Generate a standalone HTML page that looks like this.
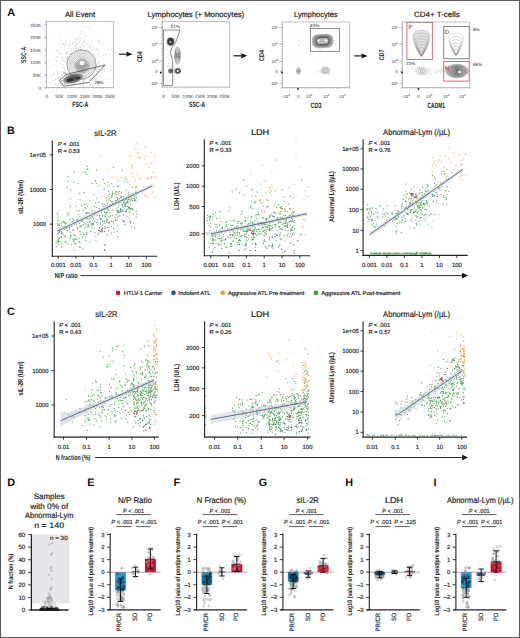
<!DOCTYPE html><html><head><meta charset="utf-8"><style>html,body{margin:0;padding:0;background:#fff;overflow:hidden}svg{display:block}text{font-family:"Liberation Sans", sans-serif;text-rendering:geometricPrecision}</style></head><body>
<svg width="520" height="638" viewBox="0 0 520 638">
<rect x="0" y="0" width="520" height="638" fill="#fff"/>
<text x="7.20" y="15.60" font-size="10.8" text-anchor="start" fill="#111" font-weight="bold">A</text>
<text x="80.00" y="16.50" font-size="7.7" text-anchor="middle" fill="#1a1a1a" textLength="30" lengthAdjust="spacingAndGlyphs" stroke="#1a1a1a" stroke-width="0.18">All Event</text>
<text x="195.80" y="16.50" font-size="7.7" text-anchor="middle" fill="#1a1a1a" textLength="96.7" lengthAdjust="spacingAndGlyphs" stroke="#1a1a1a" stroke-width="0.18">Lymphocytes (+ Monocytes)</text>
<text x="315.80" y="16.50" font-size="7.7" text-anchor="middle" fill="#1a1a1a" textLength="43.5" lengthAdjust="spacingAndGlyphs" stroke="#1a1a1a" stroke-width="0.18">Lymphocytes</text>
<text x="436.90" y="16.50" font-size="7.7" text-anchor="middle" fill="#1a1a1a" textLength="45.7" lengthAdjust="spacingAndGlyphs" stroke="#1a1a1a" stroke-width="0.18">CD4+ T-cells</text>
<path d="M81.0 64.0h0M84.6 41.9h0M77.7 57.4h0M70.3 73.8h0M75.5 47.0h0M69.1 74.9h0M81.7 66.0h0M97.1 49.5h0M75.1 56.0h0M73.6 56.5h0M86.9 61.4h0M85.3 55.6h0M82.3 52.1h0M69.8 58.3h0M80.6 49.7h0M89.3 46.5h0M64.9 61.4h0M75.5 72.6h0M58.2 43.6h0M65.5 62.0h0M58.9 54.2h0M78.2 50.3h0M65.8 72.2h0M84.3 55.8h0M82.9 80.0h0M78.8 52.6h0M50.8 66.6h0M74.5 59.3h0M80.4 53.0h0M82.4 69.1h0M62.6 60.1h0M75.3 69.2h0M69.3 61.4h0M71.3 49.0h0M93.7 60.8h0M71.3 62.6h0M80.6 73.5h0M91.6 51.1h0M74.0 61.5h0M79.7 41.3h0M82.3 69.8h0M81.8 49.0h0M66.3 40.3h0M81.9 61.3h0M97.3 75.3h0M62.4 43.7h0M91.3 48.9h0M82.4 53.1h0M73.3 48.4h0M105.0 66.6h0M90.1 52.3h0M66.6 53.3h0M81.9 69.0h0M87.9 52.9h0M78.7 67.2h0M89.2 50.3h0M80.2 47.5h0M89.0 40.0h0M98.3 84.3h0M72.9 58.2h0M83.4 64.9h0M75.4 61.6h0M82.5 63.9h0M66.8 62.6h0M74.0 84.9h0M78.6 49.5h0M91.8 43.3h0M94.7 49.9h0M65.1 46.0h0M71.5 71.0h0M88.8 71.8h0M57.1 50.5h0M75.4 45.3h0M79.8 57.7h0M96.1 78.7h0M89.3 28.2h0M77.1 68.3h0M76.6 49.1h0M78.0 74.5h0M99.3 49.1h0M75.9 58.6h0M77.4 43.9h0M85.2 50.3h0M79.6 78.6h0M78.6 71.8h0M67.6 57.2h0M80.9 51.6h0M75.7 39.3h0M95.0 57.3h0M88.8 61.6h0M80.7 61.0h0M89.0 60.9h0M76.9 48.5h0M93.6 61.2h0M80.9 61.5h0M88.0 77.5h0M65.5 84.4h0M85.2 60.4h0M60.7 52.8h0M56.6 61.2h0M77.3 54.7h0M70.2 53.1h0M83.0 61.3h0M107.9 49.5h0M71.0 69.3h0M73.5 60.8h0M83.5 65.0h0M86.9 59.8h0M78.9 53.3h0M78.5 50.6h0M89.4 59.2h0M87.2 55.4h0M68.6 64.8h0M80.0 61.9h0M81.4 45.7h0M68.3 62.8h0M84.1 45.9h0M70.7 54.6h0M92.7 58.5h0M83.3 37.1h0M82.1 63.1h0M73.9 63.8h0M79.6 60.1h0M57.0 56.9h0M67.4 57.5h0M85.4 50.3h0M55.5 58.8h0M91.2 55.4h0M60.0 63.1h0M90.1 47.6h0M70.9 64.8h0M90.3 63.7h0M82.6 60.3h0M62.6 56.7h0M96.0 68.6h0M98.3 42.0h0M80.2 67.5h0M77.7 64.9h0M79.1 65.4h0M69.3 66.6h0M94.2 54.2h0M74.5 58.9h0M80.4 69.6h0M71.5 67.2h0M73.5 64.5h0M65.7 43.8h0M96.1 68.5h0M79.2 76.0h0M92.6 74.1h0M81.2 64.8h0M72.7 43.3h0M77.1 73.3h0M74.3 60.2h0M81.1 31.6h0M76.5 66.5h0M77.4 44.1h0M64.5 46.4h0M71.3 54.4h0M100.8 77.3h0M72.9 57.5h0M68.4 65.3h0M85.0 83.0h0M97.9 81.1h0M63.6 60.8h0M78.5 59.1h0M73.4 46.9h0M59.9 53.7h0M89.8 67.1h0M80.7 66.7h0M81.9 63.3h0M72.0 73.9h0M86.5 52.7h0M74.5 61.3h0M79.3 70.8h0M67.7 69.0h0M66.4 74.9h0M97.0 66.8h0M74.9 58.3h0M84.5 66.3h0M80.6 50.0h0M75.7 42.3h0M74.9 69.0h0M88.6 61.3h0M77.4 65.7h0M79.2 41.6h0M81.3 57.6h0M95.1 54.8h0M89.2 51.6h0M85.6 34.9h0M74.2 58.0h0M64.4 72.8h0M92.4 66.6h0M92.6 54.8h0M79.3 61.8h0M87.5 71.1h0M90.4 28.9h0M91.0 60.5h0M92.1 68.5h0M75.5 70.2h0M99.2 82.4h0M66.0 75.6h0M91.3 65.8h0M86.9 65.6h0M91.5 71.4h0M103.5 55.5h0M98.8 61.5h0M67.3 72.9h0M60.7 85.5h0M90.8 60.1h0M68.8 61.4h0M80.9 64.4h0M91.1 78.1h0M61.3 61.6h0M55.7 79.6h0M84.1 50.4h0M81.5 59.8h0M78.1 59.6h0M81.5 71.4h0M70.7 74.5h0M62.8 43.9h0M79.0 51.0h0M69.3 66.0h0M61.3 54.1h0M87.1 43.7h0M80.3 74.5h0M85.9 67.9h0M69.1 67.9h0M73.1 56.3h0M69.0 74.3h0M70.4 59.1h0M83.3 75.2h0M71.6 51.1h0M85.3 51.8h0M85.1 64.5h0M105.3 53.6h0M64.3 70.1h0M91.7 65.1h0M79.9 50.9h0M80.8 62.9h0M63.6 57.8h0M75.5 73.0h0M89.9 54.4h0M80.0 56.7h0M82.0 76.5h0M94.9 86.0h0M80.7 62.8h0M54.6 64.6h0M72.7 80.4h0M57.4 60.5h0M74.6 63.4h0M97.0 67.4h0M81.6 52.1h0M66.9 42.2h0M69.7 44.8h0M94.6 70.0h0M82.9 52.9h0M81.6 60.3h0M80.4 64.6h0M81.5 69.4h0M90.7 58.0h0M87.6 68.0h0M83.6 51.3h0M68.5 57.7h0M87.1 49.7h0M72.8 75.6h0M94.1 61.7h0M65.7 53.1h0M79.3 57.8h0M80.9 59.3h0M65.1 70.4h0M101.7 42.9h0M98.5 49.6h0M75.4 57.5h0M85.5 73.5h0M49.6 60.7h0M84.0 70.5h0M82.0 59.2h0M68.1 57.6h0M77.8 76.5h0M78.9 67.9h0M95.3 70.1h0M85.0 55.9h0M80.9 85.1h0M99.3 82.5h0M74.3 68.8h0M76.3 70.2h0M59.2 37.7h0M99.8 69.7h0M92.6 59.7h0M92.0 67.2h0M89.0 70.2h0M82.3 57.9h0M83.6 41.7h0M78.0 66.4h0M78.6 53.1h0M81.7 58.0h0M99.1 54.7h0M87.7 57.9h0M80.3 34.3h0M74.0 76.6h0M73.4 65.0h0M100.2 75.3h0M87.1 85.8h0M81.8 62.3h0M76.8 40.4h0M67.7 51.3h0M80.2 47.5h0M91.5 56.0h0M76.3 63.0h0M78.3 38.0h0M78.3 66.1h0M82.3 43.9h0M61.9 65.6h0M78.2 60.7h0M70.7 58.2h0M91.6 61.1h0M71.8 55.5h0M87.9 54.7h0M99.3 41.8h0M77.2 61.6h0M73.8 84.1h0M83.3 85.8h0M81.0 77.9h0M69.1 70.5h0M86.5 53.9h0M105.2 79.3h0M77.9 61.3h0M78.6 61.2h0M68.5 58.5h0M84.8 63.1h0M66.0 56.8h0M67.7 61.0h0M96.4 49.0h0M70.1 57.5h0M99.3 61.2h0M84.1 59.1h0M87.6 68.4h0M104.4 70.5h0M78.6 48.6h0M73.9 59.5h0M64.8 73.0h0M81.5 65.2h0M98.7 63.5h0M92.5 80.6h0M69.7 53.9h0M70.7 63.0h0M74.9 55.8h0M84.5 79.9h0M78.5 38.6h0M83.6 54.0h0M84.6 55.7h0M77.4 70.0h0M80.5 69.3h0M83.5 78.7h0M80.0 43.1h0M87.0 71.0h0M103.5 58.5h0M88.1 54.0h0M81.7 68.5h0M60.8 51.0h0M85.7 37.1h0M57.6 57.6h0M64.1 44.0h0M91.3 54.2h0M89.5 66.5h0M79.2 65.7h0M60.5 81.0h0M76.5 59.6h0M72.9 43.6h0M88.6 52.9h0M108.1 51.0h0M83.6 47.4h0M71.6 67.2h0M67.0 54.3h0M80.3 38.3h0M78.9 70.4h0M67.2 60.7h0M82.4 66.3h0M67.2 63.3h0M94.3 69.6h0M93.8 62.5h0M94.0 76.8h0M75.3 67.1h0M87.2 66.7h0M79.4 66.9h0M76.3 44.5h0M76.9 60.0h0M65.4 58.9h0M63.7 64.5h0M90.5 45.7h0M78.7 81.6h0M83.6 63.3h0M93.0 47.5h0M60.2 41.5h0M71.6 58.6h0M83.1 60.9h0M85.7 53.4h0M76.5 63.1h0M93.4 54.3h0M83.5 68.6h0M66.4 53.3h0M69.8 61.5h0M90.7 73.7h0M58.2 49.9h0M97.2 56.4h0M88.2 51.9h0M97.1 71.4h0M76.4 48.2h0M77.5 56.2h0M67.5 61.6h0M111.4 50.3h0M78.9 50.5h0M100.1 56.3h0M73.2 36.8h0" stroke="#8a8a8a" stroke-width="0.6" stroke-linecap="round" stroke-opacity="0.75"/>
<path d="M51.1 65.3h0M71.7 70.9h0M83.0 46.4h0M76.3 64.4h0M70.7 48.4h0M96.0 49.1h0M91.1 59.2h0M78.4 58.5h0M62.3 47.8h0M92.6 50.3h0M68.4 78.0h0M56.6 61.8h0M64.0 73.9h0M109.0 79.6h0M84.4 68.6h0M70.4 43.1h0M98.8 72.6h0M68.0 52.3h0M95.3 22.8h0M70.0 40.6h0M78.3 70.0h0M86.5 72.2h0M104.2 71.3h0M70.2 56.7h0M74.4 69.8h0M80.3 56.6h0M82.2 76.5h0M86.3 69.4h0M96.3 39.4h0M58.0 75.3h0M97.4 53.9h0M95.5 64.7h0M85.1 41.6h0M83.1 41.6h0M61.5 57.5h0M77.8 66.9h0M89.2 76.4h0M94.9 55.4h0M71.3 76.9h0M86.1 58.3h0M74.4 56.3h0M82.4 68.3h0M77.4 77.1h0M57.2 51.9h0M79.6 53.6h0M97.5 55.1h0M60.7 59.5h0M75.2 41.8h0M93.3 76.5h0M58.6 50.8h0M83.7 66.3h0M58.8 43.1h0M102.7 64.5h0M94.8 64.7h0M82.0 75.3h0M111.0 46.1h0M53.6 51.1h0M101.1 65.8h0M79.0 59.1h0M108.2 58.9h0M83.7 52.8h0M66.5 25.4h0M85.5 53.9h0M80.7 64.7h0M89.8 44.9h0M69.6 45.1h0M98.0 62.9h0M94.0 32.2h0M83.0 26.5h0M81.4 38.8h0M70.9 40.6h0M76.2 39.0h0M103.8 69.7h0M52.3 33.3h0M103.8 63.4h0M67.2 52.2h0M58.0 56.9h0M105.2 68.2h0M54.0 61.5h0M72.8 60.2h0M98.6 40.5h0M103.8 68.5h0M71.5 53.6h0" stroke="#aaa" stroke-width="0.6" stroke-linecap="round" stroke-opacity="0.7"/>
<path d="M80.3 72.5h0M71.6 78.8h0M89.4 75.9h0M52.2 76.5h0M69.0 71.0h0M80.8 74.4h0M68.5 77.9h0M64.1 81.6h0M69.3 82.0h0M58.2 77.7h0M73.2 77.2h0M96.4 74.7h0M83.5 79.6h0M60.9 77.0h0M63.3 80.4h0M68.0 85.0h0M82.0 77.9h0M63.8 72.0h0M65.1 74.6h0M80.8 72.2h0M80.6 73.2h0M68.3 83.2h0M60.8 78.9h0M56.5 71.9h0M65.0 80.6h0M49.7 83.0h0M79.5 76.6h0M65.7 75.3h0M76.8 76.7h0M90.7 79.1h0M83.7 80.6h0M60.5 82.7h0M80.7 82.8h0M83.6 82.7h0M64.5 83.4h0M62.5 80.6h0M70.9 71.9h0M56.0 77.5h0M86.7 79.3h0M47.9 76.5h0M60.9 81.6h0M69.3 76.6h0M69.7 74.3h0M73.7 83.8h0M74.7 80.7h0M69.9 78.9h0M83.4 81.7h0M50.6 82.3h0M72.0 79.4h0M64.9 68.2h0M73.3 75.3h0M74.2 76.2h0M62.9 74.1h0M65.6 78.8h0M79.9 82.8h0M75.5 76.1h0M65.2 73.5h0M92.4 86.1h0M95.1 76.2h0M57.4 73.1h0M75.0 79.0h0M97.1 79.7h0M79.8 75.2h0M74.2 81.2h0M69.9 76.1h0M66.6 74.3h0M69.9 78.7h0M66.5 81.1h0M79.4 75.5h0M68.0 79.3h0M67.6 77.6h0M71.5 75.2h0M63.1 83.5h0M70.2 77.8h0M82.4 77.5h0M75.7 80.9h0M77.0 81.6h0M75.6 83.1h0M72.6 79.3h0M70.7 75.6h0M68.9 75.8h0M79.6 80.0h0M61.2 80.3h0M85.4 83.6h0M72.3 79.7h0M64.5 82.2h0M67.1 84.1h0M65.2 78.7h0M73.6 72.1h0M64.8 73.3h0M83.4 72.2h0M64.2 84.4h0M49.3 74.6h0M64.7 82.9h0M51.9 80.3h0M71.6 84.9h0M82.6 82.0h0M78.5 77.6h0M58.6 77.2h0M64.4 78.3h0M89.8 78.7h0M75.2 75.9h0M72.0 77.9h0M82.6 84.4h0M96.5 71.2h0M85.0 79.0h0M73.4 74.4h0M75.5 78.7h0M78.2 81.4h0M65.9 77.8h0M61.4 81.1h0M72.5 71.6h0M62.5 82.4h0M71.4 75.6h0M73.0 80.5h0M95.4 78.7h0M63.5 67.7h0M70.8 75.0h0M70.4 78.9h0M76.4 84.2h0M82.5 79.1h0M67.1 79.0h0M63.8 72.3h0M55.6 83.7h0M62.7 85.2h0M77.4 78.1h0M72.5 77.1h0M61.8 71.5h0M68.3 81.5h0M77.0 80.9h0M66.1 83.1h0M69.5 80.2h0M53.8 74.1h0M60.5 83.3h0M88.2 73.1h0M50.1 77.2h0M68.6 79.1h0M74.2 81.5h0M68.3 79.7h0M63.9 79.5h0M71.4 75.0h0M72.0 72.8h0M71.2 78.2h0M53.2 75.2h0M70.5 72.8h0M63.4 72.9h0M66.5 76.0h0M74.3 70.6h0M78.4 72.6h0M81.0 71.5h0M67.0 78.7h0M81.2 79.6h0M83.7 86.0h0M83.4 72.0h0M85.9 75.3h0M70.5 81.7h0M70.3 77.1h0M80.3 76.7h0" stroke="#777" stroke-width="0.6" stroke-linecap="round" stroke-opacity="0.7"/>
<circle cx="81.5" cy="64.5" r="14.6" fill="#fafafa" stroke="#555" stroke-width="0.5"/>
<ellipse cx="81.5" cy="64.5" rx="14.20" ry="14.20" fill="none" stroke="#9e9e9e" stroke-width="0.4"/>
<ellipse cx="81.5" cy="64.5" rx="12.78" ry="12.78" fill="none" stroke="#989898" stroke-width="0.4"/>
<ellipse cx="81.5" cy="64.5" rx="11.36" ry="11.36" fill="none" stroke="#929292" stroke-width="0.4"/>
<ellipse cx="81.5" cy="64.5" rx="9.94" ry="9.94" fill="none" stroke="#8d8d8d" stroke-width="0.4"/>
<ellipse cx="81.5" cy="64.5" rx="8.52" ry="8.52" fill="none" stroke="#878787" stroke-width="0.4"/>
<ellipse cx="81.5" cy="64.5" rx="7.10" ry="7.10" fill="none" stroke="#818181" stroke-width="0.4"/>
<ellipse cx="81.5" cy="64.5" rx="5.68" ry="5.68" fill="none" stroke="#7c7c7c" stroke-width="0.4"/>
<ellipse cx="81.5" cy="64.5" rx="4.26" ry="4.26" fill="none" stroke="#767676" stroke-width="0.4"/>
<ellipse cx="81.5" cy="64.5" rx="2.84" ry="2.84" fill="none" stroke="#707070" stroke-width="0.4"/>
<ellipse cx="81.5" cy="64.5" rx="1.42" ry="1.42" fill="none" stroke="#6b6b6b" stroke-width="0.4"/>
<ellipse cx="82.0" cy="66.0" rx="7.00" ry="7.00" fill="none" stroke="#7f7f7f" stroke-width="0.5"/>
<ellipse cx="82.0" cy="66.0" rx="5.83" ry="5.83" fill="none" stroke="#727272" stroke-width="0.5"/>
<ellipse cx="82.0" cy="66.0" rx="4.67" ry="4.67" fill="none" stroke="#666666" stroke-width="0.5"/>
<ellipse cx="82.0" cy="66.0" rx="3.50" ry="3.50" fill="none" stroke="#595959" stroke-width="0.5"/>
<ellipse cx="82.0" cy="66.0" rx="2.33" ry="2.33" fill="none" stroke="#4c4c4c" stroke-width="0.5"/>
<ellipse cx="82.0" cy="66.0" rx="1.17" ry="1.17" fill="none" stroke="#3f3f3f" stroke-width="0.5"/>
<ellipse cx="82" cy="63" rx="2.4" ry="2.2" fill="#fff"/>
<ellipse cx="73" cy="78.5" rx="9.5" ry="3.8" fill="#999" transform="rotate(-14 73 78.5)"/>
<ellipse cx="73.0" cy="78.5" rx="10.00" ry="4.20" fill="none" stroke="#727272" stroke-width="0.55" transform="rotate(-14 73 78.5)"/>
<ellipse cx="73.0" cy="78.5" rx="8.57" ry="3.60" fill="none" stroke="#666666" stroke-width="0.55" transform="rotate(-14 73 78.5)"/>
<ellipse cx="73.0" cy="78.5" rx="7.14" ry="3.00" fill="none" stroke="#595959" stroke-width="0.55" transform="rotate(-14 73 78.5)"/>
<ellipse cx="73.0" cy="78.5" rx="5.71" ry="2.40" fill="none" stroke="#4c4c4c" stroke-width="0.55" transform="rotate(-14 73 78.5)"/>
<ellipse cx="73.0" cy="78.5" rx="4.29" ry="1.80" fill="none" stroke="#3f3f3f" stroke-width="0.55" transform="rotate(-14 73 78.5)"/>
<ellipse cx="73.0" cy="78.5" rx="2.86" ry="1.20" fill="none" stroke="#323232" stroke-width="0.55" transform="rotate(-14 73 78.5)"/>
<ellipse cx="73.0" cy="78.5" rx="1.43" ry="0.60" fill="none" stroke="#262626" stroke-width="0.55" transform="rotate(-14 73 78.5)"/>
<ellipse cx="70" cy="80" rx="3.6" ry="1.6" fill="#2a2a2a" transform="rotate(-10 70 80)"/>
<ellipse cx="77.5" cy="78" rx="3" ry="1.4" fill="#3a3a3a" transform="rotate(-10 77.5 78)"/>
<path d="M59.5,80.5 L66.2,74.5 L105,65 L88.7,82.5 L63.7,86.2 Z" fill="none" stroke="#222" stroke-width="0.6"/>
<text x="94.50" y="83.60" font-size="4.6" text-anchor="start" fill="#333">28%</text>
<rect x="46.5" y="21.5" width="67.0" height="66.0" fill="none" stroke="#9a9a9a" stroke-width="0.6"/>
<line x1="45.30" y1="87.50" x2="46.50" y2="87.50" stroke="#777" stroke-width="0.4"/>
<line x1="45.30" y1="85.06" x2="46.50" y2="85.06" stroke="#777" stroke-width="0.4"/>
<line x1="45.30" y1="82.61" x2="46.50" y2="82.61" stroke="#777" stroke-width="0.4"/>
<line x1="45.30" y1="80.17" x2="46.50" y2="80.17" stroke="#777" stroke-width="0.4"/>
<line x1="45.30" y1="77.72" x2="46.50" y2="77.72" stroke="#777" stroke-width="0.4"/>
<line x1="45.30" y1="75.28" x2="46.50" y2="75.28" stroke="#777" stroke-width="0.4"/>
<line x1="45.30" y1="72.83" x2="46.50" y2="72.83" stroke="#777" stroke-width="0.4"/>
<line x1="45.30" y1="70.39" x2="46.50" y2="70.39" stroke="#777" stroke-width="0.4"/>
<line x1="45.30" y1="67.94" x2="46.50" y2="67.94" stroke="#777" stroke-width="0.4"/>
<line x1="45.30" y1="65.50" x2="46.50" y2="65.50" stroke="#777" stroke-width="0.4"/>
<line x1="45.30" y1="63.06" x2="46.50" y2="63.06" stroke="#777" stroke-width="0.4"/>
<line x1="45.30" y1="60.61" x2="46.50" y2="60.61" stroke="#777" stroke-width="0.4"/>
<line x1="45.30" y1="58.17" x2="46.50" y2="58.17" stroke="#777" stroke-width="0.4"/>
<line x1="45.30" y1="55.72" x2="46.50" y2="55.72" stroke="#777" stroke-width="0.4"/>
<line x1="45.30" y1="53.28" x2="46.50" y2="53.28" stroke="#777" stroke-width="0.4"/>
<line x1="45.30" y1="50.83" x2="46.50" y2="50.83" stroke="#777" stroke-width="0.4"/>
<line x1="45.30" y1="48.39" x2="46.50" y2="48.39" stroke="#777" stroke-width="0.4"/>
<line x1="45.30" y1="45.94" x2="46.50" y2="45.94" stroke="#777" stroke-width="0.4"/>
<line x1="45.30" y1="43.50" x2="46.50" y2="43.50" stroke="#777" stroke-width="0.4"/>
<line x1="45.30" y1="41.06" x2="46.50" y2="41.06" stroke="#777" stroke-width="0.4"/>
<line x1="45.30" y1="38.61" x2="46.50" y2="38.61" stroke="#777" stroke-width="0.4"/>
<line x1="45.30" y1="36.17" x2="46.50" y2="36.17" stroke="#777" stroke-width="0.4"/>
<line x1="45.30" y1="33.72" x2="46.50" y2="33.72" stroke="#777" stroke-width="0.4"/>
<line x1="45.30" y1="31.28" x2="46.50" y2="31.28" stroke="#777" stroke-width="0.4"/>
<line x1="45.30" y1="28.83" x2="46.50" y2="28.83" stroke="#777" stroke-width="0.4"/>
<line x1="45.30" y1="26.39" x2="46.50" y2="26.39" stroke="#777" stroke-width="0.4"/>
<line x1="45.30" y1="23.94" x2="46.50" y2="23.94" stroke="#777" stroke-width="0.4"/>
<line x1="45.30" y1="21.50" x2="46.50" y2="21.50" stroke="#777" stroke-width="0.4"/>
<line x1="46.50" y1="87.50" x2="46.50" y2="88.70" stroke="#777" stroke-width="0.4"/>
<line x1="48.98" y1="87.50" x2="48.98" y2="88.70" stroke="#777" stroke-width="0.4"/>
<line x1="51.46" y1="87.50" x2="51.46" y2="88.70" stroke="#777" stroke-width="0.4"/>
<line x1="53.94" y1="87.50" x2="53.94" y2="88.70" stroke="#777" stroke-width="0.4"/>
<line x1="56.43" y1="87.50" x2="56.43" y2="88.70" stroke="#777" stroke-width="0.4"/>
<line x1="58.91" y1="87.50" x2="58.91" y2="88.70" stroke="#777" stroke-width="0.4"/>
<line x1="61.39" y1="87.50" x2="61.39" y2="88.70" stroke="#777" stroke-width="0.4"/>
<line x1="63.87" y1="87.50" x2="63.87" y2="88.70" stroke="#777" stroke-width="0.4"/>
<line x1="66.35" y1="87.50" x2="66.35" y2="88.70" stroke="#777" stroke-width="0.4"/>
<line x1="68.83" y1="87.50" x2="68.83" y2="88.70" stroke="#777" stroke-width="0.4"/>
<line x1="71.31" y1="87.50" x2="71.31" y2="88.70" stroke="#777" stroke-width="0.4"/>
<line x1="73.80" y1="87.50" x2="73.80" y2="88.70" stroke="#777" stroke-width="0.4"/>
<line x1="76.28" y1="87.50" x2="76.28" y2="88.70" stroke="#777" stroke-width="0.4"/>
<line x1="78.76" y1="87.50" x2="78.76" y2="88.70" stroke="#777" stroke-width="0.4"/>
<line x1="81.24" y1="87.50" x2="81.24" y2="88.70" stroke="#777" stroke-width="0.4"/>
<line x1="83.72" y1="87.50" x2="83.72" y2="88.70" stroke="#777" stroke-width="0.4"/>
<line x1="86.20" y1="87.50" x2="86.20" y2="88.70" stroke="#777" stroke-width="0.4"/>
<line x1="88.69" y1="87.50" x2="88.69" y2="88.70" stroke="#777" stroke-width="0.4"/>
<line x1="91.17" y1="87.50" x2="91.17" y2="88.70" stroke="#777" stroke-width="0.4"/>
<line x1="93.65" y1="87.50" x2="93.65" y2="88.70" stroke="#777" stroke-width="0.4"/>
<line x1="96.13" y1="87.50" x2="96.13" y2="88.70" stroke="#777" stroke-width="0.4"/>
<line x1="98.61" y1="87.50" x2="98.61" y2="88.70" stroke="#777" stroke-width="0.4"/>
<line x1="101.09" y1="87.50" x2="101.09" y2="88.70" stroke="#777" stroke-width="0.4"/>
<line x1="103.57" y1="87.50" x2="103.57" y2="88.70" stroke="#777" stroke-width="0.4"/>
<line x1="106.06" y1="87.50" x2="106.06" y2="88.70" stroke="#777" stroke-width="0.4"/>
<line x1="108.54" y1="87.50" x2="108.54" y2="88.70" stroke="#777" stroke-width="0.4"/>
<line x1="111.02" y1="87.50" x2="111.02" y2="88.70" stroke="#777" stroke-width="0.4"/>
<line x1="113.50" y1="87.50" x2="113.50" y2="88.70" stroke="#777" stroke-width="0.4"/>
<text x="41.00" y="89.60" font-size="4.6" text-anchor="end" fill="#444">0</text>
<line x1="44.30" y1="88.00" x2="46.50" y2="88.00" stroke="#777" stroke-width="0.5"/>
<text x="41.00" y="76.98" font-size="4.6" text-anchor="end" fill="#444">50K</text>
<line x1="44.30" y1="75.38" x2="46.50" y2="75.38" stroke="#777" stroke-width="0.5"/>
<text x="41.00" y="64.36" font-size="4.6" text-anchor="end" fill="#444">100K</text>
<line x1="44.30" y1="62.76" x2="46.50" y2="62.76" stroke="#777" stroke-width="0.5"/>
<text x="41.00" y="51.74" font-size="4.6" text-anchor="end" fill="#444">150K</text>
<line x1="44.30" y1="50.14" x2="46.50" y2="50.14" stroke="#777" stroke-width="0.5"/>
<text x="41.00" y="39.12" font-size="4.6" text-anchor="end" fill="#444">200K</text>
<line x1="44.30" y1="37.52" x2="46.50" y2="37.52" stroke="#777" stroke-width="0.5"/>
<text x="41.00" y="26.50" font-size="4.6" text-anchor="end" fill="#444">250K</text>
<line x1="44.30" y1="24.90" x2="46.50" y2="24.90" stroke="#777" stroke-width="0.5"/>
<text x="46.90" y="97.70" font-size="4.6" text-anchor="middle" fill="#444">0</text>
<text x="59.40" y="97.70" font-size="4.6" text-anchor="middle" fill="#444">50K</text>
<text x="72.30" y="97.70" font-size="4.6" text-anchor="middle" fill="#444">100K</text>
<text x="85.00" y="97.70" font-size="4.6" text-anchor="middle" fill="#444">150K</text>
<text x="97.50" y="97.70" font-size="4.6" text-anchor="middle" fill="#444">200K</text>
<text x="110.00" y="97.70" font-size="4.6" text-anchor="middle" fill="#444">250K</text>
<text x="80.30" y="107.20" font-size="7.6" text-anchor="middle" fill="#1a1a1a" font-weight="bold" textLength="16" lengthAdjust="spacingAndGlyphs">FSC-A</text>
<text x="23.10" y="54.90" font-size="7" font-weight="bold" fill="#1a1a1a" text-anchor="middle" textLength="16" lengthAdjust="spacingAndGlyphs" transform="rotate(-90 23.10 54.90) translate(0 2.52)">SSC-A</text>
<line x1="118.90" y1="54.20" x2="127.22" y2="54.20" stroke="#111" stroke-width="1.1"/>
<path d="M132.50,54.20 L125.90,51.60 L127.22,54.20 L125.90,56.80 Z" fill="#111"/>
<path d="M178.8 54.0h0M170.6 42.6h0M167.4 57.4h0M166.7 62.3h0M173.3 36.1h0M173.2 44.6h0M166.5 42.8h0M168.1 66.5h0M174.1 79.9h0M174.3 67.9h0M169.4 51.1h0M174.5 76.5h0M174.3 34.8h0M164.9 77.0h0M170.8 46.8h0M163.4 78.1h0M170.9 41.6h0M175.0 58.4h0M178.3 53.0h0M182.5 35.2h0M167.5 46.5h0M175.8 62.6h0M176.9 59.1h0M175.9 72.8h0M172.6 57.1h0M174.5 46.0h0M169.1 59.6h0M183.3 38.5h0M174.8 74.6h0M179.3 42.8h0M168.4 63.4h0M177.9 55.1h0M178.4 41.4h0M178.2 51.1h0M171.9 48.8h0M167.2 49.2h0M171.3 66.6h0M165.2 47.9h0M172.4 43.3h0M168.0 60.0h0M171.3 54.6h0M171.6 70.4h0M177.2 67.8h0M171.8 55.5h0M176.8 53.6h0M168.9 44.0h0M170.7 43.3h0M175.6 42.0h0M167.0 50.5h0M170.9 50.0h0M166.7 66.4h0M172.5 50.4h0M178.5 53.2h0M169.0 38.9h0M172.9 79.0h0M168.4 63.1h0M167.4 81.0h0M167.1 67.2h0M177.8 76.9h0M181.4 52.5h0M173.9 66.0h0M174.8 38.9h0M170.7 72.5h0M175.2 79.8h0M173.2 61.9h0M173.1 66.7h0M174.4 73.9h0M169.7 46.6h0M170.4 61.8h0M165.1 43.6h0M170.2 46.3h0M166.3 47.2h0" stroke="#999" stroke-width="0.6" stroke-linecap="round" stroke-opacity="0.7"/>
<ellipse cx="170.6" cy="41.6" rx="3.4" ry="3.8" fill="#444"/>
<ellipse cx="170.6" cy="41.6" rx="3.60" ry="4.00" fill="none" stroke="#4c4c4c" stroke-width="0.6"/>
<ellipse cx="170.6" cy="41.6" rx="2.70" ry="3.00" fill="none" stroke="#373737" stroke-width="0.6"/>
<ellipse cx="170.6" cy="41.6" rx="1.80" ry="2.00" fill="none" stroke="#222222" stroke-width="0.6"/>
<ellipse cx="170.6" cy="41.6" rx="0.90" ry="1.00" fill="none" stroke="#0c0c0c" stroke-width="0.6"/>
<ellipse cx="170.4" cy="42" rx="1.2" ry="1.3" fill="#aaa"/>
<ellipse cx="177.5" cy="55.5" rx="2.6" ry="8.5" fill="#e8e8e8"/>
<ellipse cx="177.5" cy="55.5" rx="2.90" ry="8.80" fill="none" stroke="#7f7f7f" stroke-width="0.55"/>
<ellipse cx="177.5" cy="55.5" rx="2.32" ry="7.04" fill="none" stroke="#727272" stroke-width="0.55"/>
<ellipse cx="177.5" cy="55.5" rx="1.74" ry="5.28" fill="none" stroke="#666666" stroke-width="0.55"/>
<ellipse cx="177.5" cy="55.5" rx="1.16" ry="3.52" fill="none" stroke="#595959" stroke-width="0.55"/>
<ellipse cx="177.5" cy="55.5" rx="0.58" ry="1.76" fill="none" stroke="#4c4c4c" stroke-width="0.55"/>
<ellipse cx="170.6" cy="71" rx="2.2" ry="2.2" fill="#888"/>
<ellipse cx="170.6" cy="71.0" rx="2.40" ry="2.40" fill="none" stroke="#727272" stroke-width="0.5"/>
<ellipse cx="170.6" cy="71.0" rx="1.60" ry="1.60" fill="none" stroke="#525252" stroke-width="0.5"/>
<ellipse cx="170.6" cy="71.0" rx="0.80" ry="0.80" fill="none" stroke="#333333" stroke-width="0.5"/>
<ellipse cx="177.7" cy="71.0" rx="3.00" ry="2.60" fill="none" stroke="#4c4c4c" stroke-width="0.8"/>
<ellipse cx="177.7" cy="71.0" rx="2.25" ry="1.95" fill="none" stroke="#373737" stroke-width="0.8"/>
<ellipse cx="177.7" cy="71.0" rx="1.50" ry="1.30" fill="none" stroke="#222222" stroke-width="0.8"/>
<ellipse cx="177.7" cy="71.0" rx="0.75" ry="0.65" fill="none" stroke="#0c0c0c" stroke-width="0.8"/>
<ellipse cx="177.7" cy="71" rx="1" ry="0.9" fill="#fff"/>
<path d="M163.5,30 L180,30 L175.5,43 Q169.5,49 170.8,55 Q173,60 172.7,66 L172.7,85.4 L163.5,85.4 Z" fill="none" stroke="#333" stroke-width="0.55"/>
<text x="175.20" y="27.80" font-size="4.6" text-anchor="middle" fill="#333">51%</text>
<rect x="162.3" y="21.5" width="67.5" height="65.5" fill="none" stroke="#9a9a9a" stroke-width="0.6"/>
<line x1="161.10" y1="87.00" x2="162.30" y2="87.00" stroke="#777" stroke-width="0.4"/>
<line x1="161.10" y1="84.57" x2="162.30" y2="84.57" stroke="#777" stroke-width="0.4"/>
<line x1="161.10" y1="82.15" x2="162.30" y2="82.15" stroke="#777" stroke-width="0.4"/>
<line x1="161.10" y1="79.72" x2="162.30" y2="79.72" stroke="#777" stroke-width="0.4"/>
<line x1="161.10" y1="77.30" x2="162.30" y2="77.30" stroke="#777" stroke-width="0.4"/>
<line x1="161.10" y1="74.87" x2="162.30" y2="74.87" stroke="#777" stroke-width="0.4"/>
<line x1="161.10" y1="72.44" x2="162.30" y2="72.44" stroke="#777" stroke-width="0.4"/>
<line x1="161.10" y1="70.02" x2="162.30" y2="70.02" stroke="#777" stroke-width="0.4"/>
<line x1="161.10" y1="67.59" x2="162.30" y2="67.59" stroke="#777" stroke-width="0.4"/>
<line x1="161.10" y1="65.17" x2="162.30" y2="65.17" stroke="#777" stroke-width="0.4"/>
<line x1="161.10" y1="62.74" x2="162.30" y2="62.74" stroke="#777" stroke-width="0.4"/>
<line x1="161.10" y1="60.31" x2="162.30" y2="60.31" stroke="#777" stroke-width="0.4"/>
<line x1="161.10" y1="57.89" x2="162.30" y2="57.89" stroke="#777" stroke-width="0.4"/>
<line x1="161.10" y1="55.46" x2="162.30" y2="55.46" stroke="#777" stroke-width="0.4"/>
<line x1="161.10" y1="53.04" x2="162.30" y2="53.04" stroke="#777" stroke-width="0.4"/>
<line x1="161.10" y1="50.61" x2="162.30" y2="50.61" stroke="#777" stroke-width="0.4"/>
<line x1="161.10" y1="48.19" x2="162.30" y2="48.19" stroke="#777" stroke-width="0.4"/>
<line x1="161.10" y1="45.76" x2="162.30" y2="45.76" stroke="#777" stroke-width="0.4"/>
<line x1="161.10" y1="43.33" x2="162.30" y2="43.33" stroke="#777" stroke-width="0.4"/>
<line x1="161.10" y1="40.91" x2="162.30" y2="40.91" stroke="#777" stroke-width="0.4"/>
<line x1="161.10" y1="38.48" x2="162.30" y2="38.48" stroke="#777" stroke-width="0.4"/>
<line x1="161.10" y1="36.06" x2="162.30" y2="36.06" stroke="#777" stroke-width="0.4"/>
<line x1="161.10" y1="33.63" x2="162.30" y2="33.63" stroke="#777" stroke-width="0.4"/>
<line x1="161.10" y1="31.20" x2="162.30" y2="31.20" stroke="#777" stroke-width="0.4"/>
<line x1="161.10" y1="28.78" x2="162.30" y2="28.78" stroke="#777" stroke-width="0.4"/>
<line x1="161.10" y1="26.35" x2="162.30" y2="26.35" stroke="#777" stroke-width="0.4"/>
<line x1="161.10" y1="23.93" x2="162.30" y2="23.93" stroke="#777" stroke-width="0.4"/>
<line x1="161.10" y1="21.50" x2="162.30" y2="21.50" stroke="#777" stroke-width="0.4"/>
<line x1="162.30" y1="87.00" x2="162.30" y2="88.20" stroke="#777" stroke-width="0.4"/>
<line x1="164.80" y1="87.00" x2="164.80" y2="88.20" stroke="#777" stroke-width="0.4"/>
<line x1="167.30" y1="87.00" x2="167.30" y2="88.20" stroke="#777" stroke-width="0.4"/>
<line x1="169.80" y1="87.00" x2="169.80" y2="88.20" stroke="#777" stroke-width="0.4"/>
<line x1="172.30" y1="87.00" x2="172.30" y2="88.20" stroke="#777" stroke-width="0.4"/>
<line x1="174.80" y1="87.00" x2="174.80" y2="88.20" stroke="#777" stroke-width="0.4"/>
<line x1="177.30" y1="87.00" x2="177.30" y2="88.20" stroke="#777" stroke-width="0.4"/>
<line x1="179.80" y1="87.00" x2="179.80" y2="88.20" stroke="#777" stroke-width="0.4"/>
<line x1="182.30" y1="87.00" x2="182.30" y2="88.20" stroke="#777" stroke-width="0.4"/>
<line x1="184.80" y1="87.00" x2="184.80" y2="88.20" stroke="#777" stroke-width="0.4"/>
<line x1="187.30" y1="87.00" x2="187.30" y2="88.20" stroke="#777" stroke-width="0.4"/>
<line x1="189.80" y1="87.00" x2="189.80" y2="88.20" stroke="#777" stroke-width="0.4"/>
<line x1="192.30" y1="87.00" x2="192.30" y2="88.20" stroke="#777" stroke-width="0.4"/>
<line x1="194.80" y1="87.00" x2="194.80" y2="88.20" stroke="#777" stroke-width="0.4"/>
<line x1="197.30" y1="87.00" x2="197.30" y2="88.20" stroke="#777" stroke-width="0.4"/>
<line x1="199.80" y1="87.00" x2="199.80" y2="88.20" stroke="#777" stroke-width="0.4"/>
<line x1="202.30" y1="87.00" x2="202.30" y2="88.20" stroke="#777" stroke-width="0.4"/>
<line x1="204.80" y1="87.00" x2="204.80" y2="88.20" stroke="#777" stroke-width="0.4"/>
<line x1="207.30" y1="87.00" x2="207.30" y2="88.20" stroke="#777" stroke-width="0.4"/>
<line x1="209.80" y1="87.00" x2="209.80" y2="88.20" stroke="#777" stroke-width="0.4"/>
<line x1="212.30" y1="87.00" x2="212.30" y2="88.20" stroke="#777" stroke-width="0.4"/>
<line x1="214.80" y1="87.00" x2="214.80" y2="88.20" stroke="#777" stroke-width="0.4"/>
<line x1="217.30" y1="87.00" x2="217.30" y2="88.20" stroke="#777" stroke-width="0.4"/>
<line x1="219.80" y1="87.00" x2="219.80" y2="88.20" stroke="#777" stroke-width="0.4"/>
<line x1="222.30" y1="87.00" x2="222.30" y2="88.20" stroke="#777" stroke-width="0.4"/>
<line x1="224.80" y1="87.00" x2="224.80" y2="88.20" stroke="#777" stroke-width="0.4"/>
<line x1="227.30" y1="87.00" x2="227.30" y2="88.20" stroke="#777" stroke-width="0.4"/>
<line x1="229.80" y1="87.00" x2="229.80" y2="88.20" stroke="#777" stroke-width="0.4"/>
<text x="157.80" y="29.30" font-size="4.4" text-anchor="end" fill="#444">10<tspan font-size="3.08" dy="-1.54">5</tspan></text>
<line x1="159.80" y1="27.70" x2="162.30" y2="27.70" stroke="#777" stroke-width="0.5"/>
<text x="157.80" y="45.50" font-size="4.4" text-anchor="end" fill="#444">10<tspan font-size="3.08" dy="-1.54">4</tspan></text>
<line x1="159.80" y1="43.90" x2="162.30" y2="43.90" stroke="#777" stroke-width="0.5"/>
<text x="157.80" y="62.80" font-size="4.4" text-anchor="end" fill="#444">10<tspan font-size="3.08" dy="-1.54">3</tspan></text>
<line x1="159.80" y1="61.20" x2="162.30" y2="61.20" stroke="#777" stroke-width="0.5"/>
<text x="157.80" y="72.70" font-size="4.4" text-anchor="end" fill="#444">0</text>
<line x1="159.80" y1="71.10" x2="162.30" y2="71.10" stroke="#777" stroke-width="0.5"/>
<text x="157.80" y="85.20" font-size="4.4" text-anchor="end" fill="#444">-10<tspan font-size="3.08" dy="-1.54">3</tspan></text>
<line x1="159.80" y1="83.60" x2="162.30" y2="83.60" stroke="#777" stroke-width="0.5"/>
<path d="M160.7 72.7h0" stroke="#111" stroke-width="1.8" stroke-linecap="round"/>
<text x="163.50" y="97.70" font-size="4.6" text-anchor="middle" fill="#444">0</text>
<text x="175.74" y="97.70" font-size="4.6" text-anchor="middle" fill="#444">50K</text>
<text x="187.98" y="97.70" font-size="4.6" text-anchor="middle" fill="#444">100K</text>
<text x="200.22" y="97.70" font-size="4.6" text-anchor="middle" fill="#444">150K</text>
<text x="212.46" y="97.70" font-size="4.6" text-anchor="middle" fill="#444">200K</text>
<text x="224.70" y="97.70" font-size="4.6" text-anchor="middle" fill="#444">250K</text>
<text x="197.00" y="107.20" font-size="7.6" text-anchor="middle" fill="#1a1a1a" font-weight="bold" textLength="16" lengthAdjust="spacingAndGlyphs">SSC-A</text>
<text x="139.20" y="56.60" font-size="7" font-weight="bold" fill="#1a1a1a" text-anchor="middle" textLength="11" lengthAdjust="spacingAndGlyphs" transform="rotate(-90 139.20 56.60) translate(0 2.52)">CD4</text>
<line x1="233.50" y1="55.80" x2="241.86" y2="55.80" stroke="#111" stroke-width="1.2"/>
<path d="M247.30,55.80 L240.50,53.10 L241.86,55.80 L240.50,58.50 Z" fill="#111"/>
<path d="M297.8 55.3h0M298.2 34.3h0M298.7 45.3h0M295.8 56.0h0M301.0 42.4h0M299.8 40.6h0M299.1 44.9h0M297.5 40.3h0M297.9 56.7h0M298.8 36.5h0M298.6 51.2h0M295.4 33.7h0M299.1 49.5h0M302.5 43.1h0M295.2 22.8h0M299.5 44.0h0M298.6 35.2h0M297.8 40.3h0" stroke="#aaa" stroke-width="0.6" stroke-linecap="round" stroke-opacity="0.7"/>
<path d="M332.0 31.9h0M315.6 37.6h0M316.0 36.9h0M331.4 36.5h0M323.2 37.5h0M332.0 37.6h0M324.5 42.2h0M317.1 37.4h0M322.1 41.5h0M330.1 42.6h0M328.3 38.0h0M322.5 41.5h0M322.8 47.7h0M321.8 42.3h0M318.9 38.4h0M334.4 40.7h0M322.5 37.2h0M315.5 42.1h0M319.6 44.5h0M327.0 37.6h0M326.5 40.1h0M321.7 45.5h0M318.4 39.0h0M322.6 41.8h0M312.2 36.8h0M314.5 37.7h0M327.4 38.9h0M319.5 49.7h0M324.8 39.4h0M330.0 38.9h0M326.5 38.7h0M322.6 40.3h0M335.6 43.6h0M326.6 41.8h0M320.3 49.2h0M327.0 41.9h0M325.0 46.8h0M317.2 42.1h0M323.0 43.4h0M321.5 35.2h0M310.4 40.5h0M321.4 40.7h0M320.8 40.0h0M319.8 32.4h0M312.4 44.5h0M320.3 39.5h0M322.3 39.2h0M323.1 40.0h0M315.5 40.1h0M326.4 42.6h0M315.0 35.9h0M321.1 37.3h0M330.5 42.2h0M318.2 41.6h0M319.3 39.5h0M329.1 38.7h0M320.1 37.7h0M320.7 40.8h0M323.9 45.7h0M329.0 36.8h0" stroke="#888" stroke-width="0.6" stroke-linecap="round" stroke-opacity="0.7"/>
<rect x="312.5" y="34.5" width="20.5" height="13" rx="5" fill="#bdbdbd"/>
<rect x="312.5" y="34.5" width="20.5" height="13.0" rx="5.0" fill="none" stroke="#999" stroke-width="0.55" transform="rotate(-4 322.7 41)"/>
<rect x="313.7" y="35.4" width="18.1" height="11.2" rx="4.28" fill="none" stroke="#777" stroke-width="0.55" transform="rotate(-4 322.7 41)"/>
<rect x="314.9" y="36.3" width="15.7" height="9.4" rx="3.56" fill="none" stroke="#555" stroke-width="0.55" transform="rotate(-4 322.7 41)"/>
<rect x="315.9" y="37.05" width="13.7" height="7.9" rx="2.96" fill="none" stroke="#333" stroke-width="0.55" transform="rotate(-4 322.7 41)"/>
<rect x="316.8" y="37.725" width="11.9" height="6.550000000000001" rx="2.4200000000000004" fill="none" stroke="#222" stroke-width="0.55" transform="rotate(-4 322.7 41)"/>
<ellipse cx="318.5" cy="40.5" rx="1.3" ry="1.1" fill="#fff"/>
<ellipse cx="326" cy="40.5" rx="1.3" ry="1.1" fill="#fff"/>
<ellipse cx="298.5" cy="71.0" rx="2.00" ry="3.50" fill="none" stroke="#999999" stroke-width="0.5"/>
<ellipse cx="298.5" cy="71.0" rx="1.50" ry="2.62" fill="none" stroke="#838383" stroke-width="0.5"/>
<ellipse cx="298.5" cy="71.0" rx="1.00" ry="1.75" fill="none" stroke="#6e6e6e" stroke-width="0.5"/>
<ellipse cx="298.5" cy="71.0" rx="0.50" ry="0.88" fill="none" stroke="#595959" stroke-width="0.5"/>
<ellipse cx="325.5" cy="70.5" rx="4.50" ry="3.60" fill="none" stroke="#b7b7b7" stroke-width="0.55"/>
<ellipse cx="325.5" cy="70.5" rx="3.60" ry="2.88" fill="none" stroke="#a6a6a6" stroke-width="0.55"/>
<ellipse cx="325.5" cy="70.5" rx="2.70" ry="2.16" fill="none" stroke="#959595" stroke-width="0.55"/>
<ellipse cx="325.5" cy="70.5" rx="1.80" ry="1.44" fill="none" stroke="#838383" stroke-width="0.55"/>
<ellipse cx="325.5" cy="70.5" rx="0.90" ry="0.72" fill="none" stroke="#727272" stroke-width="0.55"/>
<ellipse cx="325.5" cy="70.5" rx="1.2" ry="1" fill="#fff"/>
<path d="M332.6 71.5h0M329.2 73.6h0M322.7 71.5h0M328.9 73.7h0M317.7 70.9h0M316.3 74.2h0M318.6 74.2h0M323.0 70.2h0M323.4 74.8h0M322.4 71.0h0M325.5 70.8h0M314.3 67.7h0M327.5 69.6h0M317.9 72.8h0M321.7 66.6h0M322.9 72.4h0M319.2 71.5h0M318.1 71.3h0M320.0 63.9h0M324.9 70.2h0M327.9 72.4h0M327.8 68.2h0M320.0 70.8h0M321.0 63.4h0M320.4 72.5h0M327.2 68.5h0M314.8 73.1h0M331.2 65.0h0M322.6 72.6h0M321.1 69.8h0" stroke="#aaa" stroke-width="0.6" stroke-linecap="round" stroke-opacity="0.6"/>
<rect x="310.5" y="28.4" width="29.1" height="23.1" fill="none" stroke="#333" stroke-width="0.55"/>
<text x="314.70" y="26.90" font-size="4.6" text-anchor="middle" fill="#333">83%</text>
<rect x="282.3" y="22" width="67.0" height="65.7" fill="none" stroke="#9a9a9a" stroke-width="0.6"/>
<line x1="281.10" y1="87.70" x2="282.30" y2="87.70" stroke="#777" stroke-width="0.4"/>
<line x1="281.10" y1="85.27" x2="282.30" y2="85.27" stroke="#777" stroke-width="0.4"/>
<line x1="281.10" y1="82.83" x2="282.30" y2="82.83" stroke="#777" stroke-width="0.4"/>
<line x1="281.10" y1="80.40" x2="282.30" y2="80.40" stroke="#777" stroke-width="0.4"/>
<line x1="281.10" y1="77.97" x2="282.30" y2="77.97" stroke="#777" stroke-width="0.4"/>
<line x1="281.10" y1="75.53" x2="282.30" y2="75.53" stroke="#777" stroke-width="0.4"/>
<line x1="281.10" y1="73.10" x2="282.30" y2="73.10" stroke="#777" stroke-width="0.4"/>
<line x1="281.10" y1="70.67" x2="282.30" y2="70.67" stroke="#777" stroke-width="0.4"/>
<line x1="281.10" y1="68.23" x2="282.30" y2="68.23" stroke="#777" stroke-width="0.4"/>
<line x1="281.10" y1="65.80" x2="282.30" y2="65.80" stroke="#777" stroke-width="0.4"/>
<line x1="281.10" y1="63.37" x2="282.30" y2="63.37" stroke="#777" stroke-width="0.4"/>
<line x1="281.10" y1="60.93" x2="282.30" y2="60.93" stroke="#777" stroke-width="0.4"/>
<line x1="281.10" y1="58.50" x2="282.30" y2="58.50" stroke="#777" stroke-width="0.4"/>
<line x1="281.10" y1="56.07" x2="282.30" y2="56.07" stroke="#777" stroke-width="0.4"/>
<line x1="281.10" y1="53.63" x2="282.30" y2="53.63" stroke="#777" stroke-width="0.4"/>
<line x1="281.10" y1="51.20" x2="282.30" y2="51.20" stroke="#777" stroke-width="0.4"/>
<line x1="281.10" y1="48.77" x2="282.30" y2="48.77" stroke="#777" stroke-width="0.4"/>
<line x1="281.10" y1="46.33" x2="282.30" y2="46.33" stroke="#777" stroke-width="0.4"/>
<line x1="281.10" y1="43.90" x2="282.30" y2="43.90" stroke="#777" stroke-width="0.4"/>
<line x1="281.10" y1="41.47" x2="282.30" y2="41.47" stroke="#777" stroke-width="0.4"/>
<line x1="281.10" y1="39.03" x2="282.30" y2="39.03" stroke="#777" stroke-width="0.4"/>
<line x1="281.10" y1="36.60" x2="282.30" y2="36.60" stroke="#777" stroke-width="0.4"/>
<line x1="281.10" y1="34.17" x2="282.30" y2="34.17" stroke="#777" stroke-width="0.4"/>
<line x1="281.10" y1="31.73" x2="282.30" y2="31.73" stroke="#777" stroke-width="0.4"/>
<line x1="281.10" y1="29.30" x2="282.30" y2="29.30" stroke="#777" stroke-width="0.4"/>
<line x1="281.10" y1="26.87" x2="282.30" y2="26.87" stroke="#777" stroke-width="0.4"/>
<line x1="281.10" y1="24.43" x2="282.30" y2="24.43" stroke="#777" stroke-width="0.4"/>
<line x1="281.10" y1="22.00" x2="282.30" y2="22.00" stroke="#777" stroke-width="0.4"/>
<line x1="282.30" y1="87.70" x2="282.30" y2="88.90" stroke="#777" stroke-width="0.4"/>
<line x1="284.78" y1="87.70" x2="284.78" y2="88.90" stroke="#777" stroke-width="0.4"/>
<line x1="287.26" y1="87.70" x2="287.26" y2="88.90" stroke="#777" stroke-width="0.4"/>
<line x1="289.74" y1="87.70" x2="289.74" y2="88.90" stroke="#777" stroke-width="0.4"/>
<line x1="292.23" y1="87.70" x2="292.23" y2="88.90" stroke="#777" stroke-width="0.4"/>
<line x1="294.71" y1="87.70" x2="294.71" y2="88.90" stroke="#777" stroke-width="0.4"/>
<line x1="297.19" y1="87.70" x2="297.19" y2="88.90" stroke="#777" stroke-width="0.4"/>
<line x1="299.67" y1="87.70" x2="299.67" y2="88.90" stroke="#777" stroke-width="0.4"/>
<line x1="302.15" y1="87.70" x2="302.15" y2="88.90" stroke="#777" stroke-width="0.4"/>
<line x1="304.63" y1="87.70" x2="304.63" y2="88.90" stroke="#777" stroke-width="0.4"/>
<line x1="307.11" y1="87.70" x2="307.11" y2="88.90" stroke="#777" stroke-width="0.4"/>
<line x1="309.60" y1="87.70" x2="309.60" y2="88.90" stroke="#777" stroke-width="0.4"/>
<line x1="312.08" y1="87.70" x2="312.08" y2="88.90" stroke="#777" stroke-width="0.4"/>
<line x1="314.56" y1="87.70" x2="314.56" y2="88.90" stroke="#777" stroke-width="0.4"/>
<line x1="317.04" y1="87.70" x2="317.04" y2="88.90" stroke="#777" stroke-width="0.4"/>
<line x1="319.52" y1="87.70" x2="319.52" y2="88.90" stroke="#777" stroke-width="0.4"/>
<line x1="322.00" y1="87.70" x2="322.00" y2="88.90" stroke="#777" stroke-width="0.4"/>
<line x1="324.49" y1="87.70" x2="324.49" y2="88.90" stroke="#777" stroke-width="0.4"/>
<line x1="326.97" y1="87.70" x2="326.97" y2="88.90" stroke="#777" stroke-width="0.4"/>
<line x1="329.45" y1="87.70" x2="329.45" y2="88.90" stroke="#777" stroke-width="0.4"/>
<line x1="331.93" y1="87.70" x2="331.93" y2="88.90" stroke="#777" stroke-width="0.4"/>
<line x1="334.41" y1="87.70" x2="334.41" y2="88.90" stroke="#777" stroke-width="0.4"/>
<line x1="336.89" y1="87.70" x2="336.89" y2="88.90" stroke="#777" stroke-width="0.4"/>
<line x1="339.37" y1="87.70" x2="339.37" y2="88.90" stroke="#777" stroke-width="0.4"/>
<line x1="341.86" y1="87.70" x2="341.86" y2="88.90" stroke="#777" stroke-width="0.4"/>
<line x1="344.34" y1="87.70" x2="344.34" y2="88.90" stroke="#777" stroke-width="0.4"/>
<line x1="346.82" y1="87.70" x2="346.82" y2="88.90" stroke="#777" stroke-width="0.4"/>
<line x1="349.30" y1="87.70" x2="349.30" y2="88.90" stroke="#777" stroke-width="0.4"/>
<text x="277.80" y="29.30" font-size="4.4" text-anchor="end" fill="#444">10<tspan font-size="3.08" dy="-1.54">5</tspan></text>
<line x1="279.80" y1="27.70" x2="282.30" y2="27.70" stroke="#777" stroke-width="0.5"/>
<text x="277.80" y="45.50" font-size="4.4" text-anchor="end" fill="#444">10<tspan font-size="3.08" dy="-1.54">4</tspan></text>
<line x1="279.80" y1="43.90" x2="282.30" y2="43.90" stroke="#777" stroke-width="0.5"/>
<text x="277.80" y="62.80" font-size="4.4" text-anchor="end" fill="#444">10<tspan font-size="3.08" dy="-1.54">3</tspan></text>
<line x1="279.80" y1="61.20" x2="282.30" y2="61.20" stroke="#777" stroke-width="0.5"/>
<text x="277.80" y="72.70" font-size="4.4" text-anchor="end" fill="#444">0</text>
<line x1="279.80" y1="71.10" x2="282.30" y2="71.10" stroke="#777" stroke-width="0.5"/>
<text x="277.80" y="85.20" font-size="4.4" text-anchor="end" fill="#444">-10<tspan font-size="3.08" dy="-1.54">3</tspan></text>
<line x1="279.80" y1="83.60" x2="282.30" y2="83.60" stroke="#777" stroke-width="0.5"/>
<path d="M281.9 72.3h0M298.0 88.9h0" stroke="#111" stroke-width="1.8" stroke-linecap="round"/>
<text x="286.00" y="97.70" font-size="4.4" text-anchor="middle" fill="#444">-10<tspan font-size="3.08" dy="-1.54">3</tspan></text>
<text x="298.50" y="97.70" font-size="4.4" text-anchor="middle" fill="#444">0</text>
<text x="309.00" y="97.70" font-size="4.4" text-anchor="middle" fill="#444">10<tspan font-size="3.08" dy="-1.54">3</tspan></text>
<text x="326.20" y="97.70" font-size="4.4" text-anchor="middle" fill="#444">10<tspan font-size="3.08" dy="-1.54">4</tspan></text>
<text x="342.40" y="97.70" font-size="4.4" text-anchor="middle" fill="#444">10<tspan font-size="3.08" dy="-1.54">5</tspan></text>
<text x="316.00" y="108.20" font-size="7.7" text-anchor="middle" fill="#1a1a1a" font-weight="bold" textLength="11" lengthAdjust="spacingAndGlyphs">CD3</text>
<text x="261.00" y="55.40" font-size="7" font-weight="bold" fill="#1a1a1a" text-anchor="middle" textLength="11" lengthAdjust="spacingAndGlyphs" transform="rotate(-90 261.00 55.40) translate(0 2.52)">CD4</text>
<line x1="354.30" y1="55.90" x2="362.32" y2="55.90" stroke="#111" stroke-width="1.2"/>
<path d="M367.60,55.90 L361.00,53.20 L362.32,55.90 L361.00,58.60 Z" fill="#111"/>
<path d="M421.5,57.0 C418.1,51.5 413.0,44.625 413.0,35.0 C413.0,28.675 430.0,28.675 430.0,35.0 C430.0,44.625 424.9,51.5 421.5,57.0 Z" fill="#e2e2e2"/>
<path d="M421.5,57.0 C418.1,51.5 413.0,44.625 413.0,35.0 C413.0,28.675 430.0,28.675 430.0,35.0 C430.0,44.625 424.9,51.5 421.5,57.0 Z" fill="none" stroke="#adadad" stroke-width="0.45" transform="translate(0.00 0.00) scale(1.000)"/>
<path d="M421.5,57.0 C418.1,51.5 413.0,44.625 413.0,35.0 C413.0,28.675 430.0,28.675 430.0,35.0 C430.0,44.625 424.9,51.5 421.5,57.0 Z" fill="none" stroke="#a6a6a6" stroke-width="0.51" transform="translate(49.59 6.45) scale(0.882)"/>
<path d="M421.5,57.0 C418.1,51.5 413.0,44.625 413.0,35.0 C413.0,28.675 430.0,28.675 430.0,35.0 C430.0,44.625 424.9,51.5 421.5,57.0 Z" fill="none" stroke="#a0a0a0" stroke-width="0.59" transform="translate(99.18 12.89) scale(0.765)"/>
<path d="M421.5,57.0 C418.1,51.5 413.0,44.625 413.0,35.0 C413.0,28.675 430.0,28.675 430.0,35.0 C430.0,44.625 424.9,51.5 421.5,57.0 Z" fill="none" stroke="#999999" stroke-width="0.70" transform="translate(148.76 19.34) scale(0.647)"/>
<path d="M421.5,57.0 C418.1,51.5 413.0,44.625 413.0,35.0 C413.0,28.675 430.0,28.675 430.0,35.0 C430.0,44.625 424.9,51.5 421.5,57.0 Z" fill="none" stroke="#939393" stroke-width="0.85" transform="translate(198.35 25.79) scale(0.529)"/>
<path d="M421.5,57.0 C418.1,51.5 413.0,44.625 413.0,35.0 C413.0,28.675 430.0,28.675 430.0,35.0 C430.0,44.625 424.9,51.5 421.5,57.0 Z" fill="none" stroke="#8c8c8c" stroke-width="1.09" transform="translate(247.94 32.24) scale(0.412)"/>
<path d="M421.5,57.0 C418.1,51.5 413.0,44.625 413.0,35.0 C413.0,28.675 430.0,28.675 430.0,35.0 C430.0,44.625 424.9,51.5 421.5,57.0 Z" fill="none" stroke="#868686" stroke-width="1.53" transform="translate(297.53 38.68) scale(0.294)"/>
<path d="M421.5,57.0 C418.1,51.5 413.0,44.625 413.0,35.0 C413.0,28.675 430.0,28.675 430.0,35.0 C430.0,44.625 424.9,51.5 421.5,57.0 Z" fill="none" stroke="#7f7f7f" stroke-width="2.55" transform="translate(347.12 45.13) scale(0.176)"/>
<path d="M456,56.1 C453.1,51.4 448.75,45.525000000000006 448.75,37.300000000000004 C448.75,31.895000000000003 463.25,31.895000000000003 463.25,37.300000000000004 C463.25,45.525000000000006 458.9,51.4 456,56.1 Z" fill="none" stroke="#b2b2b2" stroke-width="0.45" transform="translate(0.00 0.00) scale(1.000)"/>
<path d="M456,56.1 C453.1,51.4 448.75,45.525000000000006 448.75,37.300000000000004 C448.75,31.895000000000003 463.25,31.895000000000003 463.25,37.300000000000004 C463.25,45.525000000000006 458.9,51.4 456,56.1 Z" fill="none" stroke="#a8a8a8" stroke-width="0.53" transform="translate(70.15 8.34) scale(0.846)"/>
<path d="M456,56.1 C453.1,51.4 448.75,45.525000000000006 448.75,37.300000000000004 C448.75,31.895000000000003 463.25,31.895000000000003 463.25,37.300000000000004 C463.25,45.525000000000006 458.9,51.4 456,56.1 Z" fill="none" stroke="#9e9e9e" stroke-width="0.65" transform="translate(140.31 16.68) scale(0.692)"/>
<path d="M456,56.1 C453.1,51.4 448.75,45.525000000000006 448.75,37.300000000000004 C448.75,31.895000000000003 463.25,31.895000000000003 463.25,37.300000000000004 C463.25,45.525000000000006 458.9,51.4 456,56.1 Z" fill="none" stroke="#939393" stroke-width="0.84" transform="translate(210.46 25.02) scale(0.538)"/>
<path d="M456,56.1 C453.1,51.4 448.75,45.525000000000006 448.75,37.300000000000004 C448.75,31.895000000000003 463.25,31.895000000000003 463.25,37.300000000000004 C463.25,45.525000000000006 458.9,51.4 456,56.1 Z" fill="none" stroke="#898989" stroke-width="1.17" transform="translate(280.62 33.37) scale(0.385)"/>
<path d="M456,56.1 C453.1,51.4 448.75,45.525000000000006 448.75,37.300000000000004 C448.75,31.895000000000003 463.25,31.895000000000003 463.25,37.300000000000004 C463.25,45.525000000000006 458.9,51.4 456,56.1 Z" fill="none" stroke="#7f7f7f" stroke-width="1.95" transform="translate(350.77 41.71) scale(0.231)"/>
<ellipse cx="457" cy="71" rx="11" ry="6.5" fill="#c4c4c4"/>
<ellipse cx="457.0" cy="71.0" rx="11.20" ry="6.80" fill="none" stroke="#8c8c8c" stroke-width="0.55"/>
<ellipse cx="457.0" cy="71.0" rx="9.96" ry="6.04" fill="none" stroke="#818181" stroke-width="0.55"/>
<ellipse cx="457.0" cy="71.0" rx="8.71" ry="5.29" fill="none" stroke="#757575" stroke-width="0.55"/>
<ellipse cx="457.0" cy="71.0" rx="7.47" ry="4.53" fill="none" stroke="#6a6a6a" stroke-width="0.55"/>
<ellipse cx="457.0" cy="71.0" rx="6.22" ry="3.78" fill="none" stroke="#5f5f5f" stroke-width="0.55"/>
<ellipse cx="457.0" cy="71.0" rx="4.98" ry="3.02" fill="none" stroke="#545454" stroke-width="0.55"/>
<ellipse cx="457.0" cy="71.0" rx="3.73" ry="2.27" fill="none" stroke="#494949" stroke-width="0.55"/>
<ellipse cx="457.0" cy="71.0" rx="2.49" ry="1.51" fill="none" stroke="#3e3e3e" stroke-width="0.55"/>
<ellipse cx="457.0" cy="71.0" rx="1.24" ry="0.76" fill="none" stroke="#333333" stroke-width="0.55"/>
<ellipse cx="459.5" cy="72" rx="1.6" ry="1.1" fill="#fff"/>
<ellipse cx="421.5" cy="71.0" rx="6.50" ry="3.80" fill="none" stroke="#b2b2b2" stroke-width="0.45"/>
<ellipse cx="421.5" cy="71.0" rx="4.88" ry="2.85" fill="none" stroke="#9d9d9d" stroke-width="0.45"/>
<ellipse cx="421.5" cy="71.0" rx="3.25" ry="1.90" fill="none" stroke="#888888" stroke-width="0.45"/>
<ellipse cx="421.5" cy="71.0" rx="1.62" ry="0.95" fill="none" stroke="#727272" stroke-width="0.45"/>
<path d="M440.7 69.9h0M428.5 68.3h0M430.7 73.0h0M450.7 70.4h0M429.2 71.0h0M430.1 69.4h0M433.1 69.5h0M427.8 69.8h0M443.3 71.0h0M447.1 72.1h0M430.1 68.1h0M422.9 72.6h0M443.2 69.7h0M442.8 69.9h0M440.8 72.5h0M443.1 71.4h0M428.9 69.2h0M433.8 74.3h0M425.3 70.2h0M425.1 71.9h0M441.9 71.8h0M430.3 73.6h0M451.0 70.8h0M435.5 73.0h0M430.5 70.4h0M440.6 73.2h0M447.6 70.4h0M438.4 71.0h0M426.5 74.3h0M437.6 72.0h0M444.6 71.7h0M431.5 74.9h0M429.6 72.0h0M442.1 70.3h0M436.0 72.6h0M427.3 69.7h0M432.3 73.2h0M429.7 73.3h0M437.1 70.6h0M435.8 70.6h0M443.1 71.8h0M440.0 71.5h0M424.1 70.0h0M437.8 72.4h0M441.3 68.4h0M438.2 70.9h0M442.2 70.9h0M431.2 71.1h0M428.3 72.0h0M441.5 69.7h0" stroke="#999" stroke-width="0.6" stroke-linecap="round" stroke-opacity="0.6"/>
<rect x="406.9" y="22.3" width="25.4" height="37.2" fill="none" stroke="#c8475c" stroke-width="0.8"/>
<rect x="443.8" y="26.5" width="25.4" height="32.3" fill="none" stroke="#444" stroke-width="0.65"/>
<rect x="443.8" y="61.5" width="25.4" height="19.6" fill="none" stroke="#c8475c" stroke-width="0.8"/>
<text x="408.60" y="29.40" font-size="6" text-anchor="start" fill="#c8475c" stroke="#c8475c" stroke-width="0.18">P</text>
<text x="444.80" y="34.20" font-size="6" text-anchor="start" fill="#c8475c" stroke="#c8475c" stroke-width="0.18">D</text>
<text x="444.80" y="70.20" font-size="6" text-anchor="start" fill="#c8475c" stroke="#c8475c" stroke-width="0.18">N</text>
<text x="473.00" y="30.80" font-size="4.6" text-anchor="start" fill="#333">8%</text>
<text x="473.00" y="66.10" font-size="4.6" text-anchor="start" fill="#333">66%</text>
<text x="406.00" y="65.00" font-size="4.6" text-anchor="start" fill="#333">22%</text>
<rect x="402.3" y="22" width="67.5" height="65.7" fill="none" stroke="#9a9a9a" stroke-width="0.6"/>
<line x1="401.10" y1="87.70" x2="402.30" y2="87.70" stroke="#777" stroke-width="0.4"/>
<line x1="401.10" y1="85.27" x2="402.30" y2="85.27" stroke="#777" stroke-width="0.4"/>
<line x1="401.10" y1="82.83" x2="402.30" y2="82.83" stroke="#777" stroke-width="0.4"/>
<line x1="401.10" y1="80.40" x2="402.30" y2="80.40" stroke="#777" stroke-width="0.4"/>
<line x1="401.10" y1="77.97" x2="402.30" y2="77.97" stroke="#777" stroke-width="0.4"/>
<line x1="401.10" y1="75.53" x2="402.30" y2="75.53" stroke="#777" stroke-width="0.4"/>
<line x1="401.10" y1="73.10" x2="402.30" y2="73.10" stroke="#777" stroke-width="0.4"/>
<line x1="401.10" y1="70.67" x2="402.30" y2="70.67" stroke="#777" stroke-width="0.4"/>
<line x1="401.10" y1="68.23" x2="402.30" y2="68.23" stroke="#777" stroke-width="0.4"/>
<line x1="401.10" y1="65.80" x2="402.30" y2="65.80" stroke="#777" stroke-width="0.4"/>
<line x1="401.10" y1="63.37" x2="402.30" y2="63.37" stroke="#777" stroke-width="0.4"/>
<line x1="401.10" y1="60.93" x2="402.30" y2="60.93" stroke="#777" stroke-width="0.4"/>
<line x1="401.10" y1="58.50" x2="402.30" y2="58.50" stroke="#777" stroke-width="0.4"/>
<line x1="401.10" y1="56.07" x2="402.30" y2="56.07" stroke="#777" stroke-width="0.4"/>
<line x1="401.10" y1="53.63" x2="402.30" y2="53.63" stroke="#777" stroke-width="0.4"/>
<line x1="401.10" y1="51.20" x2="402.30" y2="51.20" stroke="#777" stroke-width="0.4"/>
<line x1="401.10" y1="48.77" x2="402.30" y2="48.77" stroke="#777" stroke-width="0.4"/>
<line x1="401.10" y1="46.33" x2="402.30" y2="46.33" stroke="#777" stroke-width="0.4"/>
<line x1="401.10" y1="43.90" x2="402.30" y2="43.90" stroke="#777" stroke-width="0.4"/>
<line x1="401.10" y1="41.47" x2="402.30" y2="41.47" stroke="#777" stroke-width="0.4"/>
<line x1="401.10" y1="39.03" x2="402.30" y2="39.03" stroke="#777" stroke-width="0.4"/>
<line x1="401.10" y1="36.60" x2="402.30" y2="36.60" stroke="#777" stroke-width="0.4"/>
<line x1="401.10" y1="34.17" x2="402.30" y2="34.17" stroke="#777" stroke-width="0.4"/>
<line x1="401.10" y1="31.73" x2="402.30" y2="31.73" stroke="#777" stroke-width="0.4"/>
<line x1="401.10" y1="29.30" x2="402.30" y2="29.30" stroke="#777" stroke-width="0.4"/>
<line x1="401.10" y1="26.87" x2="402.30" y2="26.87" stroke="#777" stroke-width="0.4"/>
<line x1="401.10" y1="24.43" x2="402.30" y2="24.43" stroke="#777" stroke-width="0.4"/>
<line x1="401.10" y1="22.00" x2="402.30" y2="22.00" stroke="#777" stroke-width="0.4"/>
<line x1="402.30" y1="87.70" x2="402.30" y2="88.90" stroke="#777" stroke-width="0.4"/>
<line x1="404.80" y1="87.70" x2="404.80" y2="88.90" stroke="#777" stroke-width="0.4"/>
<line x1="407.30" y1="87.70" x2="407.30" y2="88.90" stroke="#777" stroke-width="0.4"/>
<line x1="409.80" y1="87.70" x2="409.80" y2="88.90" stroke="#777" stroke-width="0.4"/>
<line x1="412.30" y1="87.70" x2="412.30" y2="88.90" stroke="#777" stroke-width="0.4"/>
<line x1="414.80" y1="87.70" x2="414.80" y2="88.90" stroke="#777" stroke-width="0.4"/>
<line x1="417.30" y1="87.70" x2="417.30" y2="88.90" stroke="#777" stroke-width="0.4"/>
<line x1="419.80" y1="87.70" x2="419.80" y2="88.90" stroke="#777" stroke-width="0.4"/>
<line x1="422.30" y1="87.70" x2="422.30" y2="88.90" stroke="#777" stroke-width="0.4"/>
<line x1="424.80" y1="87.70" x2="424.80" y2="88.90" stroke="#777" stroke-width="0.4"/>
<line x1="427.30" y1="87.70" x2="427.30" y2="88.90" stroke="#777" stroke-width="0.4"/>
<line x1="429.80" y1="87.70" x2="429.80" y2="88.90" stroke="#777" stroke-width="0.4"/>
<line x1="432.30" y1="87.70" x2="432.30" y2="88.90" stroke="#777" stroke-width="0.4"/>
<line x1="434.80" y1="87.70" x2="434.80" y2="88.90" stroke="#777" stroke-width="0.4"/>
<line x1="437.30" y1="87.70" x2="437.30" y2="88.90" stroke="#777" stroke-width="0.4"/>
<line x1="439.80" y1="87.70" x2="439.80" y2="88.90" stroke="#777" stroke-width="0.4"/>
<line x1="442.30" y1="87.70" x2="442.30" y2="88.90" stroke="#777" stroke-width="0.4"/>
<line x1="444.80" y1="87.70" x2="444.80" y2="88.90" stroke="#777" stroke-width="0.4"/>
<line x1="447.30" y1="87.70" x2="447.30" y2="88.90" stroke="#777" stroke-width="0.4"/>
<line x1="449.80" y1="87.70" x2="449.80" y2="88.90" stroke="#777" stroke-width="0.4"/>
<line x1="452.30" y1="87.70" x2="452.30" y2="88.90" stroke="#777" stroke-width="0.4"/>
<line x1="454.80" y1="87.70" x2="454.80" y2="88.90" stroke="#777" stroke-width="0.4"/>
<line x1="457.30" y1="87.70" x2="457.30" y2="88.90" stroke="#777" stroke-width="0.4"/>
<line x1="459.80" y1="87.70" x2="459.80" y2="88.90" stroke="#777" stroke-width="0.4"/>
<line x1="462.30" y1="87.70" x2="462.30" y2="88.90" stroke="#777" stroke-width="0.4"/>
<line x1="464.80" y1="87.70" x2="464.80" y2="88.90" stroke="#777" stroke-width="0.4"/>
<line x1="467.30" y1="87.70" x2="467.30" y2="88.90" stroke="#777" stroke-width="0.4"/>
<line x1="469.80" y1="87.70" x2="469.80" y2="88.90" stroke="#777" stroke-width="0.4"/>
<text x="397.80" y="29.30" font-size="4.4" text-anchor="end" fill="#444">10<tspan font-size="3.08" dy="-1.54">5</tspan></text>
<line x1="399.80" y1="27.70" x2="402.30" y2="27.70" stroke="#777" stroke-width="0.5"/>
<text x="397.80" y="45.50" font-size="4.4" text-anchor="end" fill="#444">10<tspan font-size="3.08" dy="-1.54">4</tspan></text>
<line x1="399.80" y1="43.90" x2="402.30" y2="43.90" stroke="#777" stroke-width="0.5"/>
<text x="397.80" y="62.80" font-size="4.4" text-anchor="end" fill="#444">10<tspan font-size="3.08" dy="-1.54">3</tspan></text>
<line x1="399.80" y1="61.20" x2="402.30" y2="61.20" stroke="#777" stroke-width="0.5"/>
<text x="397.80" y="72.70" font-size="4.4" text-anchor="end" fill="#444">0</text>
<line x1="399.80" y1="71.10" x2="402.30" y2="71.10" stroke="#777" stroke-width="0.5"/>
<text x="397.80" y="85.20" font-size="4.4" text-anchor="end" fill="#444">-10<tspan font-size="3.08" dy="-1.54">3</tspan></text>
<line x1="399.80" y1="83.60" x2="402.30" y2="83.60" stroke="#777" stroke-width="0.5"/>
<path d="M401.9 72.3h0M418.5 88.9h0" stroke="#111" stroke-width="1.8" stroke-linecap="round"/>
<text x="406.00" y="97.70" font-size="4.4" text-anchor="middle" fill="#444">-10<tspan font-size="3.08" dy="-1.54">3</tspan></text>
<text x="418.50" y="97.70" font-size="4.4" text-anchor="middle" fill="#444">0</text>
<text x="429.00" y="97.70" font-size="4.4" text-anchor="middle" fill="#444">10<tspan font-size="3.08" dy="-1.54">3</tspan></text>
<text x="446.20" y="97.70" font-size="4.4" text-anchor="middle" fill="#444">10<tspan font-size="3.08" dy="-1.54">4</tspan></text>
<text x="462.40" y="97.70" font-size="4.4" text-anchor="middle" fill="#444">10<tspan font-size="3.08" dy="-1.54">5</tspan></text>
<text x="436.30" y="108.20" font-size="7.7" text-anchor="middle" fill="#1a1a1a" font-weight="bold" textLength="17.5" lengthAdjust="spacingAndGlyphs">CADM1</text>
<text x="381.00" y="55.00" font-size="7" font-weight="bold" fill="#1a1a1a" text-anchor="middle" textLength="11" lengthAdjust="spacingAndGlyphs" transform="rotate(-90 381.00 55.00) translate(0 2.52)">CD7</text>
<text x="7.00" y="134.20" font-size="10.8" text-anchor="start" fill="#111" font-weight="bold">B</text>
<path d="M129.7 199.6h0M119.6 191.4h0M84.8 227.1h0M83.1 224.6h0M74.8 239.3h0M64.8 229.4h0M90.6 231.5h0M79.1 238.2h0M117.0 220.8h0M104.3 221.6h0M101.1 219.7h0M77.7 229.0h0M111.7 204.6h0M133.9 198.4h0M122.1 204.3h0M130.2 223.7h0M98.7 202.4h0M130.3 197.8h0M104.8 215.8h0M102.3 203.7h0M129.3 209.2h0M115.7 200.6h0M61.4 237.6h0M93.6 218.7h0M80.0 199.8h0M122.8 210.9h0M79.6 210.9h0M125.0 206.8h0M122.7 220.5h0M80.6 234.1h0M109.0 210.8h0M127.2 202.8h0M116.4 209.3h0M87.3 218.9h0M128.7 192.2h0M130.2 200.8h0M69.5 229.1h0M80.7 247.1h0M96.3 222.6h0M117.1 231.7h0M67.8 230.3h0M120.8 209.2h0M126.5 202.9h0M85.8 212.9h0M70.3 219.0h0M74.7 224.3h0M86.8 232.3h0M94.1 206.4h0M108.8 196.3h0M127.7 201.4h0M128.7 194.6h0M120.7 197.7h0M98.7 233.1h0M104.5 212.4h0M119.8 211.8h0M123.3 203.1h0M75.3 235.3h0M76.8 225.1h0M57.9 233.2h0M102.5 221.2h0M118.7 205.2h0M73.8 241.7h0M65.9 223.5h0M74.8 243.5h0M132.3 187.4h0M101.7 209.5h0M112.2 210.3h0M83.2 210.5h0M72.3 221.6h0M107.4 219.2h0M59.6 231.4h0M87.0 213.0h0M104.2 221.0h0M122.3 205.2h0M110.6 216.0h0M105.0 228.5h0M62.1 233.0h0M94.9 221.0h0M118.0 236.9h0M57.1 213.3h0M81.4 226.0h0M73.0 219.2h0M88.6 225.0h0M59.2 225.6h0M136.2 192.6h0M85.2 207.7h0M70.8 236.9h0M125.0 203.1h0M119.7 202.3h0M57.5 223.8h0M115.5 220.5h0M81.4 205.4h0M73.0 239.5h0M65.3 235.7h0M63.0 226.8h0M118.1 207.2h0M109.6 194.4h0M105.1 227.9h0M112.6 194.9h0M77.9 219.2h0M65.3 241.3h0M108.8 206.3h0M86.0 224.0h0M72.8 229.9h0M103.0 206.0h0M59.3 229.2h0M136.2 216.8h0M114.8 217.6h0M108.7 217.0h0M106.5 212.5h0M64.7 222.3h0M57.8 220.8h0M119.1 212.4h0M116.4 200.7h0M66.2 228.0h0M111.8 197.1h0M96.8 198.3h0M107.5 212.5h0M61.3 223.2h0M124.9 224.5h0M123.6 221.6h0M102.7 210.5h0M115.5 219.8h0M96.2 207.3h0M109.6 222.8h0M70.5 235.9h0M114.1 232.1h0M93.7 194.6h0M97.2 215.6h0M86.3 218.6h0M106.8 219.1h0M84.0 222.8h0M112.4 215.6h0M102.7 215.4h0M117.0 197.6h0M114.2 193.8h0M83.5 234.2h0M87.2 213.5h0M128.6 207.4h0M123.3 207.8h0M115.4 202.3h0M67.5 214.1h0M102.6 216.3h0M68.1 243.9h0M84.0 192.5h0M117.0 191.7h0M63.1 234.3h0M118.7 210.8h0M85.6 236.9h0M80.0 242.7h0M130.4 204.3h0M125.7 211.4h0M112.9 201.9h0M99.5 215.5h0M85.7 208.4h0M129.0 208.7h0M118.5 212.1h0M70.9 235.1h0M102.4 220.9h0M75.6 206.6h0M82.3 221.4h0M57.7 225.4h0M104.8 209.3h0M79.8 230.9h0M136.5 214.1h0M69.7 227.6h0M92.5 210.7h0M95.0 212.2h0M127.1 200.9h0M61.1 231.5h0M135.9 200.4h0M74.2 235.0h0M112.4 192.0h0M84.6 204.7h0M80.0 216.9h0M76.7 220.1h0M119.9 202.5h0M104.2 223.4h0M110.1 198.5h0M115.5 192.9h0M134.6 227.5h0M102.4 225.2h0M78.3 214.1h0M108.3 209.3h0M79.4 246.9h0M64.5 237.0h0M64.9 226.2h0M117.9 216.9h0M87.0 226.6h0M124.9 181.6h0M83.3 248.9h0M111.6 221.4h0M136.3 197.2h0M109.9 204.6h0M61.8 225.2h0M118.6 185.9h0M77.3 227.7h0M99.2 208.3h0M116.6 194.6h0M121.4 196.7h0M96.0 240.8h0M119.2 198.7h0M75.0 239.5h0M111.2 226.4h0M125.3 204.5h0M132.3 208.6h0M135.7 187.2h0M115.5 204.3h0M90.3 221.6h0M59.7 224.2h0M64.4 222.5h0M73.9 249.9h0M82.6 237.2h0M131.7 199.8h0M108.7 199.8h0M122.5 206.1h0M62.4 222.1h0M69.8 227.4h0M130.5 201.2h0M89.6 222.2h0M117.7 200.0h0M70.1 238.4h0M133.0 214.2h0M123.0 200.5h0M80.3 227.1h0M68.3 225.4h0M61.4 236.3h0M114.0 223.8h0M112.5 203.5h0M123.7 196.4h0M124.6 201.7h0M131.1 196.8h0M59.5 237.3h0M87.5 222.2h0M70.3 189.7h0M117.6 186.5h0M76.9 239.3h0M117.8 203.0h0M67.0 230.1h0M135.5 192.4h0M61.7 247.2h0M86.5 232.8h0M79.9 226.2h0M57.6 241.2h0M125.7 206.2h0M111.3 201.8h0M71.8 226.2h0M128.8 218.1h0M91.9 225.6h0M131.6 226.6h0M80.0 231.4h0M87.6 206.2h0M93.4 223.4h0M57.5 233.5h0M112.4 194.0h0M68.4 214.9h0M104.3 226.4h0M94.2 228.2h0M104.2 204.2h0M126.3 199.0h0M89.3 219.0h0M126.5 209.9h0M125.0 206.2h0M79.2 241.7h0M126.5 198.1h0M85.7 240.4h0M92.3 227.8h0M73.9 230.2h0M77.6 227.4h0M97.8 222.6h0M119.2 216.0h0M92.0 216.4h0M67.2 226.7h0M101.6 212.1h0M128.3 198.0h0M65.8 242.2h0M100.5 223.0h0M69.0 212.5h0M112.7 204.1h0M121.3 192.6h0M123.5 202.0h0M110.2 206.2h0M88.8 212.9h0M127.4 209.1h0M86.8 217.1h0M70.0 232.0h0M128.2 199.5h0M116.3 214.4h0M59.0 241.4h0M94.8 215.0h0M58.4 239.9h0M83.4 225.1h0M71.8 244.6h0M88.2 212.9h0M110.0 212.9h0M61.2 233.8h0M131.8 198.1h0M130.7 222.8h0M105.1 216.4h0M84.8 234.3h0M74.0 240.2h0M97.1 220.0h0M87.9 224.9h0M107.4 203.7h0M105.8 205.7h0M105.7 213.8h0M86.5 203.9h0M132.6 209.7h0M125.6 190.3h0M122.2 210.1h0M129.3 212.1h0M92.0 213.1h0M73.5 220.2h0M77.3 210.7h0M121.1 212.1h0M136.2 197.8h0M117.3 211.8h0M65.1 223.9h0M132.4 200.7h0M129.9 211.8h0M128.2 202.5h0M106.9 220.3h0M113.1 221.9h0M99.7 217.6h0M56.2 242.5h0M123.5 215.0h0M62.0 243.6h0M98.1 230.5h0M127.0 180.1h0M134.5 200.5h0M92.5 217.2h0M133.4 222.9h0M106.4 214.4h0M122.2 211.2h0M90.1 241.6h0M125.7 178.8h0M107.1 208.6h0M70.3 206.5h0M117.9 225.6h0M136.8 211.1h0M79.3 223.7h0M93.2 224.9h0M130.6 209.0h0M89.6 201.1h0M125.7 199.7h0M100.7 219.2h0M95.8 202.9h0M78.0 220.6h0M86.7 234.5h0M88.6 226.7h0M63.6 221.3h0M110.5 200.4h0M93.0 224.2h0M106.8 197.8h0M117.7 198.9h0M61.4 233.0h0M132.9 210.2h0M132.8 193.6h0M60.9 231.3h0M89.3 222.3h0M131.8 195.7h0M134.4 196.5h0M76.0 243.8h0M98.0 234.5h0M127.8 206.7h0M59.6 238.4h0M105.1 216.1h0M94.9 232.6h0M108.0 208.6h0M75.9 238.3h0M82.8 232.8h0M95.9 236.4h0M56.2 247.1h0M82.0 220.5h0M92.2 223.8h0M96.3 183.3h0M83.1 172.6h0M67.8 176.4h0M96.5 170.0h0M87.3 166.4h0M99.1 185.5h0M87.0 169.0h0M68.4 181.3h0M86.1 174.2h0M104.2 189.0h0M104.4 183.3h0M92.0 183.7h0M67.1 187.5h0M95.4 181.0h0M122.6 170.0h0M118.2 180.3h0M78.2 183.6h0M103.3 179.5h0M127.9 182.6h0M87.9 169.2h0M73.9 182.2h0M70.5 199.1h0M73.8 172.1h0M85.8 172.4h0M108.0 186.4h0M111.5 196.3h0M108.4 191.0h0M113.4 167.5h0M79.6 193.3h0" stroke="#389c40" stroke-width="1.3" stroke-linecap="round" stroke-opacity="0.85"/>
<path d="M58.7 227.6h0M58.4 224.0h0M59.4 232.4h0M58.7 218.1h0M59.0 232.3h0M58.8 240.2h0M58.7 244.3h0M57.9 241.3h0M58.9 234.3h0M58.7 211.3h0M58.7 230.4h0M57.7 237.2h0M58.1 242.6h0M60.5 241.7h0M58.8 238.9h0M57.8 220.5h0M57.9 215.9h0M57.8 214.0h0" stroke="#389c40" stroke-width="1.1" stroke-linecap="round" stroke-opacity="0.85"/>
<path d="M151.5 152.6h0M132.5 176.9h0M130.1 184.3h0M131.9 166.6h0M137.9 152.3h0M136.4 186.5h0M130.5 155.9h0M144.8 146.7h0M135.4 180.7h0M146.4 164.6h0M138.7 157.5h0M153.7 164.5h0M151.8 177.0h0M144.6 195.7h0M147.7 196.9h0M148.9 178.9h0M138.4 153.6h0M140.3 179.8h0M154.4 186.4h0M132.6 172.7h0M147.3 178.7h0M152.4 192.0h0M131.5 165.5h0M135.9 149.0h0M151.2 178.1h0M130.6 156.3h0M140.6 191.3h0M151.3 163.4h0M155.1 177.0h0M130.1 163.1h0M145.3 155.8h0M132.1 168.1h0M140.3 178.2h0M137.0 173.9h0M136.2 143.0h0M144.4 158.6h0M148.5 167.4h0M154.8 156.6h0M152.9 172.5h0M147.2 177.5h0M140.3 157.7h0M146.4 195.5h0M143.8 186.2h0M135.8 190.5h0M155.3 197.2h0M107.8 182.5h0M115.6 191.0h0M111.4 183.2h0M121.3 177.8h0M118.6 192.9h0M120.3 195.9h0M128.4 195.8h0M125.8 202.6h0M113.6 187.2h0M108.8 169.1h0M101.7 196.3h0M112.0 177.8h0M112.7 194.9h0M125.9 177.1h0M111.4 195.3h0M116.8 177.5h0M106.5 200.6h0" stroke="#e5a040" stroke-width="1.3" stroke-linecap="round" stroke-opacity="0.85"/>
<path d="M117.3 210.5h0M100.6 231.4h0M117.8 212.7h0M100.9 218.7h0M129.3 207.7h0M104.3 231.3h0M120.7 209.0h0M90.7 218.1h0M120.7 211.0h0M131.0 208.6h0M125.1 204.1h0M109.4 221.8h0M130.1 221.5h0M113.7 228.7h0M108.2 222.9h0M134.8 199.9h0M107.0 234.6h0M124.1 221.4h0M126.4 211.2h0M108.5 230.6h0M106.7 221.7h0M107.6 227.6h0M92.1 223.9h0M126.8 216.1h0M111.5 233.1h0" stroke="#2a4f88" stroke-width="1.3" stroke-linecap="round" stroke-opacity="0.85"/>
<path d="M102.2 230.9h0M101.5 229.4h0M99.7 227.6h0M102.5 228.2h0M101.7 229.8h0M99.2 230.7h0M101.1 231.9h0" stroke="#b92040" stroke-width="1.4" stroke-linecap="round" stroke-opacity="0.9"/>
<path d="M105.0 245.0h0M104.5 250.0h0" stroke="#b92040" stroke-width="1.4" stroke-linecap="round"/>
<path d="M138.0 144.0h0M101.0 156.0h0" stroke="#e5a040" stroke-width="1.2" stroke-linecap="round"/>
<path d="M57.4,229.0 L152.5,183.5 L152.5,187.9 L57.4,233.4 Z" fill="#c3c7d8" opacity="0.45"/>
<line x1="57.40" y1="231.20" x2="152.50" y2="185.70" stroke="#4d5b80" stroke-width="0.85"/>
<line x1="52.30" y1="140.40" x2="52.30" y2="256.75" stroke="#222" stroke-width="1.1"/>
<line x1="51.75" y1="256.20" x2="157.30" y2="256.20" stroke="#222" stroke-width="1.1"/>
<line x1="49.70" y1="154.80" x2="52.30" y2="154.80" stroke="#222" stroke-width="0.9"/>
<text x="46.00" y="156.90" font-size="5.9" text-anchor="end" fill="#2a2a2a" stroke="#2a2a2a" stroke-width="0.18">1e+05</text>
<line x1="49.70" y1="189.50" x2="52.30" y2="189.50" stroke="#222" stroke-width="0.9"/>
<text x="46.00" y="191.60" font-size="5.9" text-anchor="end" fill="#2a2a2a" stroke="#2a2a2a" stroke-width="0.18">10000</text>
<line x1="49.70" y1="224.20" x2="52.30" y2="224.20" stroke="#222" stroke-width="0.9"/>
<text x="46.00" y="226.30" font-size="5.9" text-anchor="end" fill="#2a2a2a" stroke="#2a2a2a" stroke-width="0.18">1000</text>
<line x1="58.30" y1="256.20" x2="58.30" y2="258.80" stroke="#222" stroke-width="0.9"/>
<text x="58.30" y="266.90" font-size="5.9" text-anchor="middle" fill="#2a2a2a" stroke="#2a2a2a" stroke-width="0.18">0.001</text>
<line x1="75.90" y1="256.20" x2="75.90" y2="258.80" stroke="#222" stroke-width="0.9"/>
<text x="75.90" y="266.90" font-size="5.9" text-anchor="middle" fill="#2a2a2a" stroke="#2a2a2a" stroke-width="0.18">0.01</text>
<line x1="93.50" y1="256.20" x2="93.50" y2="258.80" stroke="#222" stroke-width="0.9"/>
<text x="93.50" y="266.90" font-size="5.9" text-anchor="middle" fill="#2a2a2a" stroke="#2a2a2a" stroke-width="0.18">0.1</text>
<line x1="111.10" y1="256.20" x2="111.10" y2="258.80" stroke="#222" stroke-width="0.9"/>
<text x="111.10" y="266.90" font-size="5.9" text-anchor="middle" fill="#2a2a2a" stroke="#2a2a2a" stroke-width="0.18">1</text>
<line x1="128.70" y1="256.20" x2="128.70" y2="258.80" stroke="#222" stroke-width="0.9"/>
<text x="128.70" y="266.90" font-size="5.9" text-anchor="middle" fill="#2a2a2a" stroke="#2a2a2a" stroke-width="0.18">10</text>
<line x1="146.30" y1="256.20" x2="146.30" y2="258.80" stroke="#222" stroke-width="0.9"/>
<text x="146.30" y="266.90" font-size="5.9" text-anchor="middle" fill="#2a2a2a" stroke="#2a2a2a" stroke-width="0.18">100</text>
<text x="105.40" y="135.52" font-size="8.4" text-anchor="middle" fill="#1a1a1a" textLength="22.3" lengthAdjust="spacingAndGlyphs" stroke="#1a1a1a" stroke-width="0.18">sIL-2R</text>
<text x="57.70" y="146.00" font-size="5.8" fill="#222" stroke="#222" stroke-width="0.18"><tspan font-style="italic">P</tspan> &lt; .001</text>
<text x="57.70" y="153.00" font-size="5.8" text-anchor="start" fill="#222" stroke="#222" stroke-width="0.18">R = 0.53</text>
<text x="20.20" y="197.00" font-size="7.1" font-weight="bold" fill="#1a1a1a" text-anchor="middle" textLength="34" lengthAdjust="spacingAndGlyphs" transform="rotate(-90 20.20 197.00) translate(0 2.56)">sIL-2R (U/ml)</text>
<path d="M279.6 226.7h0M289.3 216.1h0M258.2 229.4h0M280.5 222.4h0M213.3 239.1h0M236.7 227.9h0M256.5 235.0h0M293.6 215.0h0M220.2 211.6h0M256.2 234.6h0M273.2 248.2h0M221.8 248.5h0M251.6 237.6h0M286.3 225.3h0M217.5 243.8h0M253.3 226.5h0M215.9 226.8h0M286.1 223.6h0M251.6 239.8h0M255.9 214.8h0M285.6 215.2h0M267.5 226.7h0M238.6 240.7h0M288.0 230.6h0M233.1 240.9h0M260.5 222.9h0M221.2 240.9h0M272.1 244.1h0M252.6 231.4h0M212.9 241.0h0M264.2 239.9h0M291.6 213.4h0M279.6 235.8h0M286.6 219.9h0M231.6 230.0h0M245.5 226.5h0M291.1 228.8h0M260.4 222.4h0M261.5 233.8h0M244.2 231.0h0M292.8 219.9h0M272.2 227.8h0M237.3 232.2h0M222.0 240.3h0M247.5 231.5h0M254.7 237.4h0M251.1 217.8h0M270.2 230.1h0M225.8 238.9h0M219.3 225.6h0M253.0 231.3h0M221.1 238.9h0M276.8 207.5h0M281.4 208.7h0M215.5 236.5h0M275.6 226.9h0M267.8 207.0h0M268.0 218.5h0M282.2 218.0h0M212.9 235.1h0M261.4 223.0h0M262.4 217.6h0M294.4 222.8h0M230.9 237.9h0M240.6 240.6h0M271.2 215.0h0M292.7 219.8h0M287.6 227.4h0M233.0 241.6h0M264.3 234.8h0M220.9 221.6h0M225.7 222.3h0M248.3 229.2h0M258.4 223.8h0M293.1 197.9h0M272.3 245.7h0M274.8 224.3h0M280.7 239.7h0M230.4 234.6h0M287.5 226.8h0M213.7 243.2h0M289.4 221.9h0M216.5 230.7h0M286.0 220.9h0M269.4 239.7h0M248.0 217.6h0M250.3 222.9h0M237.5 232.2h0M261.2 228.9h0M234.8 233.2h0M242.0 211.2h0M264.3 230.6h0M216.8 224.3h0M262.7 223.7h0M293.9 225.3h0M253.8 233.2h0M214.9 247.7h0M287.9 223.0h0M226.1 246.9h0M272.6 215.9h0M215.8 239.8h0M245.8 227.2h0M219.0 233.8h0M248.4 239.0h0M284.7 241.1h0M285.3 251.0h0M263.5 231.3h0M267.8 200.5h0M233.4 234.8h0M273.8 212.3h0M242.4 229.0h0M229.1 211.2h0M285.6 219.1h0M239.4 232.7h0M238.7 240.6h0M280.2 228.7h0M230.7 243.6h0M274.5 212.3h0M230.6 245.9h0M232.2 234.3h0M247.0 230.6h0M264.1 223.7h0M234.4 227.5h0M289.7 214.8h0M292.8 227.5h0M265.8 226.8h0M245.5 220.7h0M278.9 227.0h0M252.6 222.3h0M266.1 234.2h0M234.3 220.5h0M230.9 234.6h0M278.4 222.9h0M280.3 232.3h0M248.2 230.3h0M266.4 231.2h0M292.2 221.4h0M225.7 231.9h0M280.4 214.3h0M259.0 231.8h0M263.4 227.4h0M272.0 237.0h0M258.0 222.5h0M212.9 238.6h0M241.8 235.7h0M231.7 229.2h0M291.8 218.3h0M265.6 224.3h0M267.9 229.7h0M212.1 252.6h0M225.4 239.7h0M254.3 216.1h0M274.7 216.9h0M290.4 220.9h0M282.1 229.6h0M217.9 238.5h0M265.1 232.4h0M248.6 223.6h0M233.1 230.9h0M226.8 221.5h0M283.4 223.2h0M276.1 240.8h0M250.7 221.5h0M281.0 228.8h0M287.2 226.2h0M212.5 251.9h0M237.0 235.5h0M251.8 237.4h0M287.4 224.8h0M240.7 236.2h0M266.3 218.6h0M245.2 221.3h0M212.5 239.9h0M272.9 225.1h0M256.8 229.8h0M280.2 234.8h0M237.5 221.3h0M262.4 227.0h0M252.6 239.6h0M238.6 221.3h0M293.1 212.6h0M280.6 207.3h0M244.7 236.6h0M285.4 226.4h0M230.1 220.8h0M246.9 240.7h0M252.3 225.1h0M237.8 229.3h0M242.0 235.7h0M282.0 230.1h0M273.5 216.3h0M272.5 227.3h0M223.2 234.6h0M290.5 234.1h0M265.5 219.9h0M226.5 247.4h0M280.1 207.7h0M221.4 241.2h0M264.0 240.7h0M292.0 227.0h0M288.0 233.6h0M274.7 233.8h0M215.0 224.3h0M227.5 228.9h0M231.3 244.4h0M239.6 234.3h0M268.4 224.8h0M284.4 235.6h0M269.2 230.1h0M220.1 217.8h0M287.3 211.8h0M254.9 229.5h0M272.6 221.5h0M242.1 222.7h0M242.6 229.2h0M278.4 219.9h0M281.2 238.7h0M294.2 220.3h0M243.3 230.3h0M214.1 234.1h0M250.5 225.4h0M285.7 222.2h0M254.9 227.1h0M219.9 235.9h0M255.5 228.1h0M283.7 215.2h0M282.8 224.6h0M256.8 218.7h0M224.1 239.8h0M291.5 236.2h0M212.2 236.7h0M267.7 226.6h0M279.2 222.7h0M217.5 226.9h0M265.5 229.9h0M274.1 216.6h0M212.2 243.5h0M285.0 211.5h0M275.8 225.2h0M232.6 235.8h0M246.9 240.5h0M270.0 229.2h0M269.6 215.7h0M254.2 230.8h0M244.9 231.6h0M287.5 235.6h0M271.6 221.7h0M215.8 234.7h0M290.3 225.2h0M264.2 224.7h0M244.7 221.8h0M242.0 224.9h0M287.8 222.9h0M269.1 225.5h0M226.5 226.3h0M252.0 227.2h0M275.5 225.0h0M216.7 218.5h0M258.2 214.5h0M241.3 213.8h0M258.2 212.9h0M232.7 235.1h0M229.8 234.9h0M261.6 211.1h0M236.3 238.5h0M224.4 243.5h0M276.0 224.3h0M256.4 231.4h0M220.9 239.1h0M234.6 227.4h0M293.8 233.7h0M240.5 223.5h0M245.6 226.8h0M283.9 201.3h0M246.2 236.9h0M292.5 215.0h0M246.1 245.2h0M282.4 208.7h0M292.5 234.5h0M266.6 206.3h0M229.8 232.1h0M290.2 220.9h0M287.7 217.7h0M239.3 244.8h0M294.0 212.0h0M283.5 219.4h0M291.0 221.1h0M233.9 232.2h0M225.4 232.1h0M214.2 240.2h0M261.2 224.7h0M213.1 249.2h0M222.4 228.3h0M214.1 236.2h0M245.3 234.3h0M238.9 236.6h0M239.6 244.0h0M234.7 227.7h0M219.0 244.1h0M246.9 229.5h0M281.7 206.5h0M246.9 237.3h0M280.9 211.6h0M280.8 218.4h0M234.1 236.8h0M277.5 218.6h0M230.9 225.4h0M262.9 230.9h0M285.1 230.5h0M248.4 224.3h0M266.8 222.6h0M269.1 228.5h0M270.2 225.5h0M233.0 230.5h0M289.4 236.8h0M262.2 224.0h0M222.3 227.3h0M244.4 226.9h0M219.4 238.7h0M277.8 217.3h0M237.7 223.6h0M257.0 214.6h0M246.1 248.1h0M244.4 235.1h0M275.6 213.7h0M284.8 226.0h0M228.3 237.3h0M292.3 230.4h0M263.7 218.0h0M294.2 230.1h0M258.4 234.2h0M279.2 213.1h0M244.1 231.8h0M293.3 221.9h0M235.4 234.8h0M278.7 204.7h0M259.3 229.2h0M266.8 222.3h0M260.0 234.0h0M285.2 223.4h0M252.4 223.6h0M269.8 216.5h0M291.9 217.9h0M221.4 237.4h0M280.6 222.1h0M234.1 220.5h0M242.0 244.3h0M277.0 230.6h0M246.8 230.3h0M223.1 236.4h0M260.0 231.7h0M267.4 227.4h0M259.8 225.3h0M291.7 230.0h0M240.7 229.7h0M263.4 223.8h0M248.6 229.8h0M249.9 228.3h0M246.1 231.4h0M254.5 223.9h0M270.9 228.7h0M265.9 233.3h0M289.7 208.5h0M278.9 220.9h0M244.9 217.4h0M266.4 219.7h0M284.9 209.3h0M253.8 230.0h0M218.9 230.6h0M294.4 228.5h0M221.7 232.5h0M240.6 227.8h0M247.9 224.5h0M254.9 221.0h0M221.0 244.0h0M290.9 209.2h0M290.6 230.9h0M265.1 224.2h0M219.5 224.8h0M248.7 230.1h0M236.6 226.5h0M238.0 225.9h0M237.8 242.4h0M252.3 233.8h0M215.5 212.6h0M247.8 227.7h0M212.6 235.0h0M220.2 231.1h0M246.2 243.2h0M269.7 217.4h0M242.0 223.4h0M249.6 230.2h0M218.9 245.1h0M251.6 216.4h0M269.9 223.0h0M271.1 221.8h0M251.7 233.8h0M228.9 253.0h0M259.8 233.9h0M276.3 219.5h0M225.2 227.4h0M213.2 214.5h0M233.9 232.8h0M253.1 235.9h0M248.3 235.1h0M290.9 215.7h0M231.7 246.4h0M246.1 219.9h0M253.9 237.4h0M287.4 225.3h0M280.0 217.7h0M285.4 230.6h0M226.5 224.5h0M232.5 225.0h0M269.6 227.8h0M229.5 207.8h0M239.7 193.0h0M255.2 202.0h0M260.0 200.2h0M281.9 189.5h0M251.8 189.3h0M246.9 185.8h0M252.1 189.7h0M260.5 184.1h0M290.1 196.2h0M232.1 191.9h0M244.1 195.2h0M261.0 203.1h0M236.4 188.9h0M257.2 192.0h0M260.2 200.1h0M250.7 207.4h0M243.5 180.2h0M250.8 205.6h0M288.6 203.8h0M252.1 196.3h0M275.1 190.7h0M254.3 202.3h0M252.6 208.5h0" stroke="#389c40" stroke-width="1.3" stroke-linecap="round" stroke-opacity="0.85"/>
<path d="M212.7 219.8h0M206.1 232.8h0M212.6 216.5h0M210.3 215.9h0M209.6 218.9h0M210.4 226.9h0M210.4 223.5h0M206.1 221.0h0M207.6 220.4h0M207.0 233.0h0M208.8 242.2h0M209.2 232.8h0M210.8 243.2h0M209.9 216.2h0M208.9 216.1h0M210.0 217.1h0M209.5 219.9h0M211.9 218.1h0M210.4 238.2h0M207.6 234.6h0M208.0 223.5h0M207.4 215.5h0M210.5 217.4h0M207.0 217.9h0M211.5 232.5h0M209.0 234.2h0M211.6 235.6h0M209.3 225.3h0M209.4 247.6h0M209.8 230.7h0" stroke="#389c40" stroke-width="1.1" stroke-linecap="round" stroke-opacity="0.85"/>
<path d="M303.3 219.7h0M253.8 191.8h0M306.5 215.0h0M251.4 202.3h0M284.6 208.7h0M283.7 197.2h0M250.9 174.1h0M265.2 226.5h0M271.2 226.5h0M274.2 206.0h0M275.7 202.1h0M271.4 190.9h0M270.1 187.3h0M309.0 186.8h0M302.0 180.3h0M256.1 201.4h0M303.0 225.8h0M256.4 195.9h0M292.4 211.9h0M280.0 213.0h0M269.1 190.9h0M288.1 216.0h0M255.1 202.7h0M271.1 230.4h0M285.7 227.8h0M266.6 199.5h0M304.0 199.6h0M305.1 234.7h0M288.7 187.6h0M303.7 227.2h0M255.2 196.2h0M262.8 202.4h0M284.4 219.9h0M293.6 184.2h0M272.4 186.8h0M304.7 220.0h0M261.3 210.1h0M264.9 211.5h0M280.6 208.4h0M307.3 196.4h0M284.2 222.7h0M259.2 215.1h0M262.0 196.0h0M269.4 187.5h0M264.0 212.3h0M285.1 197.1h0M305.8 190.3h0M269.6 192.7h0M279.3 228.9h0M259.2 201.2h0M294.2 208.6h0M301.4 179.0h0M264.4 181.2h0M271.7 172.8h0M263.2 206.1h0M265.9 192.8h0M300.1 167.1h0" stroke="#e5a040" stroke-width="1.3" stroke-linecap="round" stroke-opacity="0.85"/>
<path d="M255.7 243.1h0M272.4 237.3h0M244.7 249.7h0M245.1 245.6h0M272.8 245.2h0M294.0 253.2h0M265.2 241.3h0M267.0 248.0h0M274.6 236.6h0M276.1 235.0h0M277.2 235.5h0M245.8 244.5h0M290.9 242.9h0M252.9 239.2h0M269.0 245.5h0M250.1 250.5h0M246.6 233.2h0M255.2 247.1h0M281.4 249.2h0M279.9 245.0h0M272.0 246.5h0M297.7 240.7h0M300.9 234.5h0M255.6 250.5h0M269.6 237.3h0M265.5 246.8h0M282.2 252.8h0M294.2 250.3h0M255.5 244.2h0M256.0 244.2h0M239.2 250.5h0M284.5 251.9h0M264.0 235.8h0M237.1 232.8h0M293.8 245.0h0M278.7 246.8h0M263.5 243.0h0M252.3 243.3h0M239.5 239.9h0M237.9 244.3h0" stroke="#2a4f88" stroke-width="1.3" stroke-linecap="round" stroke-opacity="0.85"/>
<path d="M250.4 230.3h0M252.5 233.6h0M253.6 234.2h0M255.1 233.6h0M253.0 231.1h0M251.5 232.1h0M253.4 233.2h0" stroke="#b92040" stroke-width="1.4" stroke-linecap="round" stroke-opacity="0.9"/>
<path d="M296.0 142.0h0M296.0 158.0h0" stroke="#e5a040" stroke-width="1.2" stroke-linecap="round"/>
<path d="M276.0 160.0h0M262.0 165.0h0" stroke="#389c40" stroke-width="1.2" stroke-linecap="round"/>
<path d="M210.8,231.9 L306.7,211.8 L306.7,215.8 L210.8,235.9 Z" fill="#c3c7d8" opacity="0.45"/>
<line x1="210.80" y1="233.90" x2="306.70" y2="213.80" stroke="#4d5b80" stroke-width="0.85"/>
<line x1="204.30" y1="139.20" x2="204.30" y2="256.35" stroke="#222" stroke-width="1.1"/>
<line x1="203.75" y1="255.80" x2="310.00" y2="255.80" stroke="#222" stroke-width="1.1"/>
<line x1="201.70" y1="165.80" x2="204.30" y2="165.80" stroke="#222" stroke-width="0.9"/>
<text x="199.20" y="167.90" font-size="5.9" text-anchor="end" fill="#2a2a2a" stroke="#2a2a2a" stroke-width="0.18">2000</text>
<line x1="201.70" y1="186.30" x2="204.30" y2="186.30" stroke="#222" stroke-width="0.9"/>
<text x="199.20" y="188.40" font-size="5.9" text-anchor="end" fill="#2a2a2a" stroke="#2a2a2a" stroke-width="0.18">1000</text>
<line x1="201.70" y1="206.50" x2="204.30" y2="206.50" stroke="#222" stroke-width="0.9"/>
<text x="199.20" y="208.60" font-size="5.9" text-anchor="end" fill="#2a2a2a" stroke="#2a2a2a" stroke-width="0.18">500</text>
<line x1="201.70" y1="233.80" x2="204.30" y2="233.80" stroke="#222" stroke-width="0.9"/>
<text x="199.20" y="235.90" font-size="5.9" text-anchor="end" fill="#2a2a2a" stroke="#2a2a2a" stroke-width="0.18">200</text>
<line x1="210.80" y1="255.80" x2="210.80" y2="258.40" stroke="#222" stroke-width="0.9"/>
<text x="210.80" y="266.70" font-size="5.9" text-anchor="middle" fill="#2a2a2a" stroke="#2a2a2a" stroke-width="0.18">0.001</text>
<line x1="228.60" y1="255.80" x2="228.60" y2="258.40" stroke="#222" stroke-width="0.9"/>
<text x="228.60" y="266.70" font-size="5.9" text-anchor="middle" fill="#2a2a2a" stroke="#2a2a2a" stroke-width="0.18">0.01</text>
<line x1="246.40" y1="255.80" x2="246.40" y2="258.40" stroke="#222" stroke-width="0.9"/>
<text x="246.40" y="266.70" font-size="5.9" text-anchor="middle" fill="#2a2a2a" stroke="#2a2a2a" stroke-width="0.18">0.1</text>
<line x1="264.20" y1="255.80" x2="264.20" y2="258.40" stroke="#222" stroke-width="0.9"/>
<text x="264.20" y="266.70" font-size="5.9" text-anchor="middle" fill="#2a2a2a" stroke="#2a2a2a" stroke-width="0.18">1</text>
<line x1="282.00" y1="255.80" x2="282.00" y2="258.40" stroke="#222" stroke-width="0.9"/>
<text x="282.00" y="266.70" font-size="5.9" text-anchor="middle" fill="#2a2a2a" stroke="#2a2a2a" stroke-width="0.18">10</text>
<line x1="299.80" y1="255.80" x2="299.80" y2="258.40" stroke="#222" stroke-width="0.9"/>
<text x="299.80" y="266.70" font-size="5.9" text-anchor="middle" fill="#2a2a2a" stroke="#2a2a2a" stroke-width="0.18">100</text>
<text x="260.00" y="135.02" font-size="8.4" text-anchor="middle" fill="#1a1a1a" textLength="18.2" lengthAdjust="spacingAndGlyphs" stroke="#1a1a1a" stroke-width="0.18">LDH</text>
<text x="209.40" y="145.00" font-size="5.8" fill="#222" stroke="#222" stroke-width="0.18"><tspan font-style="italic">P</tspan> &lt; .001</text>
<text x="209.40" y="152.00" font-size="5.8" text-anchor="start" fill="#222" stroke="#222" stroke-width="0.18">R = 0.33</text>
<text x="176.50" y="196.20" font-size="7.1" font-weight="bold" fill="#1a1a1a" text-anchor="middle" textLength="27.4" lengthAdjust="spacingAndGlyphs" transform="rotate(-90 176.50 196.20) translate(0 2.56)">LDH (U/L)</text>
<path d="M423.5 197.5h0M397.6 218.8h0M440.0 190.2h0M426.1 187.8h0M418.1 206.4h0M430.6 214.6h0M446.2 179.3h0M451.9 172.2h0M410.3 210.5h0M399.0 217.0h0M401.8 222.4h0M434.3 196.7h0M416.8 212.2h0M409.8 204.6h0M395.9 226.3h0M427.6 202.1h0M443.7 195.6h0M416.1 216.0h0M411.0 199.9h0M411.0 198.7h0M428.0 191.0h0M443.2 197.4h0M436.1 192.7h0M441.2 173.9h0M427.4 194.2h0M406.5 197.1h0M401.3 232.5h0M407.8 214.7h0M409.3 198.2h0M419.0 205.5h0M434.3 214.5h0M426.7 200.5h0M422.5 187.5h0M412.3 203.3h0M420.0 207.6h0M396.2 233.6h0M414.4 212.2h0M418.5 207.9h0M406.1 201.4h0M426.3 203.3h0M396.7 231.7h0M422.1 192.4h0M403.1 205.6h0M434.5 183.4h0M407.8 213.3h0M412.0 205.6h0M415.7 220.2h0M395.8 230.6h0M396.9 223.5h0M406.7 213.6h0M443.9 171.3h0M448.3 179.5h0M395.9 218.2h0M446.3 197.9h0M442.2 186.3h0M436.7 200.2h0M446.8 186.8h0M420.0 207.3h0M415.6 200.9h0M395.2 205.8h0M446.0 190.9h0M448.9 191.3h0M407.0 193.7h0M422.0 195.6h0M416.5 203.1h0M402.4 220.1h0M411.1 196.1h0M443.1 204.2h0M429.3 193.3h0M423.2 203.5h0M425.3 197.7h0M412.0 217.8h0M415.4 211.4h0M404.4 222.1h0M408.4 206.3h0M402.0 217.4h0M416.2 210.2h0M446.1 204.8h0M441.1 194.7h0M418.2 203.0h0M445.9 196.9h0M434.9 186.1h0M434.7 195.4h0M420.7 204.6h0M404.7 208.7h0M442.6 184.0h0M421.7 204.9h0M403.2 199.0h0M421.0 202.2h0M443.9 166.6h0M414.2 186.1h0M433.4 201.4h0M433.9 191.3h0M402.6 220.3h0M411.0 211.1h0M447.1 194.7h0M400.0 214.0h0M440.3 182.8h0M443.0 182.9h0M411.2 189.8h0M437.2 196.5h0M432.4 175.5h0M436.9 193.7h0M399.5 222.2h0M444.6 173.4h0M444.7 174.1h0M427.1 184.4h0M419.6 193.1h0M409.7 205.4h0M415.9 197.8h0M398.9 211.5h0M395.2 210.2h0M446.1 199.4h0M439.8 187.9h0M401.6 208.2h0M405.3 201.6h0M447.3 186.8h0M438.7 188.5h0M377.4 216.3h0M384.7 214.2h0M391.9 212.9h0M369.9 210.8h0M388.0 217.3h0M367.8 217.8h0M373.9 214.0h0M372.6 219.9h0M371.5 221.1h0M369.0 213.1h0M380.0 206.3h0M393.9 219.4h0M370.0 216.9h0M387.6 213.9h0M384.3 226.0h0M387.1 205.8h0M368.7 219.3h0M367.1 216.8h0M385.7 216.1h0M367.8 204.6h0M371.4 211.6h0M378.2 217.8h0M377.5 226.1h0M377.9 213.0h0M370.5 208.2h0M390.7 219.5h0M375.1 227.2h0M394.1 217.4h0M379.9 205.6h0M371.3 213.8h0M375.1 220.3h0M369.0 208.9h0M373.5 223.7h0M368.4 212.6h0M392.5 221.1h0M382.9 217.0h0M385.4 222.7h0M396.6 219.0h0M392.2 214.5h0M386.8 220.0h0M382.8 214.2h0M386.0 212.7h0M367.9 221.3h0M374.1 227.0h0M373.7 214.3h0M397.5 213.2h0M376.3 224.1h0M366.9 208.5h0M367.5 209.6h0M397.5 214.8h0M383.6 209.1h0M367.2 209.7h0M370.1 215.6h0M392.2 213.0h0M372.4 207.8h0M372.2 225.0h0M375.8 211.9h0M376.0 208.7h0M395.8 213.4h0M371.6 219.5h0" stroke="#389c40" stroke-width="1.3" stroke-linecap="round" stroke-opacity="0.85"/>
<path d="M429.3 215.6h0M405.2 207.7h0M418.8 214.3h0M415.8 202.0h0M413.7 191.8h0M417.5 202.4h0M421.9 198.5h0M413.8 198.9h0M408.1 214.0h0M413.5 211.7h0M407.6 208.6h0M402.5 203.4h0M413.1 212.9h0M419.3 206.1h0M425.2 209.3h0M422.5 214.5h0M417.0 205.0h0M420.6 203.9h0M421.1 217.6h0M425.3 204.2h0M406.0 207.1h0M416.5 217.5h0M414.1 205.7h0M424.2 203.3h0M416.2 223.0h0M431.0 213.2h0M420.0 198.9h0M422.6 208.1h0M419.6 202.9h0M417.5 205.9h0M420.4 220.4h0M420.8 192.7h0M408.9 193.3h0M410.4 212.6h0M421.2 202.2h0M420.0 200.8h0M404.8 194.9h0M409.9 220.3h0M405.5 218.7h0M429.5 205.9h0M417.1 202.1h0M417.3 213.5h0M417.6 216.5h0M428.2 210.6h0M420.5 207.0h0M420.7 197.5h0M421.2 209.4h0M409.8 226.9h0M408.8 199.7h0M420.0 190.1h0M410.4 193.8h0M408.8 206.3h0M420.4 217.4h0M424.8 218.2h0M422.8 203.3h0M427.5 203.1h0M412.0 221.3h0M424.6 209.5h0M424.3 215.4h0M405.3 206.7h0M406.9 208.6h0M411.5 219.7h0M422.2 200.2h0M417.3 196.6h0M417.9 212.4h0M419.9 190.1h0M414.5 212.1h0M420.2 217.9h0M405.9 212.2h0M411.6 209.2h0M421.1 213.7h0M412.3 209.2h0M407.0 194.8h0M422.5 207.0h0M402.9 199.8h0M417.7 221.5h0M426.9 214.7h0M401.4 206.6h0M421.8 211.0h0M421.2 205.4h0M433.3 220.8h0M416.6 198.7h0M436.0 202.5h0M428.2 224.7h0M409.0 210.1h0M414.3 212.1h0M420.4 225.0h0M422.8 207.4h0M427.6 205.0h0M414.2 227.6h0M410.1 203.1h0M417.9 198.0h0M398.5 217.0h0M410.4 202.6h0M414.1 198.6h0M407.8 208.9h0M439.0 214.1h0M424.2 193.9h0M417.3 196.8h0M424.4 205.4h0M417.8 206.7h0M412.2 193.8h0M422.7 195.0h0M406.8 204.8h0M411.1 209.8h0M426.6 209.7h0M419.2 207.7h0M425.2 190.9h0M420.8 199.1h0M406.4 207.5h0M414.0 212.7h0M427.4 186.5h0M416.8 225.1h0M425.3 220.5h0M418.4 194.6h0M407.3 213.9h0M426.1 200.9h0M415.1 209.8h0M401.7 204.3h0M432.0 227.1h0M416.5 224.0h0M412.7 200.2h0M397.3 216.1h0M414.1 228.5h0M420.5 209.2h0M401.2 221.0h0M414.2 206.0h0M397.6 215.8h0M426.4 202.0h0M418.3 211.0h0" stroke="#389c40" stroke-width="1.1" stroke-linecap="round" stroke-opacity="0.85"/>
<path d="M378.5 253.5h0M374.3 253.4h0M414.3 254.6h0M380.8 253.4h0M396.9 253.7h0M397.4 253.1h0M425.9 253.0h0M415.1 253.7h0M384.1 253.7h0M395.5 253.2h0M383.6 253.0h0M380.0 253.6h0M424.3 253.5h0M422.8 253.5h0M406.8 253.4h0M390.0 253.8h0M396.9 253.3h0M414.5 253.9h0M391.2 253.3h0M416.6 253.8h0M383.5 253.6h0M386.8 254.1h0M371.0 253.3h0M416.8 253.7h0M411.5 253.1h0M408.8 253.0h0M425.8 253.0h0M419.6 253.2h0M392.7 253.5h0M381.9 253.3h0M429.9 253.6h0M407.2 252.8h0M426.6 253.6h0M420.3 253.3h0M422.4 253.2h0M409.8 253.2h0M374.4 253.0h0M414.9 253.6h0M425.4 253.0h0M380.5 253.2h0M395.5 253.0h0M417.6 252.7h0M429.4 253.5h0M422.4 253.0h0M427.1 253.6h0M426.4 253.2h0M397.3 253.4h0M403.8 253.6h0M412.5 253.4h0M370.5 253.0h0M406.6 253.7h0M400.2 253.7h0M388.1 253.3h0M380.2 253.5h0M427.4 253.3h0M417.0 253.3h0M373.6 253.7h0M412.6 253.3h0M428.0 253.4h0M386.3 254.1h0M392.6 253.7h0M371.3 253.2h0M386.0 253.2h0M393.0 253.7h0M397.0 253.8h0M379.7 253.8h0M425.0 253.8h0M389.1 253.7h0M423.5 253.1h0M412.4 253.6h0M384.7 252.8h0M374.4 253.7h0M389.7 253.3h0M383.8 253.8h0M410.9 253.8h0M390.8 253.6h0M377.6 253.5h0M424.6 253.5h0M391.0 253.2h0M428.2 253.4h0M374.2 253.3h0M430.9 253.5h0M377.0 253.3h0M401.7 253.5h0M416.0 253.1h0M397.6 253.2h0M403.1 253.3h0M429.0 253.8h0M421.1 253.1h0M388.8 253.3h0M380.2 253.4h0M417.1 254.0h0M425.8 253.3h0M390.4 253.2h0M403.2 253.6h0M416.2 253.2h0M379.7 252.9h0M424.7 253.3h0M387.8 253.4h0M405.6 253.2h0M384.8 253.6h0M373.7 253.4h0M384.8 253.6h0M411.2 254.1h0M395.0 253.5h0M416.7 252.3h0M374.3 253.4h0M430.6 253.2h0M430.8 253.8h0M388.8 253.8h0M429.3 253.5h0M413.9 253.8h0M394.3 253.3h0M408.7 253.2h0M399.9 253.6h0M407.9 253.6h0M415.0 253.4h0M372.6 253.3h0M407.9 253.3h0M421.0 253.7h0M376.8 253.4h0M395.6 253.5h0M425.5 253.6h0M388.6 253.5h0M390.1 253.6h0M376.0 253.1h0M399.2 253.3h0M404.6 253.7h0M415.0 253.4h0M415.8 253.9h0M412.0 253.5h0M375.2 253.5h0M420.4 253.5h0M398.1 253.4h0M423.2 253.5h0M424.9 253.7h0M376.3 253.4h0M394.9 253.5h0M409.8 253.3h0M423.4 253.1h0" stroke="#389c40" stroke-width="1.3" stroke-linecap="round" stroke-opacity="0.9"/>
<path d="M435.5 179.3h0M462.2 164.7h0M432.5 165.3h0M436.3 165.7h0M465.8 175.3h0M460.0 176.4h0M465.3 153.3h0M434.2 163.4h0M461.3 169.1h0M456.0 165.8h0M439.0 160.0h0M442.0 170.9h0M440.0 155.6h0M448.5 158.5h0M461.3 164.0h0M454.5 156.8h0M461.6 179.9h0M436.6 184.7h0M434.8 160.9h0M449.5 182.2h0M434.6 177.8h0M444.8 156.7h0M453.2 152.3h0M463.4 158.4h0M461.2 175.6h0M432.4 171.7h0M441.7 162.0h0M451.1 162.5h0M458.9 154.5h0M453.8 169.6h0M461.3 160.4h0M465.9 154.6h0M433.5 157.1h0M437.9 181.8h0M449.4 147.3h0M446.4 176.5h0M434.9 177.3h0M447.3 169.7h0M426.3 195.0h0M405.7 200.7h0M416.0 204.3h0M412.8 200.8h0M406.2 183.9h0M409.6 192.1h0M423.2 197.4h0M405.6 191.4h0M413.0 202.9h0M421.1 200.3h0M427.4 217.2h0M426.2 196.2h0M422.1 198.2h0M415.2 215.6h0M419.1 208.5h0" stroke="#e5a040" stroke-width="1.3" stroke-linecap="round" stroke-opacity="0.85"/>
<path d="M428.3 185.9h0M432.5 196.3h0M414.2 196.6h0M432.1 194.4h0M425.2 214.1h0M396.8 213.7h0M423.8 204.1h0M433.2 195.0h0M405.8 221.2h0M397.9 211.0h0M438.5 187.4h0M403.9 215.9h0M410.2 204.0h0M426.0 191.0h0M395.2 219.2h0M410.9 212.1h0M414.2 208.1h0M416.4 195.9h0" stroke="#2a4f88" stroke-width="1.3" stroke-linecap="round" stroke-opacity="0.85"/>
<path d="M411.7 195.2h0M412.9 195.0h0M416.0 196.9h0M411.4 193.8h0M415.8 194.3h0M415.2 197.4h0M411.8 194.4h0M412.9 193.4h0M411.0 194.2h0" stroke="#b92040" stroke-width="1.4" stroke-linecap="round" stroke-opacity="0.9"/>
<path d="M369.4,232.0 L462.8,167.7 L462.8,171.3 L369.4,237.2 Z" fill="#c3c7d8" opacity="0.45"/>
<line x1="369.40" y1="234.60" x2="462.80" y2="169.50" stroke="#4d5b80" stroke-width="0.85"/>
<line x1="363.10" y1="139.20" x2="363.10" y2="255.95" stroke="#222" stroke-width="1.1"/>
<line x1="362.55" y1="255.40" x2="467.70" y2="255.40" stroke="#222" stroke-width="1.1"/>
<line x1="360.50" y1="148.80" x2="363.10" y2="148.80" stroke="#222" stroke-width="0.9"/>
<text x="358.70" y="150.90" font-size="5.9" text-anchor="end" fill="#2a2a2a" stroke="#2a2a2a" stroke-width="0.18">1e+05</text>
<line x1="360.50" y1="169.00" x2="363.10" y2="169.00" stroke="#222" stroke-width="0.9"/>
<text x="358.70" y="171.10" font-size="5.9" text-anchor="end" fill="#2a2a2a" stroke="#2a2a2a" stroke-width="0.18">10000</text>
<line x1="360.50" y1="189.20" x2="363.10" y2="189.20" stroke="#222" stroke-width="0.9"/>
<text x="358.70" y="191.30" font-size="5.9" text-anchor="end" fill="#2a2a2a" stroke="#2a2a2a" stroke-width="0.18">1000</text>
<line x1="360.50" y1="209.60" x2="363.10" y2="209.60" stroke="#222" stroke-width="0.9"/>
<text x="358.70" y="211.70" font-size="5.9" text-anchor="end" fill="#2a2a2a" stroke="#2a2a2a" stroke-width="0.18">100</text>
<line x1="360.50" y1="230.40" x2="363.10" y2="230.40" stroke="#222" stroke-width="0.9"/>
<text x="358.70" y="232.50" font-size="5.9" text-anchor="end" fill="#2a2a2a" stroke="#2a2a2a" stroke-width="0.18">10</text>
<line x1="360.50" y1="250.60" x2="363.10" y2="250.60" stroke="#222" stroke-width="0.9"/>
<text x="358.70" y="252.70" font-size="5.9" text-anchor="end" fill="#2a2a2a" stroke="#2a2a2a" stroke-width="0.18">1</text>
<line x1="369.40" y1="255.40" x2="369.40" y2="258.00" stroke="#222" stroke-width="0.9"/>
<text x="369.40" y="266.70" font-size="5.9" text-anchor="middle" fill="#2a2a2a" stroke="#2a2a2a" stroke-width="0.18">0.001</text>
<line x1="386.90" y1="255.40" x2="386.90" y2="258.00" stroke="#222" stroke-width="0.9"/>
<text x="386.90" y="266.70" font-size="5.9" text-anchor="middle" fill="#2a2a2a" stroke="#2a2a2a" stroke-width="0.18">0.01</text>
<line x1="404.40" y1="255.40" x2="404.40" y2="258.00" stroke="#222" stroke-width="0.9"/>
<text x="404.40" y="266.70" font-size="5.9" text-anchor="middle" fill="#2a2a2a" stroke="#2a2a2a" stroke-width="0.18">0.1</text>
<line x1="421.90" y1="255.40" x2="421.90" y2="258.00" stroke="#222" stroke-width="0.9"/>
<text x="421.90" y="266.70" font-size="5.9" text-anchor="middle" fill="#2a2a2a" stroke="#2a2a2a" stroke-width="0.18">1</text>
<line x1="439.40" y1="255.40" x2="439.40" y2="258.00" stroke="#222" stroke-width="0.9"/>
<text x="439.40" y="266.70" font-size="5.9" text-anchor="middle" fill="#2a2a2a" stroke="#2a2a2a" stroke-width="0.18">10</text>
<line x1="456.90" y1="255.40" x2="456.90" y2="258.00" stroke="#222" stroke-width="0.9"/>
<text x="456.90" y="266.70" font-size="5.9" text-anchor="middle" fill="#2a2a2a" stroke="#2a2a2a" stroke-width="0.18">100</text>
<text x="416.60" y="135.02" font-size="8.4" text-anchor="middle" fill="#1a1a1a" textLength="67" lengthAdjust="spacingAndGlyphs" stroke="#1a1a1a" stroke-width="0.18">Abnormal-Lym (/µL)</text>
<text x="368.50" y="145.00" font-size="5.8" fill="#222" stroke="#222" stroke-width="0.18"><tspan font-style="italic">P</tspan> &lt; .001</text>
<text x="368.50" y="152.00" font-size="5.8" text-anchor="start" fill="#222" stroke="#222" stroke-width="0.18">R = 0.76</text>
<text x="331.50" y="196.60" font-size="7.1" font-weight="bold" fill="#1a1a1a" text-anchor="middle" textLength="51" lengthAdjust="spacingAndGlyphs" transform="rotate(-90 331.50 196.60) translate(0 2.56)">Abnormal Lym (/µL)</text>
<text x="66.30" y="277.90" font-size="7.3" text-anchor="middle" fill="#1a1a1a" font-weight="bold" textLength="23" lengthAdjust="spacingAndGlyphs">N/P ratio</text>
<line x1="80.40" y1="275.60" x2="463.20" y2="275.60" stroke="#111" stroke-width="0.9"/>
<path d="M468.00,275.60 L462.00,272.80 L462.00,275.60 L462.00,278.40 Z" fill="#111"/>
<path d="M118.1 292.9h0" stroke="#b92040" stroke-width="4.6" stroke-linecap="round"/>
<text x="123.80" y="294.90" font-size="5.6" text-anchor="start" fill="#222" textLength="38.5" lengthAdjust="spacingAndGlyphs" stroke="#222" stroke-width="0.18">HTLV-1 Carrier</text>
<path d="M173.5 292.9h0" stroke="#2a4f88" stroke-width="4.6" stroke-linecap="round"/>
<text x="178.30" y="294.90" font-size="5.6" text-anchor="start" fill="#222" textLength="32.3" lengthAdjust="spacingAndGlyphs" stroke="#222" stroke-width="0.18">Indolent ATL</text>
<path d="M222.7 292.9h0" stroke="#e5a040" stroke-width="4.6" stroke-linecap="round"/>
<text x="227.90" y="294.90" font-size="5.6" text-anchor="start" fill="#222" textLength="76.4" lengthAdjust="spacingAndGlyphs" stroke="#222" stroke-width="0.18">Aggressive ATL Pre-treatment</text>
<path d="M315.9 292.9h0" stroke="#389c40" stroke-width="4.6" stroke-linecap="round"/>
<text x="321.20" y="294.90" font-size="5.6" text-anchor="start" fill="#222" textLength="79.2" lengthAdjust="spacingAndGlyphs" stroke="#222" stroke-width="0.18">Aggressive ATL Post-treatment</text>
<text x="7.00" y="315.40" font-size="10.8" text-anchor="start" fill="#111" font-weight="bold">C</text>
<path d="M116.1 394.6h0M101.0 400.9h0M87.3 430.2h0M115.9 392.2h0M126.0 378.9h0M120.1 413.2h0M88.1 414.6h0M88.6 417.9h0M91.6 413.1h0M135.0 397.4h0M114.1 408.4h0M134.0 395.3h0M119.4 381.2h0M99.8 407.8h0M86.9 401.8h0M122.7 400.7h0M129.8 395.0h0M114.7 416.9h0M96.2 382.4h0M132.6 382.8h0M124.8 385.2h0M98.9 395.9h0M122.4 403.7h0M134.2 379.9h0M88.3 400.5h0M88.5 420.0h0M100.4 393.1h0M97.3 390.0h0M109.5 391.3h0M115.0 401.6h0M88.6 396.0h0M102.9 405.7h0M130.5 385.3h0M114.9 410.5h0M131.4 390.7h0M115.8 420.9h0M96.8 406.7h0M89.7 401.6h0M130.1 394.3h0M93.5 406.8h0M90.1 404.6h0M127.7 422.2h0M101.8 420.8h0M117.4 411.3h0M96.6 420.4h0M125.6 384.8h0M111.1 395.6h0M101.3 392.5h0M105.9 416.8h0M121.5 418.4h0M127.2 390.4h0M99.5 406.1h0M93.9 404.8h0M103.0 409.5h0M128.7 396.0h0M109.6 406.2h0M118.7 404.5h0M126.2 397.1h0M119.7 395.5h0M122.9 411.9h0M102.0 410.9h0M97.3 399.1h0M130.2 410.3h0M105.1 403.8h0M133.8 402.7h0M133.2 391.7h0M110.7 422.3h0M129.3 414.2h0M102.3 406.3h0M132.2 391.2h0M125.1 392.6h0M126.6 401.3h0M85.1 419.9h0M106.8 366.3h0M132.9 370.8h0M91.7 399.7h0M110.5 418.5h0M103.5 407.5h0M85.2 390.3h0M101.6 406.4h0M100.0 398.0h0M109.8 397.7h0M121.7 386.1h0M133.1 387.8h0M97.8 395.0h0M106.9 397.9h0M101.6 396.2h0M111.9 411.7h0M112.2 397.4h0M85.3 415.6h0M133.5 384.8h0M88.2 420.5h0M120.2 400.2h0M105.1 398.8h0M112.1 413.8h0M97.0 405.7h0M88.5 414.3h0M125.5 397.4h0M118.5 400.7h0M106.6 419.2h0M110.8 404.4h0M91.8 405.4h0M129.0 380.5h0M126.4 415.7h0M101.9 421.1h0M132.0 411.1h0M120.1 397.3h0M127.4 381.9h0M95.3 412.1h0M116.5 389.0h0M130.1 388.1h0M125.2 410.5h0M122.3 390.9h0M92.7 395.7h0M101.7 407.0h0M92.2 390.2h0M87.2 418.4h0M89.9 399.9h0M115.6 415.7h0M119.9 381.8h0M111.2 387.5h0M98.6 401.9h0M124.3 365.8h0M127.4 380.1h0M128.6 392.4h0M134.2 397.8h0M130.0 390.8h0M104.5 410.0h0M132.9 394.3h0M117.5 398.5h0M118.2 387.8h0M118.4 395.1h0M105.2 415.6h0M100.3 417.0h0M108.6 409.7h0M131.8 383.2h0M114.7 414.9h0M132.0 384.2h0M95.6 408.7h0M99.6 426.8h0M100.9 384.3h0M86.9 412.4h0M85.6 421.9h0M103.4 401.1h0M114.0 379.5h0M123.9 406.6h0M129.9 407.9h0M128.8 412.4h0M120.3 385.2h0M109.3 384.2h0M121.3 400.7h0M125.9 418.9h0M91.4 407.5h0M121.6 409.2h0M86.5 405.3h0M102.0 412.6h0M89.9 420.0h0M85.7 408.1h0M122.4 395.4h0M115.2 422.0h0M94.4 401.2h0M94.3 394.6h0M125.7 373.9h0M115.7 412.7h0M125.1 398.4h0M98.9 402.4h0M93.6 400.9h0M133.4 386.3h0M93.3 425.1h0M99.1 413.7h0M92.1 383.1h0M100.7 390.2h0M100.8 387.7h0M114.6 404.0h0M123.9 397.6h0M107.8 414.0h0M109.5 397.0h0M101.0 401.7h0M133.0 384.8h0M99.1 415.4h0M90.9 396.6h0M105.4 397.2h0M111.8 378.4h0M118.8 407.5h0M98.3 390.8h0M116.3 393.2h0M126.5 394.2h0M112.1 396.2h0M95.6 380.9h0M95.8 414.4h0M127.7 403.5h0M90.8 411.8h0M89.2 406.0h0M130.3 392.3h0M122.5 387.1h0M85.1 401.5h0M94.5 418.9h0M135.5 423.1h0M144.2 408.5h0M138.0 395.2h0M148.9 345.5h0M155.2 414.6h0M138.9 386.8h0M140.6 402.8h0M142.1 367.0h0M145.3 405.0h0M141.7 393.1h0M151.0 409.4h0M153.9 349.1h0M139.3 400.5h0M155.2 386.8h0M144.8 389.1h0M135.7 399.9h0M155.5 383.0h0M139.2 406.3h0M133.4 379.2h0M133.6 404.2h0M143.1 410.3h0M156.1 372.6h0M133.4 427.0h0M151.4 388.6h0M134.4 386.7h0M157.0 395.4h0M136.6 403.5h0M142.3 398.3h0M157.4 361.7h0M146.1 404.2h0M145.4 404.3h0M153.8 376.6h0M150.6 416.2h0M142.9 391.6h0M138.9 400.3h0M145.0 370.0h0M149.4 397.7h0M152.7 372.0h0M149.3 367.9h0M141.6 395.7h0M134.7 416.8h0M156.5 377.5h0M144.5 377.4h0M142.9 410.9h0M138.4 410.1h0M154.6 387.8h0M153.9 393.3h0M154.1 373.8h0M149.4 371.9h0M150.8 369.8h0M144.6 387.6h0M136.1 408.0h0M137.4 390.9h0M136.9 396.2h0M156.4 397.7h0M134.0 366.1h0M144.7 406.6h0M136.6 400.9h0M155.5 372.7h0M155.3 384.4h0M149.5 368.4h0M149.2 399.1h0M136.8 396.1h0M135.7 393.1h0M142.4 374.9h0M154.1 394.5h0M136.9 403.0h0M155.5 397.0h0M133.6 374.6h0M148.4 385.8h0M137.6 388.7h0M146.1 404.6h0M141.5 405.1h0M138.0 402.1h0M138.1 408.4h0M140.2 395.3h0M154.7 424.1h0M151.4 385.9h0M139.9 393.9h0M145.9 374.9h0M154.4 392.6h0M150.7 393.6h0M139.6 411.8h0M153.9 393.9h0M149.2 372.8h0M140.6 394.7h0M148.0 392.0h0M145.3 401.8h0M155.4 389.3h0M137.2 388.6h0M135.1 398.3h0M150.4 392.3h0M145.6 377.2h0M134.8 385.1h0M141.6 395.3h0M137.5 410.8h0M148.4 393.4h0M137.3 395.2h0M152.5 396.0h0M149.9 391.1h0M153.5 366.2h0M137.3 388.1h0M148.4 408.5h0M144.5 394.3h0M150.9 374.0h0M134.6 362.9h0M157.0 389.3h0M148.5 389.0h0M147.0 423.7h0M151.7 376.4h0M144.2 401.8h0M136.9 413.6h0M143.9 402.4h0M145.5 376.6h0M151.0 392.0h0M138.7 383.5h0M134.4 391.3h0M151.4 399.3h0M136.4 373.0h0M153.7 402.5h0M140.7 418.3h0M149.4 402.0h0M135.5 391.9h0M144.3 418.6h0M145.2 397.9h0M136.1 371.3h0M150.0 376.9h0M139.0 399.7h0M151.9 391.5h0M141.5 402.0h0M146.3 398.9h0M148.0 380.1h0M142.8 387.4h0M149.0 395.7h0M140.6 422.5h0M138.8 410.2h0M135.2 416.5h0M137.0 406.1h0M143.1 391.1h0M152.1 381.6h0M149.1 371.9h0M140.6 393.8h0M148.5 395.8h0M153.0 379.9h0M148.7 366.5h0M148.2 361.7h0M150.1 362.6h0M143.4 415.1h0M149.2 414.9h0M151.1 403.8h0M147.6 400.4h0M155.8 395.4h0M133.7 377.6h0M150.6 424.5h0M133.8 396.8h0M150.3 392.1h0M142.5 387.3h0M134.3 375.8h0M143.6 397.4h0M144.9 408.3h0M154.1 395.8h0M142.5 373.7h0M145.4 360.1h0M154.8 412.6h0M141.7 410.8h0M142.9 372.8h0M137.6 389.8h0M150.7 419.7h0M149.5 385.2h0M133.2 392.4h0M141.2 395.6h0M142.5 399.4h0M141.3 392.5h0M154.2 402.3h0M148.1 387.2h0M144.0 384.3h0M147.7 365.0h0M150.2 394.3h0M149.0 422.4h0M145.4 400.8h0M136.2 414.3h0M134.2 402.0h0M137.0 400.3h0M147.7 360.4h0M146.6 383.6h0M152.3 385.1h0M141.8 405.0h0M149.7 387.3h0M146.9 366.8h0M139.9 367.3h0M153.7 384.2h0M151.4 390.8h0M145.6 424.5h0M136.4 378.1h0M137.3 386.2h0M149.4 381.8h0M138.1 420.4h0M136.6 391.3h0M143.3 390.2h0M138.5 402.7h0M144.8 346.0h0M140.9 410.4h0M150.5 390.8h0M154.1 397.6h0M155.2 361.5h0M143.5 409.3h0M137.4 406.8h0M143.9 431.0h0M144.9 391.7h0M135.7 416.6h0M145.9 405.7h0M148.7 390.2h0M147.0 363.6h0M151.3 403.8h0M155.7 388.0h0M139.4 418.8h0M152.3 390.3h0M152.5 367.1h0M146.8 393.1h0M149.1 392.2h0M153.5 395.7h0M151.8 399.8h0M142.7 393.4h0M140.3 369.0h0M154.4 369.5h0M156.2 388.3h0M153.8 389.7h0M147.9 407.8h0M133.4 399.7h0M151.6 405.1h0M147.2 395.5h0M150.6 384.5h0M149.1 418.1h0M146.1 391.2h0M146.9 390.5h0M136.1 399.2h0M135.8 411.4h0M137.5 392.0h0M141.7 397.7h0M138.5 386.2h0M149.5 397.4h0M141.6 361.2h0M149.2 380.9h0M142.5 385.9h0M140.4 391.7h0M155.3 381.8h0M143.9 407.9h0M134.6 408.0h0M141.7 379.5h0M154.9 391.9h0M154.1 410.5h0M149.6 381.8h0M145.9 387.5h0M152.5 397.4h0M140.5 373.9h0M150.6 389.0h0M154.2 408.1h0M156.4 414.6h0M138.2 381.9h0M145.6 410.6h0M133.4 380.3h0M149.5 421.1h0M141.7 402.9h0M145.5 391.2h0M142.7 389.4h0M141.8 403.6h0M143.8 417.1h0M143.7 403.8h0M148.7 409.6h0M143.3 409.8h0M133.3 412.9h0M155.4 421.0h0M146.5 410.5h0M138.2 398.9h0M134.3 404.6h0M142.0 374.1h0M153.0 366.5h0M141.4 390.8h0M149.0 392.7h0M152.1 386.1h0M134.1 396.1h0M147.9 409.1h0M150.4 396.5h0M148.5 366.6h0M150.5 403.6h0M155.3 401.0h0M157.1 389.5h0M140.6 399.9h0M148.0 385.0h0M149.2 399.5h0M153.9 382.9h0M138.4 395.6h0M136.5 411.7h0M157.2 390.5h0M142.7 396.0h0M135.0 420.9h0M151.3 388.0h0M148.0 409.0h0M146.8 397.8h0M138.1 389.7h0M147.7 355.5h0M134.8 364.6h0M116.3 374.7h0M100.5 351.4h0M140.6 348.9h0M132.4 372.1h0M107.8 367.0h0M112.2 361.5h0M117.2 346.0h0M147.4 369.3h0M124.3 345.8h0M130.7 367.4h0M103.2 357.2h0M146.0 359.8h0M109.1 355.8h0M122.7 351.7h0M124.5 355.6h0M108.1 364.5h0M147.6 340.9h0M117.4 346.5h0M110.3 365.8h0M147.4 361.9h0M112.6 348.1h0M112.3 350.5h0M69.5 415.5h0M85.1 410.5h0M74.0 416.8h0M73.3 416.8h0M72.4 422.1h0M66.1 399.3h0M72.2 417.2h0M64.2 413.0h0M61.5 413.3h0M90.2 424.1h0M67.4 413.8h0M89.3 419.9h0M79.8 408.4h0M79.6 411.9h0M75.3 412.8h0M94.7 406.6h0M82.4 425.3h0M93.7 414.6h0M65.4 419.3h0" stroke="#389c40" stroke-width="1.3" stroke-linecap="round" stroke-opacity="0.85"/>
<path d="M155.5 354.7h0M156.0 341.0h0M156.9 359.4h0M153.5 335.3h0M153.7 342.3h0M153.5 355.4h0M156.1 342.9h0M156.5 332.1h0M154.0 351.8h0M155.9 338.4h0M157.3 362.0h0M154.2 356.7h0M154.1 334.0h0M154.3 359.4h0M155.1 364.0h0M155.9 356.5h0M155.6 350.5h0M154.0 347.1h0M156.8 382.2h0M154.4 356.1h0M156.6 354.5h0M154.8 349.3h0M154.3 336.1h0M156.5 346.0h0M155.8 362.4h0M157.4 358.7h0M155.3 358.5h0M154.0 355.6h0M155.0 340.4h0M157.5 354.6h0M154.5 368.1h0M156.3 353.2h0M154.6 341.9h0M154.9 325.2h0M157.2 339.8h0M157.3 386.6h0M156.1 347.0h0M156.3 340.4h0M155.9 328.7h0M155.4 349.7h0M157.2 372.8h0M156.0 340.7h0M153.7 360.0h0M153.9 356.7h0M156.9 344.5h0M156.8 364.4h0M153.6 347.1h0M154.2 341.9h0M154.5 343.2h0M139.1 391.8h0M123.3 406.2h0M141.9 372.5h0M149.0 387.8h0M116.0 369.8h0M134.8 368.2h0M115.7 349.6h0M134.4 394.0h0M130.1 375.1h0M125.8 382.6h0M148.3 394.1h0M123.2 358.1h0M143.2 362.7h0" stroke="#e5a040" stroke-width="1.3" stroke-linecap="round" stroke-opacity="0.85"/>
<path d="M146.1 424.6h0M142.4 420.1h0M142.9 420.3h0M139.6 426.1h0M146.7 416.3h0M149.2 423.0h0M143.4 427.0h0M149.8 428.4h0M149.4 427.5h0M139.8 418.9h0M138.0 423.8h0M144.3 426.0h0" stroke="#2a4f88" stroke-width="1.3" stroke-linecap="round" stroke-opacity="0.85"/>
<path d="M134.6 413.7h0M137.0 412.5h0M134.5 411.5h0M137.0 414.1h0M134.7 410.9h0M137.8 410.6h0" stroke="#b92040" stroke-width="1.4" stroke-linecap="round" stroke-opacity="0.9"/>
<path d="M146.0 430.0h0" stroke="#b92040" stroke-width="1.4" stroke-linecap="round"/>
<path d="M60.6,415.2 L100,401.8 L153.6,377.8 L153.6,383.2 L100,405.6 L60.6,426.2 Z" fill="#c3c7d8" opacity="0.55"/>
<line x1="60.60" y1="420.70" x2="153.60" y2="380.50" stroke="#4d5b80" stroke-width="0.85"/>
<line x1="54.20" y1="321.20" x2="54.20" y2="437.65" stroke="#222" stroke-width="1.1"/>
<line x1="53.65" y1="437.10" x2="158.80" y2="437.10" stroke="#222" stroke-width="1.1"/>
<line x1="51.60" y1="336.00" x2="54.20" y2="336.00" stroke="#222" stroke-width="0.9"/>
<text x="48.60" y="338.10" font-size="5.9" text-anchor="end" fill="#2a2a2a" stroke="#2a2a2a" stroke-width="0.18">1e+05</text>
<line x1="51.60" y1="370.60" x2="54.20" y2="370.60" stroke="#222" stroke-width="0.9"/>
<text x="48.60" y="372.70" font-size="5.9" text-anchor="end" fill="#2a2a2a" stroke="#2a2a2a" stroke-width="0.18">10000</text>
<line x1="51.60" y1="405.00" x2="54.20" y2="405.00" stroke="#222" stroke-width="0.9"/>
<text x="48.60" y="407.10" font-size="5.9" text-anchor="end" fill="#2a2a2a" stroke="#2a2a2a" stroke-width="0.18">1000</text>
<line x1="63.50" y1="437.10" x2="63.50" y2="439.70" stroke="#222" stroke-width="0.9"/>
<text x="63.50" y="448.80" font-size="5.9" text-anchor="middle" fill="#2a2a2a" stroke="#2a2a2a" stroke-width="0.18">0.01</text>
<line x1="86.50" y1="437.10" x2="86.50" y2="439.70" stroke="#222" stroke-width="0.9"/>
<text x="86.50" y="448.80" font-size="5.9" text-anchor="middle" fill="#2a2a2a" stroke="#2a2a2a" stroke-width="0.18">0.1</text>
<line x1="109.20" y1="437.10" x2="109.20" y2="439.70" stroke="#222" stroke-width="0.9"/>
<text x="109.20" y="448.80" font-size="5.9" text-anchor="middle" fill="#2a2a2a" stroke="#2a2a2a" stroke-width="0.18">1</text>
<line x1="131.90" y1="437.10" x2="131.90" y2="439.70" stroke="#222" stroke-width="0.9"/>
<text x="131.90" y="448.80" font-size="5.9" text-anchor="middle" fill="#2a2a2a" stroke="#2a2a2a" stroke-width="0.18">10</text>
<line x1="154.40" y1="437.10" x2="154.40" y2="439.70" stroke="#222" stroke-width="0.9"/>
<text x="154.40" y="448.80" font-size="5.9" text-anchor="middle" fill="#2a2a2a" stroke="#2a2a2a" stroke-width="0.18">100</text>
<text x="106.40" y="316.82" font-size="8.4" text-anchor="middle" fill="#1a1a1a" textLength="22.3" lengthAdjust="spacingAndGlyphs" stroke="#1a1a1a" stroke-width="0.18">sIL-2R</text>
<text x="59.20" y="327.00" font-size="5.8" fill="#222" stroke="#222" stroke-width="0.18"><tspan font-style="italic">P</tspan> &lt; .001</text>
<text x="59.20" y="334.00" font-size="5.8" text-anchor="start" fill="#222" stroke="#222" stroke-width="0.18">R = 0.43</text>
<text x="20.50" y="378.50" font-size="7.1" font-weight="bold" fill="#1a1a1a" text-anchor="middle" textLength="34" lengthAdjust="spacingAndGlyphs" transform="rotate(-90 20.50 378.50) translate(0 2.56)">sIL-2R (U/ml)</text>
<path d="M232.4 410.9h0M245.8 417.7h0M251.7 429.8h0M250.5 413.8h0M240.3 427.9h0M257.4 405.8h0M234.9 414.8h0M246.6 413.4h0M242.1 411.1h0M248.6 428.5h0M242.5 403.3h0M255.8 399.9h0M269.1 424.5h0M268.9 416.0h0M258.9 421.9h0M235.2 411.5h0M249.9 423.2h0M249.7 399.2h0M257.9 413.8h0M243.0 421.1h0M257.9 395.2h0M267.0 406.2h0M240.3 404.2h0M251.8 407.4h0M242.6 414.4h0M253.2 411.3h0M259.4 394.4h0M258.3 421.4h0M255.5 402.3h0M253.4 418.5h0M259.2 407.3h0M251.1 399.5h0M237.5 427.0h0M268.8 410.7h0M262.9 417.9h0M267.4 417.4h0M240.2 421.1h0M264.3 406.0h0M263.7 418.3h0M268.9 421.9h0M251.1 409.1h0M238.9 407.5h0M238.4 412.3h0M266.9 423.8h0M235.0 418.0h0M253.2 430.0h0M266.0 409.2h0M233.6 419.4h0M257.9 429.6h0M235.3 426.2h0M232.4 408.2h0M253.5 415.9h0M257.4 414.4h0M248.7 406.1h0M242.9 430.0h0M242.2 421.8h0M253.0 407.0h0M252.1 404.3h0M264.3 415.9h0M253.2 398.8h0M242.2 427.2h0M256.6 410.5h0M253.1 403.1h0M246.3 422.5h0M253.6 407.0h0M256.3 413.8h0M266.9 414.9h0M251.9 406.4h0M248.2 420.7h0M255.6 428.3h0M254.5 426.0h0M233.4 418.6h0M243.2 425.4h0M267.9 402.2h0M253.1 414.0h0M247.3 427.8h0M257.8 404.5h0M262.9 415.9h0M269.9 420.9h0M260.8 415.6h0M252.5 433.4h0M265.3 409.7h0M259.4 409.3h0M234.4 405.1h0M235.2 421.4h0M264.6 415.0h0M265.6 405.4h0M243.7 421.4h0M246.6 432.8h0M244.5 412.2h0M269.4 426.1h0M250.8 423.5h0M263.9 412.1h0M262.2 392.7h0M247.4 400.1h0M268.4 411.7h0M246.3 409.1h0M250.0 419.5h0M242.9 412.2h0M246.0 414.9h0M250.7 408.9h0M252.8 410.1h0M248.7 420.6h0M242.1 399.8h0M257.2 426.6h0M252.7 421.8h0M239.7 399.5h0M263.8 416.7h0M233.1 415.4h0M249.6 410.3h0M257.2 412.7h0M246.0 415.3h0M263.5 405.3h0M257.1 409.9h0M256.7 425.6h0M241.9 402.2h0M252.3 424.7h0M261.7 406.0h0M256.7 419.8h0M259.6 400.8h0M234.1 410.8h0M256.7 412.4h0M236.9 397.7h0M238.8 404.9h0M240.5 433.2h0M259.2 422.4h0M257.5 424.2h0M242.8 423.4h0M234.5 413.1h0M267.9 430.4h0M255.7 403.6h0M248.4 416.1h0M259.6 413.0h0M249.9 415.5h0M248.9 425.6h0M248.0 416.5h0M265.5 414.6h0M262.2 414.0h0M242.3 404.6h0M256.1 401.1h0M239.8 414.7h0M264.6 411.3h0M252.2 419.5h0M254.1 421.5h0M256.2 395.5h0M262.4 415.7h0M257.1 404.7h0M274.6 420.2h0M277.2 391.1h0M304.3 412.3h0M295.8 383.6h0M293.7 395.4h0M301.6 408.6h0M289.2 419.6h0M275.0 424.4h0M298.7 415.0h0M306.2 401.5h0M297.5 413.7h0M293.1 410.4h0M280.1 407.1h0M299.0 422.9h0M291.5 413.1h0M307.7 409.9h0M277.9 423.7h0M305.8 402.8h0M291.7 410.5h0M298.6 395.7h0M301.7 398.9h0M296.8 393.7h0M294.6 397.1h0M294.7 398.7h0M293.7 409.4h0M285.3 418.8h0M282.4 406.2h0M276.5 415.3h0M303.6 401.3h0M297.9 406.7h0M296.5 432.1h0M308.6 403.3h0M285.0 432.6h0M268.6 418.3h0M292.3 393.6h0M272.6 419.0h0M296.0 399.9h0M269.9 414.1h0M274.1 423.0h0M298.9 412.2h0M307.2 396.2h0M274.1 395.8h0M294.4 403.2h0M278.2 417.3h0M282.4 405.2h0M282.5 405.2h0M302.8 409.3h0M279.9 425.0h0M294.7 381.5h0M277.6 401.1h0M294.0 394.8h0M272.1 409.1h0M276.0 424.3h0M289.8 417.8h0M269.9 416.7h0M268.8 423.0h0M280.2 411.9h0M274.3 415.7h0M308.5 428.9h0M270.0 424.4h0M289.0 426.5h0M308.3 432.8h0M304.5 394.4h0M276.9 399.4h0M291.1 427.4h0M270.7 413.0h0M281.1 429.0h0M307.3 399.0h0M287.8 419.5h0M277.0 421.6h0M291.3 404.1h0M279.4 416.8h0M268.7 408.6h0M270.1 412.0h0M308.5 407.8h0M287.9 412.9h0M283.7 400.4h0M296.3 433.6h0M282.2 396.8h0M302.4 412.0h0M283.9 405.6h0M288.7 428.4h0M305.0 404.0h0M300.1 404.8h0M301.6 431.7h0M278.1 408.3h0M301.9 409.4h0M306.1 399.7h0M306.2 415.2h0M306.7 411.6h0M306.7 396.3h0M290.8 415.3h0M295.6 404.6h0M279.9 418.9h0M295.5 397.4h0M278.6 424.5h0M275.8 426.8h0M295.4 400.4h0M278.4 413.2h0M269.7 423.2h0M287.3 396.1h0M276.5 415.4h0M301.3 413.5h0M281.8 398.8h0M271.3 405.3h0M291.3 427.3h0M281.0 418.0h0M271.6 411.5h0M293.7 398.5h0M296.5 418.3h0M292.4 404.5h0M275.4 418.5h0M273.1 428.1h0M306.0 411.6h0M291.3 430.4h0M288.9 416.5h0M291.8 400.5h0M296.2 413.8h0M290.8 408.1h0M299.7 412.5h0M281.8 410.8h0M308.0 408.2h0M301.1 403.1h0M293.8 406.7h0M300.2 412.8h0M272.0 412.2h0M276.3 427.0h0M272.8 424.9h0M289.7 407.4h0M300.6 395.9h0M280.4 429.6h0M308.0 403.9h0M277.3 399.7h0M299.9 401.2h0M274.3 411.4h0M280.5 430.1h0M298.6 420.4h0M298.6 411.8h0M285.6 397.0h0M270.0 411.5h0M268.7 408.6h0M289.2 430.2h0M294.8 409.1h0M272.6 421.4h0M276.0 405.8h0M299.3 412.4h0M289.0 401.7h0M292.8 417.2h0M279.3 388.8h0M288.7 426.9h0M276.9 416.9h0M271.7 424.8h0M307.3 393.8h0M290.1 396.8h0M306.8 411.3h0M277.0 399.1h0M298.7 406.4h0M274.9 418.6h0M272.2 397.3h0M273.0 413.2h0M281.2 418.9h0M298.3 398.2h0M301.6 420.7h0M293.4 409.0h0M288.3 397.7h0M291.9 403.4h0M305.7 398.5h0M300.6 409.1h0M299.8 417.7h0M278.7 413.7h0M272.7 418.5h0M279.1 413.4h0M293.9 417.7h0M291.7 424.8h0M308.9 421.8h0M280.4 394.7h0M301.1 411.5h0M307.0 406.4h0M281.9 431.0h0M300.2 422.4h0M291.1 395.8h0M295.3 404.2h0M291.4 389.7h0M272.1 419.8h0M279.0 416.9h0M307.6 404.7h0M283.9 394.6h0M272.4 420.1h0M304.2 398.1h0M300.5 417.6h0M291.2 401.0h0M268.1 432.9h0M272.3 431.9h0M293.8 388.9h0M284.8 425.0h0M276.6 428.2h0M294.5 402.1h0M290.8 411.1h0M269.3 409.8h0M298.8 420.4h0M278.0 400.3h0M283.0 397.5h0M278.1 420.3h0M271.4 402.7h0M289.9 421.1h0M274.2 410.3h0M291.0 417.1h0M279.9 424.7h0M298.2 412.7h0M305.9 420.9h0M281.5 400.9h0M286.1 398.6h0M301.2 412.1h0M286.3 399.2h0M277.2 413.7h0M276.4 420.8h0M306.9 408.5h0M278.9 418.8h0M282.4 416.7h0M287.9 382.6h0M271.5 412.3h0M286.8 406.5h0M306.1 425.8h0M291.5 427.0h0M275.0 407.8h0M270.6 426.6h0M294.3 408.0h0M302.8 417.3h0M289.5 396.4h0M273.4 423.2h0M288.8 421.2h0M271.2 397.6h0M305.7 414.6h0M296.9 427.1h0M282.8 412.2h0M306.3 423.2h0M286.7 401.2h0M269.3 402.9h0M270.1 399.6h0M307.8 419.5h0M304.7 383.3h0M280.5 422.3h0M295.8 407.8h0M299.8 420.4h0M289.0 415.1h0M279.6 413.6h0M299.6 418.6h0M299.6 422.2h0M296.9 424.6h0M278.8 427.1h0M283.5 423.0h0M296.9 403.8h0M304.2 407.1h0M276.2 394.9h0M268.5 412.6h0M271.5 412.7h0M298.2 426.7h0M270.1 401.4h0M273.7 394.8h0M269.1 407.1h0M275.5 417.3h0M298.8 432.1h0M270.3 399.9h0M298.3 394.2h0M293.9 396.1h0M287.0 427.7h0M272.4 407.2h0M299.9 406.1h0M277.7 399.9h0M308.2 415.2h0M298.7 405.7h0M286.8 412.2h0M296.3 402.0h0M295.9 403.5h0M284.2 427.3h0M287.7 405.2h0M291.0 419.6h0M276.2 408.8h0M286.4 399.0h0M270.0 419.2h0M291.9 400.3h0M284.6 413.4h0M271.7 427.6h0M285.0 409.2h0M284.2 404.4h0M276.1 427.5h0M279.0 412.0h0M290.6 402.8h0M301.1 409.5h0M276.6 422.7h0M308.4 415.6h0M287.2 416.6h0M297.0 416.6h0M303.2 408.4h0M270.0 400.9h0M286.7 412.3h0M279.7 392.1h0M299.7 415.3h0M303.9 396.7h0M308.6 393.3h0M280.7 431.6h0M288.0 414.4h0M289.5 413.8h0M280.8 409.0h0M298.7 411.0h0M295.1 402.2h0M296.9 404.1h0M273.8 414.6h0M275.1 414.5h0M292.3 378.3h0M270.3 431.2h0M271.7 406.4h0M291.6 421.8h0M269.6 429.6h0M288.8 416.0h0M295.4 404.8h0M285.8 419.0h0M275.2 409.0h0M275.3 401.1h0M308.4 354.1h0M305.8 407.1h0M304.9 398.5h0M305.6 419.9h0M308.0 394.8h0M305.6 400.8h0M307.5 398.6h0M308.8 391.0h0M304.1 404.8h0M305.5 405.2h0M307.5 404.8h0M308.9 381.0h0M303.3 392.5h0M303.1 426.7h0M307.0 399.1h0M307.8 385.4h0M307.2 372.6h0M303.6 417.3h0M308.3 412.7h0M305.3 402.7h0M304.7 389.7h0M306.2 406.7h0M306.6 414.3h0M303.4 399.2h0M306.0 396.8h0M309.0 389.6h0M307.4 396.1h0M305.1 382.3h0M305.1 401.0h0M307.4 382.1h0M307.8 385.6h0M304.9 378.4h0M306.9 373.8h0M308.6 397.4h0M307.8 424.1h0M303.4 365.4h0M303.8 396.0h0M306.8 370.3h0M304.8 395.3h0M304.6 371.1h0" stroke="#389c40" stroke-width="1.3" stroke-linecap="round" stroke-opacity="0.85"/>
<path d="M306.3 379.7h0M308.5 375.0h0M303.5 382.4h0M307.7 386.3h0M304.2 378.9h0M302.4 380.2h0M303.0 369.6h0M303.7 372.7h0M302.9 376.9h0M302.8 379.8h0M306.6 384.8h0M306.0 386.8h0M305.5 362.5h0M304.7 395.0h0M305.5 386.4h0M305.5 380.3h0M305.3 380.8h0M302.1 367.8h0M305.7 388.3h0M304.8 347.9h0M305.3 349.7h0M303.6 390.4h0M308.0 371.7h0M303.4 377.8h0M305.3 370.3h0M302.0 389.9h0M305.0 366.7h0M305.9 380.7h0M306.5 386.7h0M303.6 402.8h0M304.6 395.6h0M305.1 381.4h0M303.0 392.2h0M305.5 374.1h0M304.7 380.9h0M307.2 391.5h0M302.4 400.4h0M304.9 364.2h0M308.2 375.5h0M302.8 387.7h0M302.9 389.9h0M304.7 385.3h0M306.2 379.0h0M306.2 367.6h0M305.8 364.8h0M296.5 373.7h0M286.8 359.0h0M279.8 363.7h0M270.3 356.2h0M277.9 360.3h0M279.0 353.6h0M275.9 361.8h0M303.1 362.9h0M294.7 373.6h0M268.3 353.5h0M288.8 340.5h0M276.9 361.5h0M278.2 370.7h0M271.4 358.9h0M285.5 378.6h0M293.0 366.6h0M293.7 353.9h0M266.9 377.0h0" stroke="#e5a040" stroke-width="1.3" stroke-linecap="round" stroke-opacity="0.85"/>
<path d="M296.2 426.5h0M302.1 423.1h0M301.2 422.6h0M308.0 418.0h0M291.7 413.1h0M278.8 427.3h0M306.4 429.2h0M291.4 427.6h0M269.5 425.1h0M283.4 422.1h0M275.4 434.1h0M294.9 426.1h0M301.7 431.0h0M307.0 423.8h0M279.2 428.6h0M271.3 429.4h0M280.2 419.7h0M298.0 416.7h0M303.0 427.9h0M287.6 430.1h0M269.6 428.0h0M278.5 422.4h0M301.0 415.3h0M305.5 420.6h0M282.2 430.7h0M302.2 429.5h0M299.1 422.8h0M286.2 429.4h0M284.8 423.4h0M298.5 419.4h0M273.4 424.5h0M275.1 420.2h0M275.6 429.9h0M279.4 420.2h0M300.7 425.9h0M299.8 431.5h0M275.5 424.2h0M269.5 420.1h0M306.4 430.3h0" stroke="#2a4f88" stroke-width="1.3" stroke-linecap="round" stroke-opacity="0.85"/>
<path d="M287.5 416.6h0M289.2 417.6h0M290.1 415.8h0M290.2 416.5h0M290.0 415.7h0M289.8 416.7h0" stroke="#b92040" stroke-width="1.4" stroke-linecap="round" stroke-opacity="0.9"/>
<path d="M205.8 414.8h0M205.8 417.5h0M205.8 411.8h0M205.8 424.7h0M205.8 407.8h0M205.8 395.7h0M205.8 382.0h0M205.8 416.3h0M205.8 408.1h0M205.8 388.2h0" stroke="#389c40" stroke-width="1.2" stroke-linecap="round" stroke-opacity="0.8"/>
<path d="M210.8,414.9 L306.7,399.4 L306.7,404.6 L210.8,423.9 Z" fill="#c3c7d8" opacity="0.45"/>
<line x1="210.80" y1="419.40" x2="306.70" y2="402.00" stroke="#4d5b80" stroke-width="0.85"/>
<line x1="204.60" y1="321.20" x2="204.60" y2="437.65" stroke="#222" stroke-width="1.1"/>
<line x1="204.05" y1="437.10" x2="310.50" y2="437.10" stroke="#222" stroke-width="1.1"/>
<line x1="202.00" y1="347.50" x2="204.60" y2="347.50" stroke="#222" stroke-width="0.9"/>
<text x="199.20" y="349.60" font-size="5.9" text-anchor="end" fill="#2a2a2a" stroke="#2a2a2a" stroke-width="0.18">2000</text>
<line x1="202.00" y1="367.90" x2="204.60" y2="367.90" stroke="#222" stroke-width="0.9"/>
<text x="199.20" y="370.00" font-size="5.9" text-anchor="end" fill="#2a2a2a" stroke="#2a2a2a" stroke-width="0.18">1000</text>
<line x1="202.00" y1="388.70" x2="204.60" y2="388.70" stroke="#222" stroke-width="0.9"/>
<text x="199.20" y="390.80" font-size="5.9" text-anchor="end" fill="#2a2a2a" stroke="#2a2a2a" stroke-width="0.18">500</text>
<line x1="202.00" y1="415.60" x2="204.60" y2="415.60" stroke="#222" stroke-width="0.9"/>
<text x="199.20" y="417.70" font-size="5.9" text-anchor="end" fill="#2a2a2a" stroke="#2a2a2a" stroke-width="0.18">200</text>
<line x1="214.60" y1="437.10" x2="214.60" y2="439.70" stroke="#222" stroke-width="0.9"/>
<text x="214.60" y="448.80" font-size="5.9" text-anchor="middle" fill="#2a2a2a" stroke="#2a2a2a" stroke-width="0.18">0.01</text>
<line x1="237.70" y1="437.10" x2="237.70" y2="439.70" stroke="#222" stroke-width="0.9"/>
<text x="237.70" y="448.80" font-size="5.9" text-anchor="middle" fill="#2a2a2a" stroke="#2a2a2a" stroke-width="0.18">0.1</text>
<line x1="261.30" y1="437.10" x2="261.30" y2="439.70" stroke="#222" stroke-width="0.9"/>
<text x="261.30" y="448.80" font-size="5.9" text-anchor="middle" fill="#2a2a2a" stroke="#2a2a2a" stroke-width="0.18">1</text>
<line x1="284.20" y1="437.10" x2="284.20" y2="439.70" stroke="#222" stroke-width="0.9"/>
<text x="284.20" y="448.80" font-size="5.9" text-anchor="middle" fill="#2a2a2a" stroke="#2a2a2a" stroke-width="0.18">10</text>
<line x1="307.50" y1="437.10" x2="307.50" y2="439.70" stroke="#222" stroke-width="0.9"/>
<text x="307.50" y="448.80" font-size="5.9" text-anchor="middle" fill="#2a2a2a" stroke="#2a2a2a" stroke-width="0.18">100</text>
<text x="260.00" y="316.52" font-size="8.4" text-anchor="middle" fill="#1a1a1a" textLength="18.2" lengthAdjust="spacingAndGlyphs" stroke="#1a1a1a" stroke-width="0.18">LDH</text>
<text x="209.40" y="327.00" font-size="5.8" fill="#222" stroke="#222" stroke-width="0.18"><tspan font-style="italic">P</tspan> &lt; .001</text>
<text x="209.40" y="334.00" font-size="5.8" text-anchor="start" fill="#222" stroke="#222" stroke-width="0.18">R = 0.26</text>
<text x="176.50" y="377.70" font-size="7.1" font-weight="bold" fill="#1a1a1a" text-anchor="middle" textLength="27.4" lengthAdjust="spacingAndGlyphs" transform="rotate(-90 176.50 377.70) translate(0 2.56)">LDH (U/L)</text>
<path d="M411.9 406.0h0M415.0 404.3h0M421.6 395.8h0M395.5 419.5h0M426.7 403.7h0M420.9 395.1h0M409.0 409.5h0M406.4 409.5h0M408.3 407.8h0M412.3 403.7h0M421.6 383.0h0M410.1 411.0h0M395.6 402.5h0M407.4 396.5h0M427.0 394.7h0M405.3 412.7h0M400.6 414.7h0M411.5 397.5h0M401.0 403.7h0M418.6 399.6h0M397.1 403.7h0M422.2 405.0h0M427.3 402.6h0M424.1 394.3h0M415.8 399.6h0M406.8 408.1h0M398.0 424.9h0M405.1 402.3h0M420.8 392.7h0M399.2 414.6h0M400.9 407.9h0M423.8 400.5h0M408.2 418.9h0M414.0 406.8h0M395.1 410.9h0M414.2 403.0h0M426.0 392.5h0M427.1 386.6h0M401.4 414.8h0M416.0 408.6h0M410.7 408.0h0M424.4 405.7h0M406.9 402.0h0M395.7 413.6h0M406.7 399.0h0M422.5 397.1h0M399.3 420.3h0M395.8 414.4h0M412.6 400.9h0M408.7 410.3h0M407.5 414.3h0M417.8 401.0h0M423.3 395.4h0M401.0 418.8h0M422.2 399.7h0M421.6 405.4h0M419.5 394.8h0M422.7 396.4h0M420.8 394.1h0M401.9 401.3h0M445.2 379.3h0M448.4 396.5h0M464.3 389.7h0M453.3 383.3h0M459.9 376.9h0M431.8 417.0h0M428.2 395.4h0M435.6 405.2h0M463.1 365.7h0M445.4 372.2h0M439.6 397.8h0M454.4 384.6h0M439.0 388.4h0M429.7 384.3h0M461.8 383.8h0M458.0 373.3h0M457.9 404.8h0M443.1 399.7h0M445.2 385.2h0M437.8 383.4h0M442.1 393.4h0M457.0 375.8h0M459.3 367.4h0M441.7 401.9h0M434.7 389.7h0M447.4 397.2h0M453.8 379.3h0M436.7 402.2h0M463.2 382.8h0M446.7 404.0h0M431.4 411.7h0M449.8 377.6h0M436.1 408.8h0M463.6 402.5h0M434.6 388.9h0M458.1 392.4h0M457.8 382.6h0M440.4 400.2h0M449.9 421.4h0M446.9 361.5h0M457.4 371.6h0M437.8 398.4h0M434.8 386.0h0M452.0 385.4h0M440.6 406.6h0M437.3 397.5h0M443.4 381.7h0M446.6 403.3h0M432.1 406.5h0M429.4 393.5h0M430.3 408.4h0M452.9 361.8h0M464.3 356.9h0M436.8 400.1h0M452.0 384.4h0M450.4 403.0h0M463.4 378.4h0M439.6 375.9h0M444.6 420.9h0M445.7 392.4h0M461.9 383.3h0M458.4 366.1h0M455.5 407.4h0M461.5 400.1h0M451.9 405.1h0M446.3 397.4h0M440.5 407.5h0M443.7 403.9h0M439.3 379.4h0M435.1 415.7h0M431.4 386.7h0M434.3 407.7h0M438.4 367.4h0M458.4 393.8h0M457.8 363.2h0M440.8 407.3h0M430.6 408.0h0M432.9 405.3h0M452.4 383.7h0M435.8 401.7h0M447.8 401.8h0M435.1 389.4h0M459.9 368.9h0M443.5 406.4h0M453.8 360.0h0M445.8 406.4h0M440.8 368.6h0M443.5 392.2h0M434.7 415.4h0M430.9 416.7h0M452.4 369.9h0M464.1 373.8h0M438.1 409.0h0M451.8 398.7h0M454.3 349.5h0M428.7 408.9h0M442.8 381.7h0M447.5 413.9h0M428.3 395.0h0M444.5 416.3h0M442.0 401.7h0M440.4 408.4h0M441.4 406.3h0M444.0 398.9h0M450.4 382.0h0M428.2 397.5h0M435.2 391.2h0M429.6 389.7h0M451.4 383.7h0M442.5 395.7h0M433.8 397.3h0M451.1 401.5h0M429.1 400.2h0M434.3 411.6h0M444.8 398.6h0M449.5 409.1h0M431.9 408.7h0M460.0 397.7h0M454.4 396.1h0M463.6 380.7h0M457.3 397.0h0M454.9 373.3h0M430.9 404.9h0M453.0 390.3h0M463.1 392.5h0M458.1 367.1h0M438.9 397.3h0M441.1 403.7h0M436.4 409.1h0M463.9 373.7h0M451.1 373.9h0M440.3 401.2h0M438.9 380.6h0M429.6 404.6h0M430.3 402.7h0M449.3 393.0h0M463.1 396.7h0M448.4 402.2h0M447.6 397.1h0M456.8 393.9h0M430.2 401.8h0M436.4 403.7h0M431.5 406.0h0M435.6 393.3h0M453.6 389.4h0M432.6 401.1h0M434.0 403.2h0M462.6 370.2h0M437.4 388.4h0M430.0 389.2h0M451.2 380.5h0M450.8 408.5h0M464.2 396.9h0M445.2 393.7h0M437.2 373.0h0M437.0 413.7h0M428.5 397.6h0M446.5 380.4h0M447.3 408.8h0M454.2 388.2h0M463.2 403.9h0M462.3 384.6h0M454.2 379.0h0M442.5 387.1h0M464.0 356.5h0M461.9 382.9h0M449.2 383.7h0M442.6 402.2h0M457.3 383.1h0M442.1 416.8h0M459.1 377.5h0M458.9 388.5h0M437.7 420.2h0M442.4 404.1h0M452.9 406.8h0M445.5 410.9h0M451.2 387.4h0M443.1 389.5h0M452.3 360.5h0M434.2 400.9h0M443.5 393.1h0M450.9 393.3h0M458.0 404.1h0M430.9 400.6h0M430.1 400.2h0M453.5 393.8h0M452.8 386.0h0M451.6 383.5h0M428.0 395.9h0M439.5 397.0h0M462.8 385.6h0M442.2 383.9h0M429.2 397.9h0M446.8 392.8h0M428.7 393.7h0M445.7 402.9h0M451.9 399.2h0M461.5 378.5h0M446.7 422.7h0M430.6 414.6h0M438.6 404.1h0M450.5 394.0h0M429.9 417.7h0M443.5 412.1h0M443.1 399.8h0M449.5 420.4h0M438.3 398.5h0M444.5 387.4h0M460.5 373.1h0M446.6 387.1h0M449.0 388.6h0M463.7 376.6h0M428.3 398.1h0M463.1 388.3h0M442.3 380.7h0M457.0 369.7h0M434.1 400.7h0M441.8 391.6h0M448.0 381.1h0M464.5 403.3h0M443.0 391.6h0M448.3 395.4h0M459.4 368.7h0M441.9 391.4h0M428.5 415.4h0M453.8 390.0h0M437.3 405.7h0M447.0 385.2h0M463.9 351.7h0M432.0 384.5h0M463.5 399.4h0M452.6 394.6h0M452.5 395.7h0M428.2 398.2h0M440.5 392.7h0M431.5 398.0h0M434.5 387.0h0M445.5 401.2h0M445.8 384.7h0M457.3 365.1h0M456.5 386.1h0M433.9 399.6h0M442.1 387.6h0M453.0 390.8h0M434.1 407.4h0M431.4 415.6h0M441.7 388.9h0M456.4 377.5h0M464.9 387.8h0M460.8 383.4h0M430.7 398.4h0M442.8 404.6h0M443.1 410.3h0M457.0 393.2h0M462.4 370.1h0M460.5 351.7h0M429.0 414.7h0M460.7 379.5h0M432.1 401.0h0M436.5 423.7h0M440.4 406.6h0M462.9 383.5h0M462.2 381.8h0M435.2 380.8h0M428.7 411.3h0M435.6 397.8h0M438.5 402.1h0M444.1 410.0h0M457.0 366.7h0M456.4 376.6h0M463.3 355.8h0M455.2 358.2h0M462.3 375.6h0M456.6 379.0h0M456.9 367.3h0M460.4 381.4h0M460.0 372.4h0M461.1 381.1h0M455.7 366.5h0M464.0 365.6h0M461.4 382.0h0M456.9 383.1h0M462.3 365.4h0M461.9 383.7h0M458.4 361.4h0M464.9 375.8h0M457.7 364.6h0M455.4 366.2h0M463.7 372.0h0M460.8 370.9h0M459.3 379.4h0M458.9 370.4h0M459.2 359.6h0" stroke="#389c40" stroke-width="1.3" stroke-linecap="round" stroke-opacity="0.85"/>
<path d="M463.7 361.8h0M464.4 371.8h0M460.7 335.2h0M464.2 362.1h0M463.9 336.8h0M461.2 359.0h0M460.5 349.0h0M463.3 340.9h0M464.6 353.5h0M463.8 345.8h0M464.8 368.9h0M464.4 350.9h0M461.4 355.8h0M461.1 353.1h0M464.5 360.9h0M460.4 346.0h0M460.2 372.1h0M463.0 354.9h0M464.3 355.1h0M460.8 353.5h0M463.9 354.8h0M462.7 350.1h0M462.7 348.7h0M462.7 349.7h0M461.7 355.7h0M462.1 362.6h0M461.2 356.2h0M463.6 351.1h0M464.1 357.3h0M460.5 361.9h0M460.7 358.2h0M461.7 369.5h0M464.0 353.4h0M463.6 353.7h0M464.3 347.3h0M460.8 345.4h0M460.8 355.4h0M463.8 349.7h0M464.6 359.6h0M460.0 350.8h0M464.4 354.0h0M462.6 371.2h0M462.7 361.3h0M463.3 363.1h0M460.4 346.1h0M430.2 374.1h0M436.1 380.6h0M439.5 402.6h0M439.4 373.2h0M435.8 387.6h0M441.1 407.9h0M432.2 381.4h0M436.1 386.8h0M456.6 394.9h0M430.3 365.4h0M444.3 403.9h0M440.8 382.9h0M449.2 382.8h0M456.3 362.6h0M436.7 376.2h0M437.7 351.2h0M445.7 402.9h0M459.1 405.3h0M458.2 375.2h0M444.5 400.5h0M453.4 392.9h0M446.2 374.3h0" stroke="#e5a040" stroke-width="1.3" stroke-linecap="round" stroke-opacity="0.85"/>
<path d="M451.1 362.4h0M443.5 359.6h0M454.4 360.5h0M452.9 359.3h0M454.7 368.5h0M444.7 374.4h0M447.2 368.4h0M453.2 359.0h0" stroke="#2a4f88" stroke-width="1.3" stroke-linecap="round" stroke-opacity="0.85"/>
<path d="M440.7 379.5h0M441.7 378.0h0M440.7 378.8h0M443.5 380.6h0M441.5 379.6h0M442.4 379.0h0" stroke="#b92040" stroke-width="1.4" stroke-linecap="round" stroke-opacity="0.9"/>
<path d="M449.8 336.5h0M457.5 336.8h0M431.9 331.3h0M456.5 334.3h0M456.4 339.1h0M457.7 331.7h0" stroke="#e5a040" stroke-width="1.1" stroke-linecap="round" stroke-opacity="0.8"/>
<path d="M448.1 435.5h0M434.2 435.3h0M461.8 435.1h0M386.2 435.2h0M374.3 435.3h0M367.4 434.8h0M404.8 435.5h0M413.3 435.3h0M374.8 435.2h0M382.2 435.3h0M398.9 435.3h0M367.2 435.4h0M408.6 435.4h0M383.7 435.1h0M367.9 435.2h0M427.6 435.3h0M391.0 435.3h0M438.6 435.7h0M396.4 435.2h0M368.2 435.2h0M430.5 435.2h0M386.2 435.0h0M437.4 435.3h0M446.7 435.1h0M441.7 435.2h0M440.6 435.1h0M380.4 435.3h0M448.3 435.3h0M392.1 434.7h0M431.7 435.3h0M381.5 435.4h0M451.9 435.0h0M456.7 435.2h0M400.0 435.7h0M400.4 435.2h0M442.1 435.4h0M406.0 435.1h0M461.6 435.5h0M432.3 434.9h0M442.8 435.3h0M368.1 435.2h0M398.4 435.3h0M394.1 435.3h0M436.1 435.4h0M427.1 435.0h0M402.6 435.0h0M411.7 435.4h0M399.4 435.3h0M374.0 434.8h0M420.9 435.7h0M435.9 435.3h0M374.0 435.3h0M401.6 434.9h0M422.5 435.3h0M370.1 435.4h0M377.5 435.5h0M419.6 435.1h0M415.5 436.1h0M385.9 435.5h0M404.8 435.5h0M454.0 435.8h0M405.4 435.3h0M372.9 435.4h0M400.5 434.8h0M368.9 434.9h0M372.7 435.3h0M420.2 435.3h0M432.6 435.3h0M387.5 435.2h0M408.8 435.5h0M434.1 435.5h0M453.4 435.2h0M401.6 435.3h0M424.3 435.4h0M435.5 435.4h0M406.8 434.9h0M414.4 435.2h0M449.8 435.2h0M423.9 435.6h0M454.8 435.1h0M434.5 435.3h0M439.6 435.2h0M437.8 435.2h0M386.8 434.9h0M383.2 435.7h0M398.6 435.3h0M427.3 435.4h0M446.6 435.4h0M382.6 435.2h0M434.2 435.9h0" stroke="#389c40" stroke-width="1.1" stroke-linecap="round" stroke-opacity="0.75"/>
<path d="M395.4,411.0 L461.8,368.6 L461.8,373.4 L395.4,421.0 Z" fill="#c3c7d8" opacity="0.45"/>
<line x1="395.40" y1="416.00" x2="461.80" y2="371.00" stroke="#4d5b80" stroke-width="0.85"/>
<line x1="363.10" y1="321.20" x2="363.10" y2="437.65" stroke="#222" stroke-width="1.1"/>
<line x1="362.55" y1="437.10" x2="467.00" y2="437.10" stroke="#222" stroke-width="1.1"/>
<line x1="360.50" y1="330.80" x2="363.10" y2="330.80" stroke="#222" stroke-width="0.9"/>
<text x="358.70" y="332.90" font-size="5.9" text-anchor="end" fill="#2a2a2a" stroke="#2a2a2a" stroke-width="0.18">1e+05</text>
<line x1="360.50" y1="351.00" x2="363.10" y2="351.00" stroke="#222" stroke-width="0.9"/>
<text x="358.70" y="353.10" font-size="5.9" text-anchor="end" fill="#2a2a2a" stroke="#2a2a2a" stroke-width="0.18">10000</text>
<line x1="360.50" y1="371.20" x2="363.10" y2="371.20" stroke="#222" stroke-width="0.9"/>
<text x="358.70" y="373.30" font-size="5.9" text-anchor="end" fill="#2a2a2a" stroke="#2a2a2a" stroke-width="0.18">1000</text>
<line x1="360.50" y1="391.50" x2="363.10" y2="391.50" stroke="#222" stroke-width="0.9"/>
<text x="358.70" y="393.60" font-size="5.9" text-anchor="end" fill="#2a2a2a" stroke="#2a2a2a" stroke-width="0.18">100</text>
<line x1="360.50" y1="412.10" x2="363.10" y2="412.10" stroke="#222" stroke-width="0.9"/>
<text x="358.70" y="414.20" font-size="5.9" text-anchor="end" fill="#2a2a2a" stroke="#2a2a2a" stroke-width="0.18">10</text>
<line x1="360.50" y1="432.30" x2="363.10" y2="432.30" stroke="#222" stroke-width="0.9"/>
<text x="358.70" y="434.40" font-size="5.9" text-anchor="end" fill="#2a2a2a" stroke="#2a2a2a" stroke-width="0.18">1</text>
<line x1="372.30" y1="437.10" x2="372.30" y2="439.70" stroke="#222" stroke-width="0.9"/>
<text x="372.30" y="448.80" font-size="5.9" text-anchor="middle" fill="#2a2a2a" stroke="#2a2a2a" stroke-width="0.18">0.01</text>
<line x1="395.40" y1="437.10" x2="395.40" y2="439.70" stroke="#222" stroke-width="0.9"/>
<text x="395.40" y="448.80" font-size="5.9" text-anchor="middle" fill="#2a2a2a" stroke="#2a2a2a" stroke-width="0.18">0.1</text>
<line x1="417.50" y1="437.10" x2="417.50" y2="439.70" stroke="#222" stroke-width="0.9"/>
<text x="417.50" y="448.80" font-size="5.9" text-anchor="middle" fill="#2a2a2a" stroke="#2a2a2a" stroke-width="0.18">1</text>
<line x1="439.70" y1="437.10" x2="439.70" y2="439.70" stroke="#222" stroke-width="0.9"/>
<text x="439.70" y="448.80" font-size="5.9" text-anchor="middle" fill="#2a2a2a" stroke="#2a2a2a" stroke-width="0.18">10</text>
<line x1="461.80" y1="437.10" x2="461.80" y2="439.70" stroke="#222" stroke-width="0.9"/>
<text x="461.80" y="448.80" font-size="5.9" text-anchor="middle" fill="#2a2a2a" stroke="#2a2a2a" stroke-width="0.18">100</text>
<text x="416.60" y="316.82" font-size="8.4" text-anchor="middle" fill="#1a1a1a" textLength="67" lengthAdjust="spacingAndGlyphs" stroke="#1a1a1a" stroke-width="0.18">Abnormal-Lym (/µL)</text>
<text x="368.50" y="327.00" font-size="5.8" fill="#222" stroke="#222" stroke-width="0.18"><tspan font-style="italic">P</tspan> &lt; .001</text>
<text x="368.50" y="334.00" font-size="5.8" text-anchor="start" fill="#222" stroke="#222" stroke-width="0.18">R = 0.57</text>
<text x="331.50" y="377.80" font-size="7.1" font-weight="bold" fill="#1a1a1a" text-anchor="middle" textLength="51" lengthAdjust="spacingAndGlyphs" transform="rotate(-90 331.50 377.80) translate(0 2.56)">Abnormal Lym (/µL)</text>
<text x="73.10" y="459.90" font-size="7.3" text-anchor="middle" fill="#1a1a1a" font-weight="bold" textLength="34.6" lengthAdjust="spacingAndGlyphs">N fraction (%)</text>
<line x1="95.20" y1="457.50" x2="463.20" y2="457.50" stroke="#111" stroke-width="0.9"/>
<path d="M468.00,457.50 L462.00,454.70 L462.00,457.50 L462.00,460.30 Z" fill="#111"/>
<text x="7.20" y="485.60" font-size="10.8" text-anchor="start" fill="#111" font-weight="bold">D</text>
<text x="49.20" y="498.70" font-size="8.0" text-anchor="middle" fill="#1a1a1a" textLength="31" lengthAdjust="spacingAndGlyphs" stroke="#1a1a1a" stroke-width="0.18">Samples</text>
<text x="49.20" y="508.60" font-size="8.0" text-anchor="middle" fill="#1a1a1a" textLength="38" lengthAdjust="spacingAndGlyphs" stroke="#1a1a1a" stroke-width="0.18">with 0% of</text>
<text x="49.20" y="518.30" font-size="8.0" text-anchor="middle" fill="#1a1a1a" textLength="48.4" lengthAdjust="spacingAndGlyphs" stroke="#1a1a1a" stroke-width="0.18">Abnormal-Lym</text>
<text x="49.20" y="527.50" font-size="8.0" text-anchor="middle" fill="#1a1a1a" textLength="30" lengthAdjust="spacingAndGlyphs" stroke="#1a1a1a" stroke-width="0.18">n = 140</text>
<rect x="32.5" y="534.6" width="36.7" height="68.8" fill="#e5e5ea"/>
<circle cx="52.1" cy="543.4" r="0.85" fill="none" stroke="#9a9a9a" stroke-width="0.45"/>
<circle cx="48.7" cy="544.6" r="0.85" fill="none" stroke="#9a9a9a" stroke-width="0.45"/>
<circle cx="52.0" cy="553.4" r="0.85" fill="none" stroke="#9a9a9a" stroke-width="0.45"/>
<circle cx="51.1" cy="554.7" r="0.85" fill="none" stroke="#9a9a9a" stroke-width="0.45"/>
<circle cx="51.2" cy="567.3" r="0.85" fill="none" stroke="#9a9a9a" stroke-width="0.45"/>
<circle cx="50.5" cy="568.5" r="0.85" fill="none" stroke="#9a9a9a" stroke-width="0.45"/>
<circle cx="51.7" cy="571.0" r="0.85" fill="none" stroke="#9a9a9a" stroke-width="0.45"/>
<circle cx="48.8" cy="574.8" r="0.85" fill="none" stroke="#9a9a9a" stroke-width="0.45"/>
<circle cx="51.6" cy="578.6" r="0.85" fill="none" stroke="#9a9a9a" stroke-width="0.45"/>
<circle cx="51.7" cy="587.4" r="0.85" fill="none" stroke="#9a9a9a" stroke-width="0.45"/>
<circle cx="50.5" cy="588.6" r="0.85" fill="none" stroke="#9a9a9a" stroke-width="0.45"/>
<circle cx="50.7" cy="589.9" r="0.85" fill="none" stroke="#9a9a9a" stroke-width="0.45"/>
<circle cx="48.8" cy="593.7" r="0.85" fill="none" stroke="#9a9a9a" stroke-width="0.45"/>
<circle cx="50.0" cy="594.9" r="0.85" fill="none" stroke="#9a9a9a" stroke-width="0.45"/>
<circle cx="47.9" cy="601.5" r="0.85" fill="none" stroke="#a0a0a0" stroke-width="0.45"/>
<circle cx="56.8" cy="607.6" r="0.85" fill="none" stroke="#a0a0a0" stroke-width="0.45"/>
<circle cx="48.7" cy="599.0" r="0.85" fill="none" stroke="#a0a0a0" stroke-width="0.45"/>
<circle cx="50.4" cy="602.1" r="0.85" fill="none" stroke="#a0a0a0" stroke-width="0.45"/>
<circle cx="49.7" cy="597.3" r="0.85" fill="none" stroke="#a0a0a0" stroke-width="0.45"/>
<circle cx="51.6" cy="599.9" r="0.85" fill="none" stroke="#a0a0a0" stroke-width="0.45"/>
<circle cx="50.8" cy="607.0" r="0.85" fill="none" stroke="#a0a0a0" stroke-width="0.45"/>
<circle cx="50.9" cy="597.6" r="0.85" fill="none" stroke="#a0a0a0" stroke-width="0.45"/>
<circle cx="48.0" cy="597.7" r="0.85" fill="none" stroke="#a0a0a0" stroke-width="0.45"/>
<circle cx="48.1" cy="599.3" r="0.85" fill="none" stroke="#a0a0a0" stroke-width="0.45"/>
<circle cx="50.9" cy="598.2" r="0.85" fill="none" stroke="#a0a0a0" stroke-width="0.45"/>
<circle cx="50.4" cy="603.9" r="0.85" fill="none" stroke="#a0a0a0" stroke-width="0.45"/>
<circle cx="54.1" cy="602.8" r="0.85" fill="none" stroke="#a0a0a0" stroke-width="0.45"/>
<circle cx="45.6" cy="601.8" r="0.85" fill="none" stroke="#a0a0a0" stroke-width="0.45"/>
<circle cx="44.9" cy="602.1" r="0.85" fill="none" stroke="#a0a0a0" stroke-width="0.45"/>
<circle cx="49.4" cy="606.6" r="0.85" fill="none" stroke="#a0a0a0" stroke-width="0.45"/>
<circle cx="45.0" cy="602.9" r="0.85" fill="none" stroke="#a0a0a0" stroke-width="0.45"/>
<circle cx="46.9" cy="604.3" r="0.85" fill="none" stroke="#a0a0a0" stroke-width="0.45"/>
<circle cx="48.8" cy="604.9" r="0.85" fill="none" stroke="#a0a0a0" stroke-width="0.45"/>
<circle cx="41.9" cy="607.7" r="0.85" fill="none" stroke="#a0a0a0" stroke-width="0.45"/>
<circle cx="52.4" cy="605.5" r="0.85" fill="none" stroke="#a0a0a0" stroke-width="0.45"/>
<circle cx="50.5" cy="597.5" r="0.85" fill="none" stroke="#a0a0a0" stroke-width="0.45"/>
<circle cx="54.6" cy="607.2" r="0.85" fill="none" stroke="#a0a0a0" stroke-width="0.45"/>
<circle cx="51.5" cy="598.8" r="0.85" fill="none" stroke="#a0a0a0" stroke-width="0.45"/>
<circle cx="47.8" cy="599.9" r="0.85" fill="none" stroke="#a0a0a0" stroke-width="0.45"/>
<circle cx="48.9" cy="602.5" r="0.85" fill="none" stroke="#a0a0a0" stroke-width="0.45"/>
<circle cx="50.2" cy="607.7" r="0.85" fill="none" stroke="#a0a0a0" stroke-width="0.45"/>
<circle cx="55.5" cy="605.1" r="0.85" fill="none" stroke="#a0a0a0" stroke-width="0.45"/>
<circle cx="51.9" cy="600.6" r="0.85" fill="none" stroke="#a0a0a0" stroke-width="0.45"/>
<circle cx="53.0" cy="607.7" r="0.85" fill="none" stroke="#a0a0a0" stroke-width="0.45"/>
<circle cx="49.3" cy="599.0" r="0.85" fill="none" stroke="#a0a0a0" stroke-width="0.45"/>
<circle cx="49.3" cy="605.3" r="0.85" fill="none" stroke="#a0a0a0" stroke-width="0.45"/>
<circle cx="48.9" cy="601.9" r="0.85" fill="none" stroke="#a0a0a0" stroke-width="0.45"/>
<circle cx="51.6" cy="604.5" r="0.85" fill="none" stroke="#a0a0a0" stroke-width="0.45"/>
<circle cx="48.4" cy="598.0" r="0.85" fill="none" stroke="#a0a0a0" stroke-width="0.45"/>
<circle cx="47.3" cy="598.1" r="0.85" fill="none" stroke="#a0a0a0" stroke-width="0.45"/>
<circle cx="48.3" cy="600.3" r="0.85" fill="none" stroke="#a0a0a0" stroke-width="0.45"/>
<circle cx="48.1" cy="602.2" r="0.85" fill="none" stroke="#a0a0a0" stroke-width="0.45"/>
<circle cx="44.3" cy="607.2" r="0.85" fill="none" stroke="#a0a0a0" stroke-width="0.45"/>
<circle cx="49.2" cy="596.9" r="0.85" fill="none" stroke="#a0a0a0" stroke-width="0.45"/>
<circle cx="49.6" cy="597.4" r="0.85" fill="none" stroke="#a0a0a0" stroke-width="0.45"/>
<circle cx="49.2" cy="597.9" r="0.85" fill="none" stroke="#a0a0a0" stroke-width="0.45"/>
<circle cx="49.4" cy="596.9" r="0.85" fill="none" stroke="#a0a0a0" stroke-width="0.45"/>
<circle cx="45.2" cy="605.2" r="0.85" fill="none" stroke="#a0a0a0" stroke-width="0.45"/>
<circle cx="43.3" cy="607.3" r="0.85" fill="none" stroke="#a0a0a0" stroke-width="0.45"/>
<circle cx="47.2" cy="607.5" r="0.9" fill="none" stroke="#555" stroke-width="0.5"/>
<circle cx="44.4" cy="607.1" r="0.9" fill="none" stroke="#555" stroke-width="0.5"/>
<circle cx="44.2" cy="607.0" r="0.9" fill="none" stroke="#555" stroke-width="0.5"/>
<circle cx="46.8" cy="608.4" r="0.9" fill="none" stroke="#555" stroke-width="0.5"/>
<circle cx="48.1" cy="608.4" r="0.9" fill="none" stroke="#555" stroke-width="0.5"/>
<circle cx="42.2" cy="607.3" r="0.9" fill="none" stroke="#555" stroke-width="0.5"/>
<circle cx="41.9" cy="608.5" r="0.9" fill="none" stroke="#555" stroke-width="0.5"/>
<circle cx="43.0" cy="607.3" r="0.9" fill="none" stroke="#555" stroke-width="0.5"/>
<circle cx="55.8" cy="607.9" r="0.9" fill="none" stroke="#555" stroke-width="0.5"/>
<circle cx="43.0" cy="608.3" r="0.9" fill="none" stroke="#555" stroke-width="0.5"/>
<circle cx="57.0" cy="608.4" r="0.9" fill="none" stroke="#555" stroke-width="0.5"/>
<circle cx="55.7" cy="608.8" r="0.9" fill="none" stroke="#555" stroke-width="0.5"/>
<circle cx="43.8" cy="608.7" r="0.9" fill="none" stroke="#555" stroke-width="0.5"/>
<circle cx="51.9" cy="607.3" r="0.9" fill="none" stroke="#555" stroke-width="0.5"/>
<circle cx="52.9" cy="608.3" r="0.9" fill="none" stroke="#555" stroke-width="0.5"/>
<circle cx="56.0" cy="608.7" r="0.9" fill="none" stroke="#555" stroke-width="0.5"/>
<circle cx="57.1" cy="607.8" r="0.9" fill="none" stroke="#555" stroke-width="0.5"/>
<circle cx="50.7" cy="607.7" r="0.9" fill="none" stroke="#555" stroke-width="0.5"/>
<circle cx="50.9" cy="607.2" r="0.9" fill="none" stroke="#555" stroke-width="0.5"/>
<circle cx="51.4" cy="608.8" r="0.9" fill="none" stroke="#555" stroke-width="0.5"/>
<circle cx="51.8" cy="608.4" r="0.9" fill="none" stroke="#555" stroke-width="0.5"/>
<circle cx="51.4" cy="606.9" r="0.9" fill="none" stroke="#555" stroke-width="0.5"/>
<circle cx="47.0" cy="607.2" r="0.9" fill="none" stroke="#555" stroke-width="0.5"/>
<circle cx="41.8" cy="609.0" r="0.9" fill="none" stroke="#555" stroke-width="0.5"/>
<circle cx="44.7" cy="609.0" r="0.9" fill="none" stroke="#555" stroke-width="0.5"/>
<circle cx="44.4" cy="609.8" r="0.95" fill="#111"/>
<circle cx="49.5" cy="609.8" r="0.95" fill="#111"/>
<circle cx="41.6" cy="609.2" r="0.95" fill="#111"/>
<circle cx="52.3" cy="609.7" r="0.95" fill="#111"/>
<circle cx="49.0" cy="609.7" r="0.95" fill="#111"/>
<circle cx="47.1" cy="608.1" r="0.95" fill="#111"/>
<circle cx="47.8" cy="609.6" r="0.95" fill="#111"/>
<circle cx="47.4" cy="609.3" r="0.95" fill="#111"/>
<circle cx="58.5" cy="609.6" r="0.95" fill="#111"/>
<circle cx="48.4" cy="609.6" r="0.95" fill="#111"/>
<circle cx="48.8" cy="610.0" r="0.95" fill="#111"/>
<circle cx="47.5" cy="609.9" r="0.95" fill="#111"/>
<circle cx="54.0" cy="610.0" r="0.95" fill="#111"/>
<circle cx="50.7" cy="609.6" r="0.95" fill="#111"/>
<circle cx="50.3" cy="609.3" r="0.95" fill="#111"/>
<circle cx="41.4" cy="609.4" r="0.95" fill="#111"/>
<circle cx="49.0" cy="609.6" r="0.95" fill="#111"/>
<circle cx="54.2" cy="609.8" r="0.95" fill="#111"/>
<circle cx="45.7" cy="609.7" r="0.95" fill="#111"/>
<circle cx="54.6" cy="609.6" r="0.95" fill="#111"/>
<circle cx="50.8" cy="609.7" r="0.95" fill="#111"/>
<circle cx="50.8" cy="609.2" r="0.95" fill="#111"/>
<circle cx="40.5" cy="609.9" r="0.95" fill="#111"/>
<circle cx="52.2" cy="609.3" r="0.95" fill="#111"/>
<circle cx="47.2" cy="610.0" r="0.95" fill="#111"/>
<circle cx="48.9" cy="609.3" r="0.95" fill="#111"/>
<circle cx="54.3" cy="609.9" r="0.95" fill="#111"/>
<circle cx="55.8" cy="609.3" r="0.95" fill="#111"/>
<circle cx="54.7" cy="610.0" r="0.95" fill="#111"/>
<circle cx="50.9" cy="609.4" r="0.95" fill="#111"/>
<circle cx="49.8" cy="609.3" r="0.95" fill="#111"/>
<circle cx="47.8" cy="609.1" r="0.95" fill="#111"/>
<circle cx="43.0" cy="609.7" r="0.95" fill="#111"/>
<circle cx="50.4" cy="609.2" r="0.95" fill="#111"/>
<circle cx="52.4" cy="609.4" r="0.95" fill="#111"/>
<circle cx="41.0" cy="609.3" r="0.95" fill="#111"/>
<circle cx="56.1" cy="609.5" r="0.95" fill="#111"/>
<circle cx="49.3" cy="609.5" r="0.95" fill="#111"/>
<circle cx="45.0" cy="609.9" r="0.95" fill="#111"/>
<circle cx="50.1" cy="609.4" r="0.95" fill="#111"/>
<circle cx="41.7" cy="609.8" r="0.95" fill="#111"/>
<circle cx="40.5" cy="609.0" r="0.95" fill="#111"/>
<circle cx="48.3" cy="609.9" r="0.95" fill="#111"/>
<circle cx="56.0" cy="609.6" r="0.95" fill="#111"/>
<circle cx="48.1" cy="609.8" r="0.95" fill="#111"/>
<circle cx="56.2" cy="609.8" r="0.95" fill="#111"/>
<circle cx="52.2" cy="609.5" r="0.95" fill="#111"/>
<circle cx="47.8" cy="609.8" r="0.95" fill="#111"/>
<circle cx="45.8" cy="609.6" r="0.95" fill="#111"/>
<circle cx="52.3" cy="609.4" r="0.95" fill="#111"/>
<circle cx="48.1" cy="610.0" r="0.95" fill="#111"/>
<circle cx="51.6" cy="609.9" r="0.95" fill="#111"/>
<circle cx="52.8" cy="609.8" r="0.95" fill="#111"/>
<circle cx="56.0" cy="609.8" r="0.95" fill="#111"/>
<circle cx="53.2" cy="609.3" r="0.95" fill="#111"/>
<circle cx="49.9" cy="609.9" r="0.95" fill="#111"/>
<circle cx="58.5" cy="609.6" r="0.95" fill="#111"/>
<circle cx="51.8" cy="609.9" r="0.95" fill="#111"/>
<circle cx="43.2" cy="609.3" r="0.95" fill="#111"/>
<circle cx="47.6" cy="609.5" r="0.95" fill="#111"/>
<circle cx="43.6" cy="609.4" r="0.95" fill="#111"/>
<circle cx="55.2" cy="609.7" r="0.95" fill="#111"/>
<circle cx="49.5" cy="609.6" r="0.95" fill="#111"/>
<circle cx="41.9" cy="610.0" r="0.95" fill="#111"/>
<circle cx="51.3" cy="609.6" r="0.95" fill="#111"/>
<circle cx="50.3" cy="609.4" r="0.95" fill="#111"/>
<circle cx="47.0" cy="609.9" r="0.95" fill="#111"/>
<circle cx="46.3" cy="609.4" r="0.95" fill="#111"/>
<circle cx="51.4" cy="609.4" r="0.95" fill="#111"/>
<circle cx="50.8" cy="609.8" r="0.95" fill="#111"/>
<circle cx="47.5" cy="609.9" r="0.95" fill="#111"/>
<circle cx="41.0" cy="608.9" r="0.95" fill="#111"/>
<circle cx="51.0" cy="609.3" r="0.95" fill="#111"/>
<circle cx="47.1" cy="610.0" r="0.95" fill="#111"/>
<circle cx="44.0" cy="609.9" r="0.95" fill="#111"/>
<circle cx="48.9" cy="609.2" r="0.95" fill="#111"/>
<circle cx="53.1" cy="609.0" r="0.95" fill="#111"/>
<circle cx="40.5" cy="609.4" r="0.95" fill="#111"/>
<circle cx="50.6" cy="609.1" r="0.95" fill="#111"/>
<circle cx="49.9" cy="609.9" r="0.95" fill="#111"/>
<circle cx="52.7" cy="609.8" r="0.95" fill="#111"/>
<circle cx="57.4" cy="609.5" r="0.95" fill="#111"/>
<circle cx="53.3" cy="610.0" r="0.95" fill="#111"/>
<circle cx="48.8" cy="609.1" r="0.95" fill="#111"/>
<circle cx="55.6" cy="609.3" r="0.95" fill="#111"/>
<circle cx="51.8" cy="608.7" r="0.95" fill="#111"/>
<circle cx="48.9" cy="609.2" r="0.95" fill="#111"/>
<circle cx="50.3" cy="610.0" r="0.95" fill="#111"/>
<circle cx="53.7" cy="609.4" r="0.95" fill="#111"/>
<circle cx="55.5" cy="608.5" r="0.95" fill="#111"/>
<circle cx="46.9" cy="609.7" r="0.95" fill="#111"/>
<circle cx="48.2" cy="609.2" r="0.95" fill="#111"/>
<circle cx="43.4" cy="609.2" r="0.95" fill="#111"/>
<circle cx="53.5" cy="610.0" r="0.95" fill="#111"/>
<circle cx="48.6" cy="609.2" r="0.95" fill="#111"/>
<circle cx="56.7" cy="609.7" r="0.95" fill="#111"/>
<circle cx="56.0" cy="609.7" r="0.95" fill="#111"/>
<circle cx="50.5" cy="609.9" r="0.95" fill="#111"/>
<circle cx="50.7" cy="609.9" r="0.95" fill="#111"/>
<circle cx="46.3" cy="609.7" r="0.95" fill="#111"/>
<circle cx="46.5" cy="609.9" r="0.95" fill="#111"/>
<circle cx="49.8" cy="609.8" r="0.95" fill="#111"/>
<circle cx="48.5" cy="609.8" r="0.95" fill="#111"/>
<circle cx="57.2" cy="609.9" r="0.95" fill="#111"/>
<circle cx="46.7" cy="610.0" r="0.95" fill="#111"/>
<circle cx="52.4" cy="609.8" r="0.95" fill="#111"/>
<circle cx="48.7" cy="609.9" r="0.95" fill="#111"/>
<circle cx="50.1" cy="609.8" r="0.95" fill="#111"/>
<circle cx="51.4" cy="609.8" r="0.95" fill="#111"/>
<circle cx="44.6" cy="609.1" r="0.95" fill="#111"/>
<line x1="31.40" y1="534.60" x2="31.40" y2="610.60" stroke="#222" stroke-width="1.3"/>
<line x1="30.80" y1="610.00" x2="68.50" y2="610.00" stroke="#222" stroke-width="1.3"/>
<line x1="28.20" y1="610.00" x2="31.50" y2="610.00" stroke="#222" stroke-width="0.9"/>
<text x="25.30" y="612.20" font-size="6.2" text-anchor="end" fill="#2a2a2a" stroke="#2a2a2a" stroke-width="0.18">0</text>
<line x1="28.20" y1="597.43" x2="31.50" y2="597.43" stroke="#222" stroke-width="0.9"/>
<text x="25.30" y="599.63" font-size="6.2" text-anchor="end" fill="#2a2a2a" stroke="#2a2a2a" stroke-width="0.18">10</text>
<line x1="28.20" y1="584.86" x2="31.50" y2="584.86" stroke="#222" stroke-width="0.9"/>
<text x="25.30" y="587.06" font-size="6.2" text-anchor="end" fill="#2a2a2a" stroke="#2a2a2a" stroke-width="0.18">20</text>
<line x1="28.20" y1="572.29" x2="31.50" y2="572.29" stroke="#222" stroke-width="0.9"/>
<text x="25.30" y="574.49" font-size="6.2" text-anchor="end" fill="#2a2a2a" stroke="#2a2a2a" stroke-width="0.18">30</text>
<line x1="28.20" y1="559.72" x2="31.50" y2="559.72" stroke="#222" stroke-width="0.9"/>
<text x="25.30" y="561.92" font-size="6.2" text-anchor="end" fill="#2a2a2a" stroke="#2a2a2a" stroke-width="0.18">40</text>
<line x1="28.20" y1="547.15" x2="31.50" y2="547.15" stroke="#222" stroke-width="0.9"/>
<text x="25.30" y="549.35" font-size="6.2" text-anchor="end" fill="#2a2a2a" stroke="#2a2a2a" stroke-width="0.18">50</text>
<line x1="28.20" y1="534.58" x2="31.50" y2="534.58" stroke="#222" stroke-width="0.9"/>
<text x="25.30" y="536.78" font-size="6.2" text-anchor="end" fill="#2a2a2a" stroke="#2a2a2a" stroke-width="0.18">60</text>
<text x="58.80" y="540.20" font-size="5.9" text-anchor="middle" fill="#333" textLength="17.7" lengthAdjust="spacingAndGlyphs" stroke="#333" stroke-width="0.18">n = 30</text>
<text x="10.80" y="571.40" font-size="6.8" font-weight="bold" fill="#1a1a1a" text-anchor="middle" textLength="35.6" lengthAdjust="spacingAndGlyphs" transform="rotate(-90 10.80 571.40) translate(0 2.45)">N fraction (%)</text>
<text x="87.30" y="485.60" font-size="10.8" text-anchor="start" fill="#111" font-weight="bold">E</text>
<text x="135.00" y="503.25" font-size="8.2" text-anchor="middle" fill="#1a1a1a" textLength="33.8" lengthAdjust="spacingAndGlyphs" stroke="#1a1a1a" stroke-width="0.18">N/P Ratio</text>
<text x="133.50" y="513.10" font-size="5.9" fill="#333" stroke="#333" stroke-width="0.18" text-anchor="middle" textLength="21" lengthAdjust="spacingAndGlyphs"><tspan font-style="italic">P</tspan> &lt; .001</text>
<line x1="116.30" y1="514.60" x2="150.90" y2="514.60" stroke="#333" stroke-width="0.8"/>
<text x="122.00" y="524.30" font-size="5.9" fill="#333" stroke="#333" stroke-width="0.18" text-anchor="middle" textLength="21.5" lengthAdjust="spacingAndGlyphs"><tspan font-style="italic">P</tspan> &lt; .001</text>
<line x1="116.30" y1="526.60" x2="131.60" y2="526.60" stroke="#333" stroke-width="0.8"/>
<text x="146.00" y="524.30" font-size="5.9" fill="#333" stroke="#333" stroke-width="0.18" text-anchor="middle" textLength="21.5" lengthAdjust="spacingAndGlyphs"><tspan font-style="italic">P</tspan> &lt; .001</text>
<line x1="136.20" y1="526.60" x2="150.60" y2="526.60" stroke="#333" stroke-width="0.8"/>
<rect x="115.15" y="572.20" width="10.7" height="17.95" fill="#229bd0"/>
<rect x="144.95" y="559.02" width="10.9" height="13.18" fill="#c8102e"/>
<line x1="110.20" y1="572.20" x2="160.70" y2="572.20" stroke="#6a7080" stroke-width="0.6"/>
<circle cx="123.7" cy="607.3" r="0.9" fill="none" stroke="#8a8a8a" stroke-width="0.45"/>
<circle cx="121.2" cy="582.3" r="0.9" fill="none" stroke="#0f2f48" stroke-width="0.5" opacity="0.85"/>
<circle cx="123.0" cy="579.3" r="0.9" fill="none" stroke="#0f2f48" stroke-width="0.5" opacity="0.85"/>
<circle cx="123.4" cy="577.3" r="0.9" fill="none" stroke="#0f2f48" stroke-width="0.5" opacity="0.85"/>
<circle cx="117.2" cy="588.9" r="0.9" fill="none" stroke="#0f2f48" stroke-width="0.5" opacity="0.85"/>
<circle cx="119.0" cy="578.9" r="0.9" fill="none" stroke="#0f2f48" stroke-width="0.5" opacity="0.85"/>
<circle cx="123.2" cy="590.8" r="0.9" fill="none" stroke="#8a8a8a" stroke-width="0.45"/>
<circle cx="122.6" cy="591.6" r="0.9" fill="none" stroke="#8a8a8a" stroke-width="0.45"/>
<circle cx="121.0" cy="605.8" r="0.9" fill="none" stroke="#8a8a8a" stroke-width="0.45"/>
<circle cx="119.7" cy="598.2" r="0.9" fill="none" stroke="#8a8a8a" stroke-width="0.45"/>
<circle cx="120.5" cy="596.3" r="0.9" fill="none" stroke="#8a8a8a" stroke-width="0.45"/>
<circle cx="116.6" cy="581.2" r="0.9" fill="none" stroke="#0f2f48" stroke-width="0.5" opacity="0.85"/>
<circle cx="117.5" cy="573.7" r="0.9" fill="none" stroke="#0f2f48" stroke-width="0.5" opacity="0.85"/>
<circle cx="119.3" cy="595.1" r="0.9" fill="none" stroke="#8a8a8a" stroke-width="0.45"/>
<circle cx="117.6" cy="586.7" r="0.9" fill="none" stroke="#0f2f48" stroke-width="0.5" opacity="0.85"/>
<circle cx="118.3" cy="587.6" r="0.9" fill="none" stroke="#0f2f48" stroke-width="0.5" opacity="0.85"/>
<circle cx="123.0" cy="598.2" r="0.9" fill="none" stroke="#8a8a8a" stroke-width="0.45"/>
<circle cx="122.7" cy="607.3" r="0.9" fill="none" stroke="#8a8a8a" stroke-width="0.45"/>
<circle cx="122.4" cy="597.9" r="0.9" fill="none" stroke="#8a8a8a" stroke-width="0.45"/>
<circle cx="121.0" cy="604.8" r="0.9" fill="none" stroke="#8a8a8a" stroke-width="0.45"/>
<circle cx="123.9" cy="593.6" r="0.9" fill="none" stroke="#8a8a8a" stroke-width="0.45"/>
<circle cx="118.3" cy="591.8" r="0.9" fill="none" stroke="#8a8a8a" stroke-width="0.45"/>
<circle cx="121.5" cy="592.2" r="0.9" fill="none" stroke="#8a8a8a" stroke-width="0.45"/>
<circle cx="119.9" cy="592.1" r="0.9" fill="none" stroke="#8a8a8a" stroke-width="0.45"/>
<circle cx="124.1" cy="585.6" r="0.9" fill="none" stroke="#0f2f48" stroke-width="0.5" opacity="0.85"/>
<circle cx="119.2" cy="599.7" r="0.9" fill="none" stroke="#8a8a8a" stroke-width="0.45"/>
<circle cx="118.4" cy="581.5" r="0.9" fill="none" stroke="#0f2f48" stroke-width="0.5" opacity="0.85"/>
<circle cx="122.7" cy="607.2" r="0.9" fill="none" stroke="#8a8a8a" stroke-width="0.45"/>
<circle cx="123.0" cy="589.8" r="0.9" fill="none" stroke="#0f2f48" stroke-width="0.5" opacity="0.85"/>
<circle cx="122.3" cy="586.5" r="0.9" fill="none" stroke="#0f2f48" stroke-width="0.5" opacity="0.85"/>
<circle cx="122.8" cy="598.3" r="0.9" fill="none" stroke="#8a8a8a" stroke-width="0.45"/>
<circle cx="118.0" cy="606.4" r="0.9" fill="none" stroke="#8a8a8a" stroke-width="0.45"/>
<circle cx="121.4" cy="584.0" r="0.9" fill="none" stroke="#0f2f48" stroke-width="0.5" opacity="0.85"/>
<circle cx="120.8" cy="597.2" r="0.9" fill="none" stroke="#8a8a8a" stroke-width="0.45"/>
<circle cx="123.8" cy="582.6" r="0.9" fill="none" stroke="#0f2f48" stroke-width="0.5" opacity="0.85"/>
<circle cx="119.7" cy="582.7" r="0.9" fill="none" stroke="#0f2f48" stroke-width="0.5" opacity="0.85"/>
<circle cx="118.4" cy="590.5" r="0.9" fill="none" stroke="#8a8a8a" stroke-width="0.45"/>
<circle cx="118.9" cy="590.4" r="0.9" fill="none" stroke="#8a8a8a" stroke-width="0.45"/>
<circle cx="120.6" cy="580.5" r="0.9" fill="none" stroke="#0f2f48" stroke-width="0.5" opacity="0.85"/>
<circle cx="124.4" cy="586.6" r="0.9" fill="none" stroke="#0f2f48" stroke-width="0.5" opacity="0.85"/>
<circle cx="122.1" cy="599.8" r="0.9" fill="none" stroke="#8a8a8a" stroke-width="0.45"/>
<circle cx="122.3" cy="588.7" r="0.9" fill="none" stroke="#0f2f48" stroke-width="0.5" opacity="0.85"/>
<circle cx="120.2" cy="584.9" r="0.9" fill="none" stroke="#0f2f48" stroke-width="0.5" opacity="0.85"/>
<circle cx="119.7" cy="588.4" r="0.9" fill="none" stroke="#0f2f48" stroke-width="0.5" opacity="0.85"/>
<circle cx="124.0" cy="588.5" r="0.9" fill="none" stroke="#0f2f48" stroke-width="0.5" opacity="0.85"/>
<circle cx="120.1" cy="591.9" r="0.9" fill="none" stroke="#8a8a8a" stroke-width="0.45"/>
<circle cx="117.5" cy="591.6" r="0.9" fill="none" stroke="#8a8a8a" stroke-width="0.45"/>
<circle cx="122.8" cy="599.8" r="0.9" fill="none" stroke="#8a8a8a" stroke-width="0.45"/>
<circle cx="118.1" cy="604.7" r="0.9" fill="none" stroke="#8a8a8a" stroke-width="0.45"/>
<circle cx="119.6" cy="579.2" r="0.9" fill="none" stroke="#0f2f48" stroke-width="0.5" opacity="0.85"/>
<circle cx="121.4" cy="596.8" r="0.9" fill="none" stroke="#8a8a8a" stroke-width="0.45"/>
<circle cx="123.2" cy="588.2" r="0.9" fill="none" stroke="#0f2f48" stroke-width="0.5" opacity="0.85"/>
<circle cx="116.5" cy="605.4" r="0.9" fill="none" stroke="#8a8a8a" stroke-width="0.45"/>
<circle cx="121.7" cy="588.8" r="0.9" fill="none" stroke="#0f2f48" stroke-width="0.5" opacity="0.85"/>
<circle cx="117.5" cy="598.7" r="0.9" fill="none" stroke="#8a8a8a" stroke-width="0.45"/>
<circle cx="121.6" cy="568.4" r="0.9" fill="none" stroke="#8a8a8a" stroke-width="0.45"/>
<circle cx="121.4" cy="600.6" r="0.9" fill="none" stroke="#8a8a8a" stroke-width="0.45"/>
<circle cx="120.6" cy="600.1" r="0.9" fill="none" stroke="#8a8a8a" stroke-width="0.45"/>
<circle cx="119.9" cy="581.0" r="0.9" fill="none" stroke="#0f2f48" stroke-width="0.5" opacity="0.85"/>
<circle cx="120.8" cy="579.1" r="0.9" fill="none" stroke="#0f2f48" stroke-width="0.5" opacity="0.85"/>
<circle cx="124.2" cy="607.3" r="0.9" fill="none" stroke="#8a8a8a" stroke-width="0.45"/>
<circle cx="119.3" cy="587.9" r="0.9" fill="none" stroke="#0f2f48" stroke-width="0.5" opacity="0.85"/>
<circle cx="120.3" cy="581.6" r="0.9" fill="none" stroke="#0f2f48" stroke-width="0.5" opacity="0.85"/>
<circle cx="117.6" cy="602.7" r="0.9" fill="none" stroke="#8a8a8a" stroke-width="0.45"/>
<circle cx="119.6" cy="583.6" r="0.9" fill="none" stroke="#0f2f48" stroke-width="0.5" opacity="0.85"/>
<circle cx="116.9" cy="595.7" r="0.9" fill="none" stroke="#8a8a8a" stroke-width="0.45"/>
<circle cx="123.8" cy="600.4" r="0.9" fill="none" stroke="#8a8a8a" stroke-width="0.45"/>
<circle cx="119.2" cy="593.9" r="0.9" fill="none" stroke="#8a8a8a" stroke-width="0.45"/>
<circle cx="124.1" cy="595.0" r="0.9" fill="none" stroke="#8a8a8a" stroke-width="0.45"/>
<circle cx="117.5" cy="604.3" r="0.9" fill="none" stroke="#8a8a8a" stroke-width="0.45"/>
<circle cx="121.8" cy="568.4" r="0.9" fill="none" stroke="#8a8a8a" stroke-width="0.45"/>
<circle cx="121.3" cy="595.0" r="0.9" fill="none" stroke="#8a8a8a" stroke-width="0.45"/>
<circle cx="121.8" cy="597.9" r="0.9" fill="none" stroke="#8a8a8a" stroke-width="0.45"/>
<circle cx="122.9" cy="581.9" r="0.9" fill="none" stroke="#0f2f48" stroke-width="0.5" opacity="0.85"/>
<circle cx="117.0" cy="591.2" r="0.9" fill="none" stroke="#8a8a8a" stroke-width="0.45"/>
<circle cx="122.4" cy="577.1" r="0.9" fill="none" stroke="#0f2f48" stroke-width="0.5" opacity="0.85"/>
<circle cx="116.6" cy="593.1" r="0.9" fill="none" stroke="#8a8a8a" stroke-width="0.45"/>
<circle cx="118.9" cy="586.9" r="0.9" fill="none" stroke="#0f2f48" stroke-width="0.5" opacity="0.85"/>
<circle cx="123.3" cy="589.5" r="0.9" fill="none" stroke="#0f2f48" stroke-width="0.5" opacity="0.85"/>
<circle cx="121.1" cy="588.8" r="0.9" fill="none" stroke="#0f2f48" stroke-width="0.5" opacity="0.85"/>
<circle cx="138.6" cy="572.5" r="0.9" fill="none" stroke="#8a8a8a" stroke-width="0.45"/>
<circle cx="138.1" cy="572.1" r="0.9" fill="none" stroke="#8a8a8a" stroke-width="0.45"/>
<circle cx="134.9" cy="565.4" r="0.9" fill="none" stroke="#8a8a8a" stroke-width="0.45"/>
<circle cx="133.9" cy="574.2" r="0.9" fill="none" stroke="#8a8a8a" stroke-width="0.45"/>
<circle cx="133.4" cy="573.7" r="0.9" fill="none" stroke="#8a8a8a" stroke-width="0.45"/>
<circle cx="132.2" cy="573.0" r="0.9" fill="none" stroke="#8a8a8a" stroke-width="0.45"/>
<circle cx="137.1" cy="569.5" r="0.9" fill="none" stroke="#8a8a8a" stroke-width="0.45"/>
<circle cx="137.7" cy="570.2" r="0.9" fill="none" stroke="#8a8a8a" stroke-width="0.45"/>
<circle cx="132.2" cy="568.2" r="0.9" fill="none" stroke="#8a8a8a" stroke-width="0.45"/>
<circle cx="135.4" cy="576.7" r="0.9" fill="none" stroke="#8a8a8a" stroke-width="0.45"/>
<circle cx="153.1" cy="557.3" r="0.9" fill="none" stroke="#8a8a8a" stroke-width="0.45"/>
<circle cx="151.6" cy="560.6" r="0.9" fill="none" stroke="#e8909c" stroke-width="0.5" opacity="0.85"/>
<circle cx="149.7" cy="561.4" r="0.9" fill="none" stroke="#e8909c" stroke-width="0.5" opacity="0.85"/>
<circle cx="154.1" cy="558.0" r="0.9" fill="none" stroke="#8a8a8a" stroke-width="0.45"/>
<circle cx="149.8" cy="574.0" r="0.9" fill="none" stroke="#8a8a8a" stroke-width="0.45"/>
<circle cx="148.8" cy="557.2" r="0.9" fill="none" stroke="#8a8a8a" stroke-width="0.45"/>
<circle cx="150.4" cy="558.2" r="0.9" fill="none" stroke="#8a8a8a" stroke-width="0.45"/>
<circle cx="149.1" cy="569.9" r="0.9" fill="none" stroke="#e8909c" stroke-width="0.5" opacity="0.85"/>
<circle cx="149.5" cy="560.0" r="0.9" fill="none" stroke="#e8909c" stroke-width="0.5" opacity="0.85"/>
<circle cx="150.4" cy="547.7" r="0.9" fill="none" stroke="#8a8a8a" stroke-width="0.45"/>
<circle cx="146.9" cy="562.1" r="0.9" fill="none" stroke="#e8909c" stroke-width="0.5" opacity="0.85"/>
<circle cx="151.3" cy="554.8" r="0.9" fill="none" stroke="#8a8a8a" stroke-width="0.45"/>
<circle cx="151.1" cy="560.9" r="0.9" fill="none" stroke="#e8909c" stroke-width="0.5" opacity="0.85"/>
<circle cx="152.2" cy="565.3" r="0.9" fill="none" stroke="#e8909c" stroke-width="0.5" opacity="0.85"/>
<circle cx="148.3" cy="566.1" r="0.9" fill="none" stroke="#e8909c" stroke-width="0.5" opacity="0.85"/>
<circle cx="146.6" cy="562.2" r="0.9" fill="none" stroke="#e8909c" stroke-width="0.5" opacity="0.85"/>
<circle cx="152.1" cy="549.5" r="0.9" fill="none" stroke="#8a8a8a" stroke-width="0.45"/>
<circle cx="149.3" cy="553.1" r="0.9" fill="none" stroke="#8a8a8a" stroke-width="0.45"/>
<circle cx="151.2" cy="564.5" r="0.9" fill="none" stroke="#e8909c" stroke-width="0.5" opacity="0.85"/>
<circle cx="148.5" cy="551.8" r="0.9" fill="none" stroke="#8a8a8a" stroke-width="0.45"/>
<circle cx="149.1" cy="560.2" r="0.9" fill="none" stroke="#e8909c" stroke-width="0.5" opacity="0.85"/>
<circle cx="148.4" cy="564.4" r="0.9" fill="none" stroke="#e8909c" stroke-width="0.5" opacity="0.85"/>
<line x1="120.50" y1="578.85" x2="120.50" y2="601.44" stroke="#111" stroke-width="0.95"/>
<line x1="117.80" y1="578.85" x2="123.20" y2="578.85" stroke="#111" stroke-width="1.0"/>
<line x1="117.80" y1="601.44" x2="123.20" y2="601.44" stroke="#111" stroke-width="1.0"/>
<line x1="117.00" y1="590.15" x2="124.00" y2="590.15" stroke="#111" stroke-width="0.6"/>
<line x1="135.50" y1="567.18" x2="135.50" y2="576.59" stroke="#111" stroke-width="0.95"/>
<line x1="132.80" y1="567.18" x2="138.20" y2="567.18" stroke="#111" stroke-width="1.0"/>
<line x1="132.80" y1="576.59" x2="138.20" y2="576.59" stroke="#111" stroke-width="1.0"/>
<line x1="132.00" y1="571.57" x2="139.00" y2="571.57" stroke="#111" stroke-width="0.6"/>
<line x1="150.40" y1="548.98" x2="150.40" y2="569.06" stroke="#111" stroke-width="0.95"/>
<line x1="147.70" y1="548.98" x2="153.10" y2="548.98" stroke="#111" stroke-width="1.0"/>
<line x1="147.70" y1="569.06" x2="153.10" y2="569.06" stroke="#111" stroke-width="1.0"/>
<line x1="146.90" y1="559.02" x2="153.90" y2="559.02" stroke="#111" stroke-width="0.6"/>
<line x1="110.20" y1="533.50" x2="110.20" y2="610.35" stroke="#222" stroke-width="1.1"/>
<line x1="107.70" y1="609.85" x2="160.70" y2="609.85" stroke="#222" stroke-width="1.1"/>
<line x1="107.00" y1="609.85" x2="110.20" y2="609.85" stroke="#222" stroke-width="0.9"/>
<text x="104.50" y="611.95" font-size="5.9" text-anchor="end" fill="#2a2a2a" stroke="#2a2a2a" stroke-width="0.18">–3</text>
<line x1="107.00" y1="597.30" x2="110.20" y2="597.30" stroke="#222" stroke-width="0.9"/>
<text x="104.50" y="599.40" font-size="5.9" text-anchor="end" fill="#2a2a2a" stroke="#2a2a2a" stroke-width="0.18">–2</text>
<line x1="107.00" y1="584.75" x2="110.20" y2="584.75" stroke="#222" stroke-width="0.9"/>
<text x="104.50" y="586.85" font-size="5.9" text-anchor="end" fill="#2a2a2a" stroke="#2a2a2a" stroke-width="0.18">–1</text>
<line x1="107.00" y1="572.20" x2="110.20" y2="572.20" stroke="#222" stroke-width="0.9"/>
<text x="104.50" y="574.30" font-size="5.9" text-anchor="end" fill="#2a2a2a" stroke="#2a2a2a" stroke-width="0.18">0</text>
<line x1="107.00" y1="559.65" x2="110.20" y2="559.65" stroke="#222" stroke-width="0.9"/>
<text x="104.50" y="561.75" font-size="5.9" text-anchor="end" fill="#2a2a2a" stroke="#2a2a2a" stroke-width="0.18">1</text>
<line x1="107.00" y1="547.10" x2="110.20" y2="547.10" stroke="#222" stroke-width="0.9"/>
<text x="104.50" y="549.20" font-size="5.9" text-anchor="end" fill="#2a2a2a" stroke="#2a2a2a" stroke-width="0.18">2</text>
<line x1="107.00" y1="534.55" x2="110.20" y2="534.55" stroke="#222" stroke-width="0.9"/>
<text x="104.50" y="536.65" font-size="5.9" text-anchor="end" fill="#2a2a2a" stroke="#2a2a2a" stroke-width="0.18">3</text>
<text x="91.00" y="571.20" font-size="6.6" font-weight="bold" fill="#1a1a1a" text-anchor="middle" textLength="88.4" lengthAdjust="spacingAndGlyphs" transform="rotate(-90 91.00 571.20) translate(0 2.38)">Log10 (value of post/pre treatment)</text>
<text x="119.00" y="612.9" font-size="6.3" fill="#222" stroke="#222" stroke-width="0.18" text-anchor="end" textLength="18.5" lengthAdjust="spacingAndGlyphs" transform="rotate(-90 119.00 612.9) translate(0 2.2)">PR/CR</text>
<text x="135.10" y="612.9" font-size="6.3" fill="#222" stroke="#222" stroke-width="0.18" text-anchor="end" textLength="8.1" lengthAdjust="spacingAndGlyphs" transform="rotate(-90 135.10 612.9) translate(0 2.2)">SD</text>
<text x="149.80" y="612.9" font-size="6.3" fill="#222" stroke="#222" stroke-width="0.18" text-anchor="end" textLength="8.1" lengthAdjust="spacingAndGlyphs" transform="rotate(-90 149.80 612.9) translate(0 2.2)">PD</text>
<text x="173.50" y="485.60" font-size="10.8" text-anchor="start" fill="#111" font-weight="bold">F</text>
<text x="221.40" y="503.25" font-size="8.2" text-anchor="middle" fill="#1a1a1a" textLength="49.3" lengthAdjust="spacingAndGlyphs" stroke="#1a1a1a" stroke-width="0.18">N Fraction (%)</text>
<text x="219.90" y="513.10" font-size="5.9" fill="#333" stroke="#333" stroke-width="0.18" text-anchor="middle" textLength="21" lengthAdjust="spacingAndGlyphs"><tspan font-style="italic">P</tspan> &lt; .001</text>
<line x1="202.70" y1="514.60" x2="237.30" y2="514.60" stroke="#333" stroke-width="0.8"/>
<text x="208.40" y="524.30" font-size="5.9" fill="#333" stroke="#333" stroke-width="0.18" text-anchor="middle" textLength="21.5" lengthAdjust="spacingAndGlyphs"><tspan font-style="italic">P</tspan> &lt; .001</text>
<line x1="202.70" y1="526.60" x2="218.00" y2="526.60" stroke="#333" stroke-width="0.8"/>
<text x="232.40" y="524.30" font-size="5.9" fill="#333" stroke="#333" stroke-width="0.18" text-anchor="middle" textLength="21.5" lengthAdjust="spacingAndGlyphs"><tspan font-style="italic">P</tspan> &lt; .001</text>
<line x1="222.60" y1="526.60" x2="237.00" y2="526.60" stroke="#333" stroke-width="0.8"/>
<rect x="201.55" y="572.20" width="10.7" height="12.55" fill="#2590c0"/>
<rect x="231.35" y="564.04" width="10.9" height="8.16" fill="#c8102e"/>
<line x1="196.60" y1="572.20" x2="247.10" y2="572.20" stroke="#6a7080" stroke-width="0.6"/>
<circle cx="203.0" cy="576.8" r="0.9" fill="none" stroke="#0f2f48" stroke-width="0.5" opacity="0.85"/>
<circle cx="207.5" cy="582.7" r="0.9" fill="none" stroke="#0f2f48" stroke-width="0.5" opacity="0.85"/>
<circle cx="209.9" cy="595.3" r="0.9" fill="none" stroke="#8a8a8a" stroke-width="0.45"/>
<circle cx="210.3" cy="571.3" r="0.9" fill="none" stroke="#8a8a8a" stroke-width="0.45"/>
<circle cx="210.4" cy="573.7" r="0.9" fill="none" stroke="#0f2f48" stroke-width="0.5" opacity="0.85"/>
<circle cx="206.3" cy="591.1" r="0.9" fill="none" stroke="#8a8a8a" stroke-width="0.45"/>
<circle cx="203.0" cy="568.4" r="0.9" fill="none" stroke="#8a8a8a" stroke-width="0.45"/>
<circle cx="205.7" cy="580.3" r="0.9" fill="none" stroke="#0f2f48" stroke-width="0.5" opacity="0.85"/>
<circle cx="205.0" cy="583.4" r="0.9" fill="none" stroke="#0f2f48" stroke-width="0.5" opacity="0.85"/>
<circle cx="207.5" cy="568.4" r="0.9" fill="none" stroke="#8a8a8a" stroke-width="0.45"/>
<circle cx="208.7" cy="606.1" r="0.9" fill="none" stroke="#8a8a8a" stroke-width="0.45"/>
<circle cx="210.8" cy="599.3" r="0.9" fill="none" stroke="#8a8a8a" stroke-width="0.45"/>
<circle cx="205.4" cy="578.0" r="0.9" fill="none" stroke="#0f2f48" stroke-width="0.5" opacity="0.85"/>
<circle cx="205.8" cy="586.8" r="0.9" fill="none" stroke="#8a8a8a" stroke-width="0.45"/>
<circle cx="203.5" cy="593.2" r="0.9" fill="none" stroke="#8a8a8a" stroke-width="0.45"/>
<circle cx="209.6" cy="570.7" r="0.9" fill="none" stroke="#8a8a8a" stroke-width="0.45"/>
<circle cx="206.9" cy="580.1" r="0.9" fill="none" stroke="#0f2f48" stroke-width="0.5" opacity="0.85"/>
<circle cx="204.7" cy="596.3" r="0.9" fill="none" stroke="#8a8a8a" stroke-width="0.45"/>
<circle cx="206.9" cy="590.6" r="0.9" fill="none" stroke="#8a8a8a" stroke-width="0.45"/>
<circle cx="206.8" cy="576.8" r="0.9" fill="none" stroke="#0f2f48" stroke-width="0.5" opacity="0.85"/>
<circle cx="209.5" cy="568.4" r="0.9" fill="none" stroke="#8a8a8a" stroke-width="0.45"/>
<circle cx="204.7" cy="602.9" r="0.9" fill="none" stroke="#8a8a8a" stroke-width="0.45"/>
<circle cx="207.0" cy="582.2" r="0.9" fill="none" stroke="#0f2f48" stroke-width="0.5" opacity="0.85"/>
<circle cx="206.5" cy="588.0" r="0.9" fill="none" stroke="#8a8a8a" stroke-width="0.45"/>
<circle cx="203.6" cy="600.5" r="0.9" fill="none" stroke="#8a8a8a" stroke-width="0.45"/>
<circle cx="204.0" cy="586.0" r="0.9" fill="none" stroke="#8a8a8a" stroke-width="0.45"/>
<circle cx="204.8" cy="599.2" r="0.9" fill="none" stroke="#8a8a8a" stroke-width="0.45"/>
<circle cx="206.4" cy="589.4" r="0.9" fill="none" stroke="#8a8a8a" stroke-width="0.45"/>
<circle cx="207.4" cy="569.6" r="0.9" fill="none" stroke="#8a8a8a" stroke-width="0.45"/>
<circle cx="208.9" cy="579.8" r="0.9" fill="none" stroke="#0f2f48" stroke-width="0.5" opacity="0.85"/>
<circle cx="210.2" cy="577.3" r="0.9" fill="none" stroke="#0f2f48" stroke-width="0.5" opacity="0.85"/>
<circle cx="203.6" cy="579.0" r="0.9" fill="none" stroke="#0f2f48" stroke-width="0.5" opacity="0.85"/>
<circle cx="210.8" cy="581.2" r="0.9" fill="none" stroke="#0f2f48" stroke-width="0.5" opacity="0.85"/>
<circle cx="206.2" cy="575.5" r="0.9" fill="none" stroke="#0f2f48" stroke-width="0.5" opacity="0.85"/>
<circle cx="209.2" cy="595.2" r="0.9" fill="none" stroke="#8a8a8a" stroke-width="0.45"/>
<circle cx="205.5" cy="587.8" r="0.9" fill="none" stroke="#8a8a8a" stroke-width="0.45"/>
<circle cx="208.8" cy="576.6" r="0.9" fill="none" stroke="#0f2f48" stroke-width="0.5" opacity="0.85"/>
<circle cx="208.4" cy="591.1" r="0.9" fill="none" stroke="#8a8a8a" stroke-width="0.45"/>
<circle cx="203.0" cy="588.5" r="0.9" fill="none" stroke="#8a8a8a" stroke-width="0.45"/>
<circle cx="209.9" cy="573.4" r="0.9" fill="none" stroke="#0f2f48" stroke-width="0.5" opacity="0.85"/>
<circle cx="203.2" cy="570.4" r="0.9" fill="none" stroke="#8a8a8a" stroke-width="0.45"/>
<circle cx="206.8" cy="590.0" r="0.9" fill="none" stroke="#8a8a8a" stroke-width="0.45"/>
<circle cx="204.6" cy="591.9" r="0.9" fill="none" stroke="#8a8a8a" stroke-width="0.45"/>
<circle cx="207.6" cy="579.1" r="0.9" fill="none" stroke="#0f2f48" stroke-width="0.5" opacity="0.85"/>
<circle cx="204.3" cy="581.9" r="0.9" fill="none" stroke="#0f2f48" stroke-width="0.5" opacity="0.85"/>
<circle cx="207.8" cy="590.6" r="0.9" fill="none" stroke="#8a8a8a" stroke-width="0.45"/>
<circle cx="209.1" cy="578.9" r="0.9" fill="none" stroke="#0f2f48" stroke-width="0.5" opacity="0.85"/>
<circle cx="207.7" cy="579.3" r="0.9" fill="none" stroke="#0f2f48" stroke-width="0.5" opacity="0.85"/>
<circle cx="209.6" cy="583.7" r="0.9" fill="none" stroke="#0f2f48" stroke-width="0.5" opacity="0.85"/>
<circle cx="205.9" cy="568.4" r="0.9" fill="none" stroke="#8a8a8a" stroke-width="0.45"/>
<circle cx="208.3" cy="571.9" r="0.9" fill="none" stroke="#8a8a8a" stroke-width="0.45"/>
<circle cx="206.5" cy="576.9" r="0.9" fill="none" stroke="#0f2f48" stroke-width="0.5" opacity="0.85"/>
<circle cx="210.3" cy="575.0" r="0.9" fill="none" stroke="#0f2f48" stroke-width="0.5" opacity="0.85"/>
<circle cx="203.6" cy="568.4" r="0.9" fill="none" stroke="#8a8a8a" stroke-width="0.45"/>
<circle cx="209.9" cy="574.3" r="0.9" fill="none" stroke="#0f2f48" stroke-width="0.5" opacity="0.85"/>
<circle cx="202.9" cy="591.0" r="0.9" fill="none" stroke="#8a8a8a" stroke-width="0.45"/>
<circle cx="209.8" cy="581.4" r="0.9" fill="none" stroke="#0f2f48" stroke-width="0.5" opacity="0.85"/>
<circle cx="203.5" cy="583.7" r="0.9" fill="none" stroke="#0f2f48" stroke-width="0.5" opacity="0.85"/>
<circle cx="208.5" cy="589.6" r="0.9" fill="none" stroke="#8a8a8a" stroke-width="0.45"/>
<circle cx="203.7" cy="582.0" r="0.9" fill="none" stroke="#0f2f48" stroke-width="0.5" opacity="0.85"/>
<circle cx="209.2" cy="582.1" r="0.9" fill="none" stroke="#0f2f48" stroke-width="0.5" opacity="0.85"/>
<circle cx="204.6" cy="584.9" r="0.9" fill="none" stroke="#8a8a8a" stroke-width="0.45"/>
<circle cx="203.4" cy="588.8" r="0.9" fill="none" stroke="#8a8a8a" stroke-width="0.45"/>
<circle cx="209.9" cy="576.7" r="0.9" fill="none" stroke="#0f2f48" stroke-width="0.5" opacity="0.85"/>
<circle cx="207.5" cy="599.0" r="0.9" fill="none" stroke="#8a8a8a" stroke-width="0.45"/>
<circle cx="209.7" cy="576.8" r="0.9" fill="none" stroke="#0f2f48" stroke-width="0.5" opacity="0.85"/>
<circle cx="209.3" cy="584.3" r="0.9" fill="none" stroke="#0f2f48" stroke-width="0.5" opacity="0.85"/>
<circle cx="203.6" cy="581.8" r="0.9" fill="none" stroke="#0f2f48" stroke-width="0.5" opacity="0.85"/>
<circle cx="203.6" cy="606.1" r="0.9" fill="none" stroke="#8a8a8a" stroke-width="0.45"/>
<circle cx="208.6" cy="568.9" r="0.9" fill="none" stroke="#8a8a8a" stroke-width="0.45"/>
<circle cx="209.7" cy="600.3" r="0.9" fill="none" stroke="#8a8a8a" stroke-width="0.45"/>
<circle cx="204.3" cy="592.3" r="0.9" fill="none" stroke="#8a8a8a" stroke-width="0.45"/>
<circle cx="210.0" cy="578.4" r="0.9" fill="none" stroke="#0f2f48" stroke-width="0.5" opacity="0.85"/>
<circle cx="203.0" cy="589.9" r="0.9" fill="none" stroke="#8a8a8a" stroke-width="0.45"/>
<circle cx="209.1" cy="588.1" r="0.9" fill="none" stroke="#8a8a8a" stroke-width="0.45"/>
<circle cx="222.8" cy="578.7" r="0.9" fill="none" stroke="#8a8a8a" stroke-width="0.45"/>
<circle cx="221.1" cy="573.2" r="0.9" fill="none" stroke="#8a8a8a" stroke-width="0.45"/>
<circle cx="221.0" cy="571.2" r="0.9" fill="none" stroke="#8a8a8a" stroke-width="0.45"/>
<circle cx="220.5" cy="569.7" r="0.9" fill="none" stroke="#8a8a8a" stroke-width="0.45"/>
<circle cx="221.7" cy="572.7" r="0.9" fill="none" stroke="#8a8a8a" stroke-width="0.45"/>
<circle cx="221.9" cy="571.1" r="0.9" fill="none" stroke="#8a8a8a" stroke-width="0.45"/>
<circle cx="219.5" cy="570.5" r="0.9" fill="none" stroke="#8a8a8a" stroke-width="0.45"/>
<circle cx="218.4" cy="573.9" r="0.9" fill="none" stroke="#8a8a8a" stroke-width="0.45"/>
<circle cx="222.1" cy="574.1" r="0.9" fill="none" stroke="#8a8a8a" stroke-width="0.45"/>
<circle cx="219.7" cy="565.8" r="0.9" fill="none" stroke="#8a8a8a" stroke-width="0.45"/>
<circle cx="233.5" cy="569.0" r="0.9" fill="none" stroke="#e8909c" stroke-width="0.5" opacity="0.85"/>
<circle cx="234.7" cy="556.2" r="0.9" fill="none" stroke="#8a8a8a" stroke-width="0.45"/>
<circle cx="233.9" cy="563.3" r="0.9" fill="none" stroke="#8a8a8a" stroke-width="0.45"/>
<circle cx="239.8" cy="554.7" r="0.9" fill="none" stroke="#8a8a8a" stroke-width="0.45"/>
<circle cx="235.1" cy="567.7" r="0.9" fill="none" stroke="#e8909c" stroke-width="0.5" opacity="0.85"/>
<circle cx="238.0" cy="560.6" r="0.9" fill="none" stroke="#8a8a8a" stroke-width="0.45"/>
<circle cx="232.7" cy="561.7" r="0.9" fill="none" stroke="#8a8a8a" stroke-width="0.45"/>
<circle cx="238.1" cy="565.2" r="0.9" fill="none" stroke="#e8909c" stroke-width="0.5" opacity="0.85"/>
<circle cx="240.6" cy="561.9" r="0.9" fill="none" stroke="#8a8a8a" stroke-width="0.45"/>
<circle cx="238.9" cy="568.5" r="0.9" fill="none" stroke="#e8909c" stroke-width="0.5" opacity="0.85"/>
<circle cx="239.0" cy="564.3" r="0.9" fill="none" stroke="#e8909c" stroke-width="0.5" opacity="0.85"/>
<circle cx="236.1" cy="566.2" r="0.9" fill="none" stroke="#e8909c" stroke-width="0.5" opacity="0.85"/>
<circle cx="236.6" cy="559.1" r="0.9" fill="none" stroke="#8a8a8a" stroke-width="0.45"/>
<circle cx="240.1" cy="564.3" r="0.9" fill="none" stroke="#e8909c" stroke-width="0.5" opacity="0.85"/>
<circle cx="234.6" cy="572.3" r="0.9" fill="none" stroke="#8a8a8a" stroke-width="0.45"/>
<circle cx="236.8" cy="566.0" r="0.9" fill="none" stroke="#e8909c" stroke-width="0.5" opacity="0.85"/>
<circle cx="238.7" cy="564.4" r="0.9" fill="none" stroke="#e8909c" stroke-width="0.5" opacity="0.85"/>
<circle cx="235.5" cy="569.3" r="0.9" fill="none" stroke="#e8909c" stroke-width="0.5" opacity="0.85"/>
<circle cx="236.6" cy="555.6" r="0.9" fill="none" stroke="#8a8a8a" stroke-width="0.45"/>
<circle cx="233.0" cy="561.3" r="0.9" fill="none" stroke="#8a8a8a" stroke-width="0.45"/>
<circle cx="238.3" cy="558.6" r="0.9" fill="none" stroke="#8a8a8a" stroke-width="0.45"/>
<circle cx="234.0" cy="568.5" r="0.9" fill="none" stroke="#e8909c" stroke-width="0.5" opacity="0.85"/>
<line x1="206.90" y1="575.97" x2="206.90" y2="593.54" stroke="#111" stroke-width="0.95"/>
<line x1="204.20" y1="575.97" x2="209.60" y2="575.97" stroke="#111" stroke-width="1.0"/>
<line x1="204.20" y1="593.54" x2="209.60" y2="593.54" stroke="#111" stroke-width="1.0"/>
<line x1="203.40" y1="584.75" x2="210.40" y2="584.75" stroke="#111" stroke-width="0.6"/>
<line x1="221.90" y1="567.81" x2="221.90" y2="575.97" stroke="#111" stroke-width="0.95"/>
<line x1="219.20" y1="567.81" x2="224.60" y2="567.81" stroke="#111" stroke-width="1.0"/>
<line x1="219.20" y1="575.97" x2="224.60" y2="575.97" stroke="#111" stroke-width="1.0"/>
<line x1="218.40" y1="571.95" x2="225.40" y2="571.95" stroke="#111" stroke-width="0.6"/>
<line x1="236.80" y1="556.51" x2="236.80" y2="571.57" stroke="#111" stroke-width="0.95"/>
<line x1="234.10" y1="556.51" x2="239.50" y2="556.51" stroke="#111" stroke-width="1.0"/>
<line x1="234.10" y1="571.57" x2="239.50" y2="571.57" stroke="#111" stroke-width="1.0"/>
<line x1="233.30" y1="564.04" x2="240.30" y2="564.04" stroke="#111" stroke-width="0.6"/>
<line x1="196.60" y1="533.50" x2="196.60" y2="610.35" stroke="#222" stroke-width="1.1"/>
<line x1="194.10" y1="609.85" x2="247.10" y2="609.85" stroke="#222" stroke-width="1.1"/>
<line x1="193.40" y1="609.85" x2="196.60" y2="609.85" stroke="#222" stroke-width="0.9"/>
<text x="190.90" y="611.95" font-size="5.9" text-anchor="end" fill="#2a2a2a" stroke="#2a2a2a" stroke-width="0.18">–3</text>
<line x1="193.40" y1="597.30" x2="196.60" y2="597.30" stroke="#222" stroke-width="0.9"/>
<text x="190.90" y="599.40" font-size="5.9" text-anchor="end" fill="#2a2a2a" stroke="#2a2a2a" stroke-width="0.18">–2</text>
<line x1="193.40" y1="584.75" x2="196.60" y2="584.75" stroke="#222" stroke-width="0.9"/>
<text x="190.90" y="586.85" font-size="5.9" text-anchor="end" fill="#2a2a2a" stroke="#2a2a2a" stroke-width="0.18">–1</text>
<line x1="193.40" y1="572.20" x2="196.60" y2="572.20" stroke="#222" stroke-width="0.9"/>
<text x="190.90" y="574.30" font-size="5.9" text-anchor="end" fill="#2a2a2a" stroke="#2a2a2a" stroke-width="0.18">0</text>
<line x1="193.40" y1="559.65" x2="196.60" y2="559.65" stroke="#222" stroke-width="0.9"/>
<text x="190.90" y="561.75" font-size="5.9" text-anchor="end" fill="#2a2a2a" stroke="#2a2a2a" stroke-width="0.18">1</text>
<line x1="193.40" y1="547.10" x2="196.60" y2="547.10" stroke="#222" stroke-width="0.9"/>
<text x="190.90" y="549.20" font-size="5.9" text-anchor="end" fill="#2a2a2a" stroke="#2a2a2a" stroke-width="0.18">2</text>
<line x1="193.40" y1="534.55" x2="196.60" y2="534.55" stroke="#222" stroke-width="0.9"/>
<text x="190.90" y="536.65" font-size="5.9" text-anchor="end" fill="#2a2a2a" stroke="#2a2a2a" stroke-width="0.18">3</text>
<text x="177.40" y="571.20" font-size="6.6" font-weight="bold" fill="#1a1a1a" text-anchor="middle" textLength="88.4" lengthAdjust="spacingAndGlyphs" transform="rotate(-90 177.40 571.20) translate(0 2.38)">Log10 (value of post/pre treatment)</text>
<text x="205.40" y="612.9" font-size="6.3" fill="#222" stroke="#222" stroke-width="0.18" text-anchor="end" textLength="18.5" lengthAdjust="spacingAndGlyphs" transform="rotate(-90 205.40 612.9) translate(0 2.2)">PR/CR</text>
<text x="221.50" y="612.9" font-size="6.3" fill="#222" stroke="#222" stroke-width="0.18" text-anchor="end" textLength="8.1" lengthAdjust="spacingAndGlyphs" transform="rotate(-90 221.50 612.9) translate(0 2.2)">SD</text>
<text x="236.20" y="612.9" font-size="6.3" fill="#222" stroke="#222" stroke-width="0.18" text-anchor="end" textLength="8.1" lengthAdjust="spacingAndGlyphs" transform="rotate(-90 236.20 612.9) translate(0 2.2)">PD</text>
<text x="258.70" y="485.60" font-size="10.8" text-anchor="start" fill="#111" font-weight="bold">G</text>
<text x="307.70" y="503.25" font-size="8.2" text-anchor="middle" fill="#1a1a1a" textLength="22.3" lengthAdjust="spacingAndGlyphs" stroke="#1a1a1a" stroke-width="0.18">sIL-2R</text>
<text x="306.20" y="513.10" font-size="5.9" fill="#333" stroke="#333" stroke-width="0.18" text-anchor="middle" textLength="21" lengthAdjust="spacingAndGlyphs"><tspan font-style="italic">P</tspan> &lt; .001</text>
<line x1="289.00" y1="514.60" x2="323.60" y2="514.60" stroke="#333" stroke-width="0.8"/>
<text x="294.70" y="524.30" font-size="5.9" fill="#333" stroke="#333" stroke-width="0.18" text-anchor="middle" textLength="21.5" lengthAdjust="spacingAndGlyphs"><tspan font-style="italic">P</tspan> &lt; .001</text>
<line x1="289.00" y1="526.60" x2="304.30" y2="526.60" stroke="#333" stroke-width="0.8"/>
<text x="318.70" y="524.30" font-size="5.9" fill="#333" stroke="#333" stroke-width="0.18" text-anchor="middle" textLength="21.5" lengthAdjust="spacingAndGlyphs"><tspan font-style="italic">P</tspan> &lt; .001</text>
<line x1="308.90" y1="526.60" x2="323.30" y2="526.60" stroke="#333" stroke-width="0.8"/>
<rect x="287.85" y="572.20" width="10.7" height="9.41" fill="#2a82b0"/>
<rect x="303.45" y="572.20" width="9.5" height="1.88" fill="#8d8fb8"/>
<rect x="317.65" y="565.30" width="10.9" height="6.90" fill="#c8102e"/>
<line x1="282.90" y1="572.20" x2="333.40" y2="572.20" stroke="#6a7080" stroke-width="0.6"/>
<circle cx="297.0" cy="581.8" r="0.9" fill="none" stroke="#8a8a8a" stroke-width="0.45"/>
<circle cx="291.0" cy="592.2" r="0.9" fill="none" stroke="#8a8a8a" stroke-width="0.45"/>
<circle cx="290.9" cy="578.3" r="0.9" fill="none" stroke="#0f2f48" stroke-width="0.5" opacity="0.85"/>
<circle cx="290.0" cy="583.4" r="0.9" fill="none" stroke="#8a8a8a" stroke-width="0.45"/>
<circle cx="296.8" cy="569.8" r="0.9" fill="none" stroke="#8a8a8a" stroke-width="0.45"/>
<circle cx="296.6" cy="587.9" r="0.9" fill="none" stroke="#8a8a8a" stroke-width="0.45"/>
<circle cx="294.3" cy="575.0" r="0.9" fill="none" stroke="#0f2f48" stroke-width="0.5" opacity="0.85"/>
<circle cx="293.4" cy="585.5" r="0.9" fill="none" stroke="#8a8a8a" stroke-width="0.45"/>
<circle cx="293.9" cy="574.9" r="0.9" fill="none" stroke="#0f2f48" stroke-width="0.5" opacity="0.85"/>
<circle cx="292.1" cy="587.4" r="0.9" fill="none" stroke="#8a8a8a" stroke-width="0.45"/>
<circle cx="296.4" cy="576.7" r="0.9" fill="none" stroke="#0f2f48" stroke-width="0.5" opacity="0.85"/>
<circle cx="293.7" cy="584.0" r="0.9" fill="none" stroke="#8a8a8a" stroke-width="0.45"/>
<circle cx="296.1" cy="586.4" r="0.9" fill="none" stroke="#8a8a8a" stroke-width="0.45"/>
<circle cx="294.8" cy="582.2" r="0.9" fill="none" stroke="#8a8a8a" stroke-width="0.45"/>
<circle cx="294.7" cy="578.3" r="0.9" fill="none" stroke="#0f2f48" stroke-width="0.5" opacity="0.85"/>
<circle cx="294.6" cy="578.7" r="0.9" fill="none" stroke="#0f2f48" stroke-width="0.5" opacity="0.85"/>
<circle cx="295.4" cy="571.4" r="0.9" fill="none" stroke="#8a8a8a" stroke-width="0.45"/>
<circle cx="295.7" cy="576.1" r="0.9" fill="none" stroke="#0f2f48" stroke-width="0.5" opacity="0.85"/>
<circle cx="294.7" cy="597.3" r="0.9" fill="none" stroke="#8a8a8a" stroke-width="0.45"/>
<circle cx="291.7" cy="583.8" r="0.9" fill="none" stroke="#8a8a8a" stroke-width="0.45"/>
<circle cx="291.3" cy="593.7" r="0.9" fill="none" stroke="#8a8a8a" stroke-width="0.45"/>
<circle cx="290.7" cy="583.7" r="0.9" fill="none" stroke="#8a8a8a" stroke-width="0.45"/>
<circle cx="296.1" cy="577.4" r="0.9" fill="none" stroke="#0f2f48" stroke-width="0.5" opacity="0.85"/>
<circle cx="293.1" cy="589.6" r="0.9" fill="none" stroke="#8a8a8a" stroke-width="0.45"/>
<circle cx="289.1" cy="588.6" r="0.9" fill="none" stroke="#8a8a8a" stroke-width="0.45"/>
<circle cx="294.0" cy="580.4" r="0.9" fill="none" stroke="#0f2f48" stroke-width="0.5" opacity="0.85"/>
<circle cx="296.2" cy="583.1" r="0.9" fill="none" stroke="#8a8a8a" stroke-width="0.45"/>
<circle cx="296.6" cy="571.4" r="0.9" fill="none" stroke="#8a8a8a" stroke-width="0.45"/>
<circle cx="296.8" cy="579.2" r="0.9" fill="none" stroke="#0f2f48" stroke-width="0.5" opacity="0.85"/>
<circle cx="296.2" cy="577.9" r="0.9" fill="none" stroke="#0f2f48" stroke-width="0.5" opacity="0.85"/>
<circle cx="290.6" cy="570.3" r="0.9" fill="none" stroke="#8a8a8a" stroke-width="0.45"/>
<circle cx="293.3" cy="584.4" r="0.9" fill="none" stroke="#8a8a8a" stroke-width="0.45"/>
<circle cx="294.9" cy="581.3" r="0.9" fill="none" stroke="#0f2f48" stroke-width="0.5" opacity="0.85"/>
<circle cx="294.4" cy="587.5" r="0.9" fill="none" stroke="#8a8a8a" stroke-width="0.45"/>
<circle cx="292.1" cy="579.6" r="0.9" fill="none" stroke="#0f2f48" stroke-width="0.5" opacity="0.85"/>
<circle cx="289.4" cy="574.8" r="0.9" fill="none" stroke="#0f2f48" stroke-width="0.5" opacity="0.85"/>
<circle cx="296.4" cy="572.7" r="0.9" fill="none" stroke="#0f2f48" stroke-width="0.5" opacity="0.85"/>
<circle cx="295.5" cy="581.5" r="0.9" fill="none" stroke="#0f2f48" stroke-width="0.5" opacity="0.85"/>
<circle cx="296.2" cy="585.7" r="0.9" fill="none" stroke="#8a8a8a" stroke-width="0.45"/>
<circle cx="292.3" cy="586.0" r="0.9" fill="none" stroke="#8a8a8a" stroke-width="0.45"/>
<circle cx="291.2" cy="590.0" r="0.9" fill="none" stroke="#8a8a8a" stroke-width="0.45"/>
<circle cx="296.0" cy="580.5" r="0.9" fill="none" stroke="#0f2f48" stroke-width="0.5" opacity="0.85"/>
<circle cx="294.5" cy="572.7" r="0.9" fill="none" stroke="#0f2f48" stroke-width="0.5" opacity="0.85"/>
<circle cx="294.6" cy="596.1" r="0.9" fill="none" stroke="#8a8a8a" stroke-width="0.45"/>
<circle cx="289.4" cy="594.9" r="0.9" fill="none" stroke="#8a8a8a" stroke-width="0.45"/>
<circle cx="290.0" cy="572.5" r="0.9" fill="none" stroke="#0f2f48" stroke-width="0.5" opacity="0.85"/>
<circle cx="295.4" cy="591.3" r="0.9" fill="none" stroke="#8a8a8a" stroke-width="0.45"/>
<circle cx="296.3" cy="579.2" r="0.9" fill="none" stroke="#0f2f48" stroke-width="0.5" opacity="0.85"/>
<circle cx="292.0" cy="589.1" r="0.9" fill="none" stroke="#8a8a8a" stroke-width="0.45"/>
<circle cx="296.2" cy="576.3" r="0.9" fill="none" stroke="#0f2f48" stroke-width="0.5" opacity="0.85"/>
<circle cx="290.6" cy="576.3" r="0.9" fill="none" stroke="#0f2f48" stroke-width="0.5" opacity="0.85"/>
<circle cx="293.8" cy="580.2" r="0.9" fill="none" stroke="#0f2f48" stroke-width="0.5" opacity="0.85"/>
<circle cx="292.0" cy="576.1" r="0.9" fill="none" stroke="#0f2f48" stroke-width="0.5" opacity="0.85"/>
<circle cx="293.5" cy="580.9" r="0.9" fill="none" stroke="#0f2f48" stroke-width="0.5" opacity="0.85"/>
<circle cx="290.7" cy="577.7" r="0.9" fill="none" stroke="#0f2f48" stroke-width="0.5" opacity="0.85"/>
<circle cx="292.2" cy="569.8" r="0.9" fill="none" stroke="#8a8a8a" stroke-width="0.45"/>
<circle cx="292.9" cy="574.3" r="0.9" fill="none" stroke="#0f2f48" stroke-width="0.5" opacity="0.85"/>
<circle cx="293.8" cy="585.3" r="0.9" fill="none" stroke="#8a8a8a" stroke-width="0.45"/>
<circle cx="290.8" cy="586.2" r="0.9" fill="none" stroke="#8a8a8a" stroke-width="0.45"/>
<circle cx="294.1" cy="582.7" r="0.9" fill="none" stroke="#8a8a8a" stroke-width="0.45"/>
<circle cx="290.9" cy="582.6" r="0.9" fill="none" stroke="#8a8a8a" stroke-width="0.45"/>
<circle cx="297.1" cy="580.8" r="0.9" fill="none" stroke="#0f2f48" stroke-width="0.5" opacity="0.85"/>
<circle cx="291.1" cy="585.0" r="0.9" fill="none" stroke="#8a8a8a" stroke-width="0.45"/>
<circle cx="290.0" cy="577.1" r="0.9" fill="none" stroke="#0f2f48" stroke-width="0.5" opacity="0.85"/>
<circle cx="291.3" cy="581.0" r="0.9" fill="none" stroke="#0f2f48" stroke-width="0.5" opacity="0.85"/>
<circle cx="293.8" cy="578.9" r="0.9" fill="none" stroke="#0f2f48" stroke-width="0.5" opacity="0.85"/>
<circle cx="292.8" cy="581.2" r="0.9" fill="none" stroke="#0f2f48" stroke-width="0.5" opacity="0.85"/>
<circle cx="294.5" cy="577.3" r="0.9" fill="none" stroke="#0f2f48" stroke-width="0.5" opacity="0.85"/>
<circle cx="290.0" cy="588.7" r="0.9" fill="none" stroke="#8a8a8a" stroke-width="0.45"/>
<circle cx="292.5" cy="571.3" r="0.9" fill="none" stroke="#8a8a8a" stroke-width="0.45"/>
<circle cx="293.7" cy="579.0" r="0.9" fill="none" stroke="#0f2f48" stroke-width="0.5" opacity="0.85"/>
<circle cx="297.1" cy="578.4" r="0.9" fill="none" stroke="#0f2f48" stroke-width="0.5" opacity="0.85"/>
<circle cx="296.3" cy="577.3" r="0.9" fill="none" stroke="#0f2f48" stroke-width="0.5" opacity="0.85"/>
<circle cx="293.8" cy="574.4" r="0.9" fill="none" stroke="#0f2f48" stroke-width="0.5" opacity="0.85"/>
<circle cx="291.6" cy="576.6" r="0.9" fill="none" stroke="#0f2f48" stroke-width="0.5" opacity="0.85"/>
<circle cx="305.4" cy="573.3" r="0.9" fill="none" stroke="#0f2f48" stroke-width="0.5" opacity="0.85"/>
<circle cx="309.2" cy="574.4" r="0.9" fill="none" stroke="#8a8a8a" stroke-width="0.45"/>
<circle cx="308.7" cy="578.0" r="0.9" fill="none" stroke="#8a8a8a" stroke-width="0.45"/>
<circle cx="308.0" cy="573.4" r="0.9" fill="none" stroke="#0f2f48" stroke-width="0.5" opacity="0.85"/>
<circle cx="309.8" cy="574.7" r="0.9" fill="none" stroke="#8a8a8a" stroke-width="0.45"/>
<circle cx="307.9" cy="574.7" r="0.9" fill="none" stroke="#8a8a8a" stroke-width="0.45"/>
<circle cx="310.2" cy="567.9" r="0.9" fill="none" stroke="#8a8a8a" stroke-width="0.45"/>
<circle cx="306.7" cy="578.6" r="0.9" fill="none" stroke="#8a8a8a" stroke-width="0.45"/>
<circle cx="307.0" cy="573.8" r="0.9" fill="none" stroke="#0f2f48" stroke-width="0.5" opacity="0.85"/>
<circle cx="311.2" cy="570.9" r="0.9" fill="none" stroke="#8a8a8a" stroke-width="0.45"/>
<circle cx="323.8" cy="559.5" r="0.9" fill="none" stroke="#8a8a8a" stroke-width="0.45"/>
<circle cx="326.9" cy="557.9" r="0.9" fill="none" stroke="#8a8a8a" stroke-width="0.45"/>
<circle cx="319.5" cy="572.0" r="0.9" fill="none" stroke="#e8909c" stroke-width="0.5" opacity="0.85"/>
<circle cx="326.6" cy="570.3" r="0.9" fill="none" stroke="#e8909c" stroke-width="0.5" opacity="0.85"/>
<circle cx="319.4" cy="561.4" r="0.9" fill="none" stroke="#8a8a8a" stroke-width="0.45"/>
<circle cx="325.2" cy="566.5" r="0.9" fill="none" stroke="#e8909c" stroke-width="0.5" opacity="0.85"/>
<circle cx="323.8" cy="555.2" r="0.9" fill="none" stroke="#8a8a8a" stroke-width="0.45"/>
<circle cx="320.0" cy="563.6" r="0.9" fill="none" stroke="#8a8a8a" stroke-width="0.45"/>
<circle cx="321.5" cy="563.8" r="0.9" fill="none" stroke="#8a8a8a" stroke-width="0.45"/>
<circle cx="322.9" cy="562.4" r="0.9" fill="none" stroke="#8a8a8a" stroke-width="0.45"/>
<circle cx="323.6" cy="566.4" r="0.9" fill="none" stroke="#e8909c" stroke-width="0.5" opacity="0.85"/>
<circle cx="323.0" cy="564.2" r="0.9" fill="none" stroke="#8a8a8a" stroke-width="0.45"/>
<circle cx="319.2" cy="568.7" r="0.9" fill="none" stroke="#e8909c" stroke-width="0.5" opacity="0.85"/>
<circle cx="327.2" cy="565.1" r="0.9" fill="none" stroke="#8a8a8a" stroke-width="0.45"/>
<circle cx="321.9" cy="567.6" r="0.9" fill="none" stroke="#e8909c" stroke-width="0.5" opacity="0.85"/>
<circle cx="324.9" cy="563.4" r="0.9" fill="none" stroke="#8a8a8a" stroke-width="0.45"/>
<circle cx="326.7" cy="572.8" r="0.9" fill="none" stroke="#8a8a8a" stroke-width="0.45"/>
<circle cx="327.0" cy="573.3" r="0.9" fill="none" stroke="#8a8a8a" stroke-width="0.45"/>
<circle cx="320.5" cy="562.2" r="0.9" fill="none" stroke="#8a8a8a" stroke-width="0.45"/>
<circle cx="326.3" cy="563.6" r="0.9" fill="none" stroke="#8a8a8a" stroke-width="0.45"/>
<circle cx="323.2" cy="570.3" r="0.9" fill="none" stroke="#e8909c" stroke-width="0.5" opacity="0.85"/>
<circle cx="324.4" cy="566.1" r="0.9" fill="none" stroke="#e8909c" stroke-width="0.5" opacity="0.85"/>
<line x1="293.20" y1="574.71" x2="293.20" y2="588.52" stroke="#111" stroke-width="0.95"/>
<line x1="290.50" y1="574.71" x2="295.90" y2="574.71" stroke="#111" stroke-width="1.0"/>
<line x1="290.50" y1="588.52" x2="295.90" y2="588.52" stroke="#111" stroke-width="1.0"/>
<line x1="289.70" y1="581.61" x2="296.70" y2="581.61" stroke="#111" stroke-width="0.6"/>
<line x1="308.20" y1="570.95" x2="308.20" y2="577.22" stroke="#111" stroke-width="0.95"/>
<line x1="305.50" y1="570.95" x2="310.90" y2="570.95" stroke="#111" stroke-width="1.0"/>
<line x1="305.50" y1="577.22" x2="310.90" y2="577.22" stroke="#111" stroke-width="1.0"/>
<line x1="304.70" y1="574.08" x2="311.70" y2="574.08" stroke="#111" stroke-width="0.6"/>
<line x1="323.10" y1="558.40" x2="323.10" y2="572.20" stroke="#111" stroke-width="0.95"/>
<line x1="320.40" y1="558.40" x2="325.80" y2="558.40" stroke="#111" stroke-width="1.0"/>
<line x1="320.40" y1="572.20" x2="325.80" y2="572.20" stroke="#111" stroke-width="1.0"/>
<line x1="319.60" y1="565.30" x2="326.60" y2="565.30" stroke="#111" stroke-width="0.6"/>
<line x1="282.90" y1="533.50" x2="282.90" y2="610.35" stroke="#222" stroke-width="1.1"/>
<line x1="280.40" y1="609.85" x2="333.40" y2="609.85" stroke="#222" stroke-width="1.1"/>
<line x1="279.70" y1="609.85" x2="282.90" y2="609.85" stroke="#222" stroke-width="0.9"/>
<text x="277.20" y="611.95" font-size="5.9" text-anchor="end" fill="#2a2a2a" stroke="#2a2a2a" stroke-width="0.18">–3</text>
<line x1="279.70" y1="597.30" x2="282.90" y2="597.30" stroke="#222" stroke-width="0.9"/>
<text x="277.20" y="599.40" font-size="5.9" text-anchor="end" fill="#2a2a2a" stroke="#2a2a2a" stroke-width="0.18">–2</text>
<line x1="279.70" y1="584.75" x2="282.90" y2="584.75" stroke="#222" stroke-width="0.9"/>
<text x="277.20" y="586.85" font-size="5.9" text-anchor="end" fill="#2a2a2a" stroke="#2a2a2a" stroke-width="0.18">–1</text>
<line x1="279.70" y1="572.20" x2="282.90" y2="572.20" stroke="#222" stroke-width="0.9"/>
<text x="277.20" y="574.30" font-size="5.9" text-anchor="end" fill="#2a2a2a" stroke="#2a2a2a" stroke-width="0.18">0</text>
<line x1="279.70" y1="559.65" x2="282.90" y2="559.65" stroke="#222" stroke-width="0.9"/>
<text x="277.20" y="561.75" font-size="5.9" text-anchor="end" fill="#2a2a2a" stroke="#2a2a2a" stroke-width="0.18">1</text>
<line x1="279.70" y1="547.10" x2="282.90" y2="547.10" stroke="#222" stroke-width="0.9"/>
<text x="277.20" y="549.20" font-size="5.9" text-anchor="end" fill="#2a2a2a" stroke="#2a2a2a" stroke-width="0.18">2</text>
<line x1="279.70" y1="534.55" x2="282.90" y2="534.55" stroke="#222" stroke-width="0.9"/>
<text x="277.20" y="536.65" font-size="5.9" text-anchor="end" fill="#2a2a2a" stroke="#2a2a2a" stroke-width="0.18">3</text>
<text x="263.70" y="571.20" font-size="6.6" font-weight="bold" fill="#1a1a1a" text-anchor="middle" textLength="88.4" lengthAdjust="spacingAndGlyphs" transform="rotate(-90 263.70 571.20) translate(0 2.38)">Log10 (value of post/pre treatment)</text>
<text x="291.70" y="612.9" font-size="6.3" fill="#222" stroke="#222" stroke-width="0.18" text-anchor="end" textLength="18.5" lengthAdjust="spacingAndGlyphs" transform="rotate(-90 291.70 612.9) translate(0 2.2)">PR/CR</text>
<text x="307.80" y="612.9" font-size="6.3" fill="#222" stroke="#222" stroke-width="0.18" text-anchor="end" textLength="8.1" lengthAdjust="spacingAndGlyphs" transform="rotate(-90 307.80 612.9) translate(0 2.2)">SD</text>
<text x="322.50" y="612.9" font-size="6.3" fill="#222" stroke="#222" stroke-width="0.18" text-anchor="end" textLength="8.1" lengthAdjust="spacingAndGlyphs" transform="rotate(-90 322.50 612.9) translate(0 2.2)">PD</text>
<text x="345.20" y="485.60" font-size="10.8" text-anchor="start" fill="#111" font-weight="bold">H</text>
<text x="394.10" y="503.25" font-size="8.2" text-anchor="middle" fill="#1a1a1a" textLength="18.2" lengthAdjust="spacingAndGlyphs" stroke="#1a1a1a" stroke-width="0.18">LDH</text>
<text x="392.60" y="513.10" font-size="5.9" fill="#333" stroke="#333" stroke-width="0.18" text-anchor="middle" textLength="21" lengthAdjust="spacingAndGlyphs"><tspan font-style="italic">P</tspan> &lt; .001</text>
<line x1="375.40" y1="514.60" x2="410.00" y2="514.60" stroke="#333" stroke-width="0.8"/>
<text x="381.10" y="524.30" font-size="5.9" fill="#333" stroke="#333" stroke-width="0.18" text-anchor="middle" textLength="21.5" lengthAdjust="spacingAndGlyphs"><tspan font-style="italic">P</tspan> &lt; .001</text>
<line x1="375.40" y1="526.60" x2="390.70" y2="526.60" stroke="#333" stroke-width="0.8"/>
<text x="405.10" y="524.30" font-size="5.9" fill="#333" stroke="#333" stroke-width="0.18" text-anchor="middle" textLength="21.5" lengthAdjust="spacingAndGlyphs"><tspan font-style="italic">P</tspan> = .125</text>
<line x1="395.30" y1="526.60" x2="409.70" y2="526.60" stroke="#333" stroke-width="0.8"/>
<rect x="374.25" y="572.20" width="10.7" height="2.51" fill="#1f5472"/>
<rect x="404.05" y="571.20" width="10.9" height="1.00" fill="#c8102e"/>
<line x1="369.30" y1="572.20" x2="419.80" y2="572.20" stroke="#6a7080" stroke-width="0.6"/>
<circle cx="380.8" cy="576.4" r="0.9" fill="none" stroke="#8a8a8a" stroke-width="0.45"/>
<circle cx="378.8" cy="575.0" r="0.9" fill="none" stroke="#8a8a8a" stroke-width="0.45"/>
<circle cx="379.9" cy="576.1" r="0.9" fill="none" stroke="#8a8a8a" stroke-width="0.45"/>
<circle cx="376.7" cy="575.5" r="0.9" fill="none" stroke="#8a8a8a" stroke-width="0.45"/>
<circle cx="381.6" cy="573.3" r="0.9" fill="none" stroke="#0f2f48" stroke-width="0.5" opacity="0.85"/>
<circle cx="380.0" cy="576.9" r="0.9" fill="none" stroke="#8a8a8a" stroke-width="0.45"/>
<circle cx="380.2" cy="572.6" r="0.9" fill="none" stroke="#0f2f48" stroke-width="0.5" opacity="0.85"/>
<circle cx="381.3" cy="574.2" r="0.9" fill="none" stroke="#0f2f48" stroke-width="0.5" opacity="0.85"/>
<circle cx="376.4" cy="572.6" r="0.9" fill="none" stroke="#0f2f48" stroke-width="0.5" opacity="0.85"/>
<circle cx="375.9" cy="572.2" r="0.9" fill="none" stroke="#0f2f48" stroke-width="0.5" opacity="0.85"/>
<circle cx="376.5" cy="571.3" r="0.9" fill="none" stroke="#8a8a8a" stroke-width="0.45"/>
<circle cx="376.2" cy="572.9" r="0.9" fill="none" stroke="#0f2f48" stroke-width="0.5" opacity="0.85"/>
<circle cx="382.1" cy="572.7" r="0.9" fill="none" stroke="#0f2f48" stroke-width="0.5" opacity="0.85"/>
<circle cx="376.6" cy="574.9" r="0.9" fill="none" stroke="#8a8a8a" stroke-width="0.45"/>
<circle cx="378.6" cy="573.0" r="0.9" fill="none" stroke="#0f2f48" stroke-width="0.5" opacity="0.85"/>
<circle cx="380.9" cy="576.7" r="0.9" fill="none" stroke="#8a8a8a" stroke-width="0.45"/>
<circle cx="377.6" cy="575.1" r="0.9" fill="none" stroke="#8a8a8a" stroke-width="0.45"/>
<circle cx="382.9" cy="572.6" r="0.9" fill="none" stroke="#0f2f48" stroke-width="0.5" opacity="0.85"/>
<circle cx="383.0" cy="574.6" r="0.9" fill="none" stroke="#0f2f48" stroke-width="0.5" opacity="0.85"/>
<circle cx="378.7" cy="573.3" r="0.9" fill="none" stroke="#0f2f48" stroke-width="0.5" opacity="0.85"/>
<circle cx="380.3" cy="577.1" r="0.9" fill="none" stroke="#8a8a8a" stroke-width="0.45"/>
<circle cx="381.9" cy="571.0" r="0.9" fill="none" stroke="#8a8a8a" stroke-width="0.45"/>
<circle cx="383.5" cy="575.9" r="0.9" fill="none" stroke="#8a8a8a" stroke-width="0.45"/>
<circle cx="381.2" cy="573.5" r="0.9" fill="none" stroke="#0f2f48" stroke-width="0.5" opacity="0.85"/>
<circle cx="379.2" cy="574.5" r="0.9" fill="none" stroke="#0f2f48" stroke-width="0.5" opacity="0.85"/>
<circle cx="375.9" cy="572.1" r="0.9" fill="none" stroke="#8a8a8a" stroke-width="0.45"/>
<circle cx="380.8" cy="575.4" r="0.9" fill="none" stroke="#8a8a8a" stroke-width="0.45"/>
<circle cx="380.9" cy="577.0" r="0.9" fill="none" stroke="#8a8a8a" stroke-width="0.45"/>
<circle cx="381.2" cy="579.2" r="0.9" fill="none" stroke="#8a8a8a" stroke-width="0.45"/>
<circle cx="378.4" cy="575.2" r="0.9" fill="none" stroke="#8a8a8a" stroke-width="0.45"/>
<circle cx="382.5" cy="577.5" r="0.9" fill="none" stroke="#8a8a8a" stroke-width="0.45"/>
<circle cx="380.4" cy="573.1" r="0.9" fill="none" stroke="#0f2f48" stroke-width="0.5" opacity="0.85"/>
<circle cx="378.6" cy="570.8" r="0.9" fill="none" stroke="#8a8a8a" stroke-width="0.45"/>
<circle cx="377.5" cy="580.1" r="0.9" fill="none" stroke="#8a8a8a" stroke-width="0.45"/>
<circle cx="375.8" cy="577.7" r="0.9" fill="none" stroke="#8a8a8a" stroke-width="0.45"/>
<circle cx="381.3" cy="573.7" r="0.9" fill="none" stroke="#0f2f48" stroke-width="0.5" opacity="0.85"/>
<circle cx="378.1" cy="571.4" r="0.9" fill="none" stroke="#8a8a8a" stroke-width="0.45"/>
<circle cx="382.5" cy="573.7" r="0.9" fill="none" stroke="#0f2f48" stroke-width="0.5" opacity="0.85"/>
<circle cx="378.2" cy="573.7" r="0.9" fill="none" stroke="#0f2f48" stroke-width="0.5" opacity="0.85"/>
<circle cx="378.0" cy="573.2" r="0.9" fill="none" stroke="#0f2f48" stroke-width="0.5" opacity="0.85"/>
<circle cx="381.9" cy="573.0" r="0.9" fill="none" stroke="#0f2f48" stroke-width="0.5" opacity="0.85"/>
<circle cx="378.6" cy="570.3" r="0.9" fill="none" stroke="#8a8a8a" stroke-width="0.45"/>
<circle cx="383.6" cy="572.9" r="0.9" fill="none" stroke="#0f2f48" stroke-width="0.5" opacity="0.85"/>
<circle cx="380.1" cy="577.6" r="0.9" fill="none" stroke="#8a8a8a" stroke-width="0.45"/>
<circle cx="383.2" cy="575.7" r="0.9" fill="none" stroke="#8a8a8a" stroke-width="0.45"/>
<circle cx="376.5" cy="573.9" r="0.9" fill="none" stroke="#0f2f48" stroke-width="0.5" opacity="0.85"/>
<circle cx="375.9" cy="576.5" r="0.9" fill="none" stroke="#8a8a8a" stroke-width="0.45"/>
<circle cx="375.6" cy="575.1" r="0.9" fill="none" stroke="#8a8a8a" stroke-width="0.45"/>
<circle cx="382.7" cy="575.8" r="0.9" fill="none" stroke="#8a8a8a" stroke-width="0.45"/>
<circle cx="379.4" cy="576.2" r="0.9" fill="none" stroke="#8a8a8a" stroke-width="0.45"/>
<circle cx="381.5" cy="572.7" r="0.9" fill="none" stroke="#0f2f48" stroke-width="0.5" opacity="0.85"/>
<circle cx="379.8" cy="575.5" r="0.9" fill="none" stroke="#8a8a8a" stroke-width="0.45"/>
<circle cx="383.4" cy="577.2" r="0.9" fill="none" stroke="#8a8a8a" stroke-width="0.45"/>
<circle cx="382.1" cy="576.3" r="0.9" fill="none" stroke="#8a8a8a" stroke-width="0.45"/>
<circle cx="379.4" cy="574.4" r="0.9" fill="none" stroke="#0f2f48" stroke-width="0.5" opacity="0.85"/>
<circle cx="392.3" cy="570.0" r="0.9" fill="none" stroke="#8a8a8a" stroke-width="0.45"/>
<circle cx="393.8" cy="571.8" r="0.9" fill="none" stroke="#8a8a8a" stroke-width="0.45"/>
<circle cx="393.8" cy="570.6" r="0.9" fill="none" stroke="#8a8a8a" stroke-width="0.45"/>
<circle cx="393.6" cy="571.6" r="0.9" fill="none" stroke="#8a8a8a" stroke-width="0.45"/>
<circle cx="396.1" cy="574.3" r="0.9" fill="none" stroke="#8a8a8a" stroke-width="0.45"/>
<circle cx="397.0" cy="571.7" r="0.9" fill="none" stroke="#8a8a8a" stroke-width="0.45"/>
<circle cx="397.0" cy="573.0" r="0.9" fill="none" stroke="#8a8a8a" stroke-width="0.45"/>
<circle cx="392.4" cy="573.5" r="0.9" fill="none" stroke="#8a8a8a" stroke-width="0.45"/>
<circle cx="392.2" cy="573.2" r="0.9" fill="none" stroke="#8a8a8a" stroke-width="0.45"/>
<circle cx="395.8" cy="570.3" r="0.9" fill="none" stroke="#8a8a8a" stroke-width="0.45"/>
<circle cx="411.4" cy="576.8" r="0.9" fill="none" stroke="#8a8a8a" stroke-width="0.45"/>
<circle cx="411.9" cy="573.2" r="0.9" fill="none" stroke="#8a8a8a" stroke-width="0.45"/>
<circle cx="412.8" cy="566.5" r="0.9" fill="none" stroke="#8a8a8a" stroke-width="0.45"/>
<circle cx="408.1" cy="568.3" r="0.9" fill="none" stroke="#8a8a8a" stroke-width="0.45"/>
<circle cx="405.9" cy="577.3" r="0.9" fill="none" stroke="#8a8a8a" stroke-width="0.45"/>
<circle cx="408.4" cy="571.3" r="0.9" fill="none" stroke="#e8909c" stroke-width="0.5" opacity="0.85"/>
<circle cx="408.0" cy="572.8" r="0.9" fill="none" stroke="#8a8a8a" stroke-width="0.45"/>
<circle cx="406.3" cy="571.6" r="0.9" fill="none" stroke="#e8909c" stroke-width="0.5" opacity="0.85"/>
<circle cx="411.0" cy="568.0" r="0.9" fill="none" stroke="#8a8a8a" stroke-width="0.45"/>
<circle cx="409.6" cy="573.0" r="0.9" fill="none" stroke="#8a8a8a" stroke-width="0.45"/>
<circle cx="410.5" cy="572.1" r="0.9" fill="none" stroke="#e8909c" stroke-width="0.5" opacity="0.85"/>
<circle cx="412.6" cy="565.3" r="0.9" fill="none" stroke="#8a8a8a" stroke-width="0.45"/>
<circle cx="410.1" cy="577.8" r="0.9" fill="none" stroke="#8a8a8a" stroke-width="0.45"/>
<circle cx="412.7" cy="572.3" r="0.9" fill="none" stroke="#8a8a8a" stroke-width="0.45"/>
<circle cx="412.1" cy="569.1" r="0.9" fill="none" stroke="#8a8a8a" stroke-width="0.45"/>
<circle cx="409.7" cy="575.6" r="0.9" fill="none" stroke="#8a8a8a" stroke-width="0.45"/>
<circle cx="410.5" cy="573.2" r="0.9" fill="none" stroke="#8a8a8a" stroke-width="0.45"/>
<circle cx="409.3" cy="575.8" r="0.9" fill="none" stroke="#8a8a8a" stroke-width="0.45"/>
<circle cx="408.6" cy="570.3" r="0.9" fill="none" stroke="#8a8a8a" stroke-width="0.45"/>
<circle cx="411.4" cy="573.2" r="0.9" fill="none" stroke="#8a8a8a" stroke-width="0.45"/>
<circle cx="410.3" cy="567.9" r="0.9" fill="none" stroke="#8a8a8a" stroke-width="0.45"/>
<circle cx="408.4" cy="567.0" r="0.9" fill="none" stroke="#8a8a8a" stroke-width="0.45"/>
<line x1="379.60" y1="571.57" x2="379.60" y2="577.85" stroke="#111" stroke-width="0.95"/>
<line x1="376.90" y1="571.57" x2="382.30" y2="571.57" stroke="#111" stroke-width="1.0"/>
<line x1="376.90" y1="577.85" x2="382.30" y2="577.85" stroke="#111" stroke-width="1.0"/>
<line x1="376.10" y1="574.71" x2="383.10" y2="574.71" stroke="#111" stroke-width="0.6"/>
<line x1="394.60" y1="570.95" x2="394.60" y2="573.46" stroke="#111" stroke-width="0.95"/>
<line x1="391.90" y1="570.95" x2="397.30" y2="570.95" stroke="#111" stroke-width="1.0"/>
<line x1="391.90" y1="573.46" x2="397.30" y2="573.46" stroke="#111" stroke-width="1.0"/>
<line x1="391.10" y1="572.20" x2="398.10" y2="572.20" stroke="#111" stroke-width="0.6"/>
<line x1="409.50" y1="567.18" x2="409.50" y2="575.34" stroke="#111" stroke-width="0.95"/>
<line x1="406.80" y1="567.18" x2="412.20" y2="567.18" stroke="#111" stroke-width="1.0"/>
<line x1="406.80" y1="575.34" x2="412.20" y2="575.34" stroke="#111" stroke-width="1.0"/>
<line x1="406.00" y1="571.20" x2="413.00" y2="571.20" stroke="#111" stroke-width="0.6"/>
<line x1="369.30" y1="533.50" x2="369.30" y2="610.35" stroke="#222" stroke-width="1.1"/>
<line x1="366.80" y1="609.85" x2="419.80" y2="609.85" stroke="#222" stroke-width="1.1"/>
<line x1="366.10" y1="609.85" x2="369.30" y2="609.85" stroke="#222" stroke-width="0.9"/>
<text x="363.60" y="611.95" font-size="5.9" text-anchor="end" fill="#2a2a2a" stroke="#2a2a2a" stroke-width="0.18">–3</text>
<line x1="366.10" y1="597.30" x2="369.30" y2="597.30" stroke="#222" stroke-width="0.9"/>
<text x="363.60" y="599.40" font-size="5.9" text-anchor="end" fill="#2a2a2a" stroke="#2a2a2a" stroke-width="0.18">–2</text>
<line x1="366.10" y1="584.75" x2="369.30" y2="584.75" stroke="#222" stroke-width="0.9"/>
<text x="363.60" y="586.85" font-size="5.9" text-anchor="end" fill="#2a2a2a" stroke="#2a2a2a" stroke-width="0.18">–1</text>
<line x1="366.10" y1="572.20" x2="369.30" y2="572.20" stroke="#222" stroke-width="0.9"/>
<text x="363.60" y="574.30" font-size="5.9" text-anchor="end" fill="#2a2a2a" stroke="#2a2a2a" stroke-width="0.18">0</text>
<line x1="366.10" y1="559.65" x2="369.30" y2="559.65" stroke="#222" stroke-width="0.9"/>
<text x="363.60" y="561.75" font-size="5.9" text-anchor="end" fill="#2a2a2a" stroke="#2a2a2a" stroke-width="0.18">1</text>
<line x1="366.10" y1="547.10" x2="369.30" y2="547.10" stroke="#222" stroke-width="0.9"/>
<text x="363.60" y="549.20" font-size="5.9" text-anchor="end" fill="#2a2a2a" stroke="#2a2a2a" stroke-width="0.18">2</text>
<line x1="366.10" y1="534.55" x2="369.30" y2="534.55" stroke="#222" stroke-width="0.9"/>
<text x="363.60" y="536.65" font-size="5.9" text-anchor="end" fill="#2a2a2a" stroke="#2a2a2a" stroke-width="0.18">3</text>
<text x="350.10" y="571.20" font-size="6.6" font-weight="bold" fill="#1a1a1a" text-anchor="middle" textLength="88.4" lengthAdjust="spacingAndGlyphs" transform="rotate(-90 350.10 571.20) translate(0 2.38)">Log10 (value of post/pre treatment)</text>
<text x="378.10" y="612.9" font-size="6.3" fill="#222" stroke="#222" stroke-width="0.18" text-anchor="end" textLength="18.5" lengthAdjust="spacingAndGlyphs" transform="rotate(-90 378.10 612.9) translate(0 2.2)">PR/CR</text>
<text x="394.20" y="612.9" font-size="6.3" fill="#222" stroke="#222" stroke-width="0.18" text-anchor="end" textLength="8.1" lengthAdjust="spacingAndGlyphs" transform="rotate(-90 394.20 612.9) translate(0 2.2)">SD</text>
<text x="408.90" y="612.9" font-size="6.3" fill="#222" stroke="#222" stroke-width="0.18" text-anchor="end" textLength="8.1" lengthAdjust="spacingAndGlyphs" transform="rotate(-90 408.90 612.9) translate(0 2.2)">PD</text>
<text x="433.60" y="485.60" font-size="10.8" text-anchor="start" fill="#111" font-weight="bold">I</text>
<text x="480.20" y="503.25" font-size="8.2" text-anchor="middle" fill="#1a1a1a" textLength="66.5" lengthAdjust="spacingAndGlyphs" stroke="#1a1a1a" stroke-width="0.18">Abnormal-Lym (/µL)</text>
<text x="479.20" y="513.10" font-size="5.9" fill="#333" stroke="#333" stroke-width="0.18" text-anchor="middle" textLength="21" lengthAdjust="spacingAndGlyphs"><tspan font-style="italic">P</tspan> &lt; .001</text>
<line x1="462.00" y1="514.60" x2="496.60" y2="514.60" stroke="#333" stroke-width="0.8"/>
<text x="467.70" y="524.30" font-size="5.9" fill="#333" stroke="#333" stroke-width="0.18" text-anchor="middle" textLength="21.5" lengthAdjust="spacingAndGlyphs"><tspan font-style="italic">P</tspan> &lt; .001</text>
<line x1="462.00" y1="526.60" x2="477.30" y2="526.60" stroke="#333" stroke-width="0.8"/>
<text x="491.70" y="524.30" font-size="5.9" fill="#333" stroke="#333" stroke-width="0.18" text-anchor="middle" textLength="21.5" lengthAdjust="spacingAndGlyphs"><tspan font-style="italic">P</tspan> &lt; .001</text>
<line x1="481.90" y1="526.60" x2="496.30" y2="526.60" stroke="#333" stroke-width="0.8"/>
<rect x="460.85" y="572.20" width="10.7" height="15.69" fill="#2c9bd2"/>
<rect x="476.45" y="572.20" width="9.5" height="3.14" fill="#8b80c2"/>
<rect x="490.65" y="561.53" width="10.9" height="10.67" fill="#c8102e"/>
<line x1="455.90" y1="572.20" x2="506.40" y2="572.20" stroke="#6a7080" stroke-width="0.6"/>
<circle cx="462.8" cy="583.4" r="0.9" fill="none" stroke="#0f2f48" stroke-width="0.5" opacity="0.85"/>
<circle cx="463.2" cy="592.9" r="0.9" fill="none" stroke="#8a8a8a" stroke-width="0.45"/>
<circle cx="466.2" cy="578.2" r="0.9" fill="none" stroke="#0f2f48" stroke-width="0.5" opacity="0.85"/>
<circle cx="468.9" cy="568.2" r="0.9" fill="none" stroke="#8a8a8a" stroke-width="0.45"/>
<circle cx="468.6" cy="607.3" r="0.9" fill="none" stroke="#8a8a8a" stroke-width="0.45"/>
<circle cx="463.4" cy="596.0" r="0.9" fill="none" stroke="#8a8a8a" stroke-width="0.45"/>
<circle cx="466.5" cy="589.1" r="0.9" fill="none" stroke="#8a8a8a" stroke-width="0.45"/>
<circle cx="464.6" cy="576.8" r="0.9" fill="none" stroke="#0f2f48" stroke-width="0.5" opacity="0.85"/>
<circle cx="463.8" cy="591.5" r="0.9" fill="none" stroke="#8a8a8a" stroke-width="0.45"/>
<circle cx="465.1" cy="583.8" r="0.9" fill="none" stroke="#0f2f48" stroke-width="0.5" opacity="0.85"/>
<circle cx="467.7" cy="593.7" r="0.9" fill="none" stroke="#8a8a8a" stroke-width="0.45"/>
<circle cx="469.7" cy="582.2" r="0.9" fill="none" stroke="#0f2f48" stroke-width="0.5" opacity="0.85"/>
<circle cx="462.9" cy="598.0" r="0.9" fill="none" stroke="#8a8a8a" stroke-width="0.45"/>
<circle cx="464.5" cy="579.8" r="0.9" fill="none" stroke="#0f2f48" stroke-width="0.5" opacity="0.85"/>
<circle cx="468.2" cy="607.3" r="0.9" fill="none" stroke="#8a8a8a" stroke-width="0.45"/>
<circle cx="466.2" cy="604.1" r="0.9" fill="none" stroke="#8a8a8a" stroke-width="0.45"/>
<circle cx="465.3" cy="571.0" r="0.9" fill="none" stroke="#8a8a8a" stroke-width="0.45"/>
<circle cx="468.7" cy="585.7" r="0.9" fill="none" stroke="#0f2f48" stroke-width="0.5" opacity="0.85"/>
<circle cx="462.3" cy="595.2" r="0.9" fill="none" stroke="#8a8a8a" stroke-width="0.45"/>
<circle cx="469.8" cy="567.8" r="0.9" fill="none" stroke="#8a8a8a" stroke-width="0.45"/>
<circle cx="464.3" cy="577.9" r="0.9" fill="none" stroke="#0f2f48" stroke-width="0.5" opacity="0.85"/>
<circle cx="469.0" cy="577.2" r="0.9" fill="none" stroke="#0f2f48" stroke-width="0.5" opacity="0.85"/>
<circle cx="468.9" cy="591.0" r="0.9" fill="none" stroke="#8a8a8a" stroke-width="0.45"/>
<circle cx="468.9" cy="581.7" r="0.9" fill="none" stroke="#0f2f48" stroke-width="0.5" opacity="0.85"/>
<circle cx="467.2" cy="582.7" r="0.9" fill="none" stroke="#0f2f48" stroke-width="0.5" opacity="0.85"/>
<circle cx="467.4" cy="602.1" r="0.9" fill="none" stroke="#8a8a8a" stroke-width="0.45"/>
<circle cx="462.5" cy="581.9" r="0.9" fill="none" stroke="#0f2f48" stroke-width="0.5" opacity="0.85"/>
<circle cx="465.6" cy="588.9" r="0.9" fill="none" stroke="#8a8a8a" stroke-width="0.45"/>
<circle cx="467.2" cy="575.7" r="0.9" fill="none" stroke="#0f2f48" stroke-width="0.5" opacity="0.85"/>
<circle cx="464.4" cy="575.6" r="0.9" fill="none" stroke="#0f2f48" stroke-width="0.5" opacity="0.85"/>
<circle cx="467.7" cy="593.0" r="0.9" fill="none" stroke="#8a8a8a" stroke-width="0.45"/>
<circle cx="466.6" cy="592.7" r="0.9" fill="none" stroke="#8a8a8a" stroke-width="0.45"/>
<circle cx="467.6" cy="585.5" r="0.9" fill="none" stroke="#0f2f48" stroke-width="0.5" opacity="0.85"/>
<circle cx="469.1" cy="581.4" r="0.9" fill="none" stroke="#0f2f48" stroke-width="0.5" opacity="0.85"/>
<circle cx="464.9" cy="590.9" r="0.9" fill="none" stroke="#8a8a8a" stroke-width="0.45"/>
<circle cx="467.2" cy="588.3" r="0.9" fill="none" stroke="#8a8a8a" stroke-width="0.45"/>
<circle cx="462.5" cy="581.8" r="0.9" fill="none" stroke="#0f2f48" stroke-width="0.5" opacity="0.85"/>
<circle cx="468.6" cy="583.5" r="0.9" fill="none" stroke="#0f2f48" stroke-width="0.5" opacity="0.85"/>
<circle cx="468.8" cy="576.9" r="0.9" fill="none" stroke="#0f2f48" stroke-width="0.5" opacity="0.85"/>
<circle cx="467.7" cy="585.1" r="0.9" fill="none" stroke="#0f2f48" stroke-width="0.5" opacity="0.85"/>
<circle cx="467.8" cy="595.2" r="0.9" fill="none" stroke="#8a8a8a" stroke-width="0.45"/>
<circle cx="466.7" cy="603.1" r="0.9" fill="none" stroke="#8a8a8a" stroke-width="0.45"/>
<circle cx="464.8" cy="580.0" r="0.9" fill="none" stroke="#0f2f48" stroke-width="0.5" opacity="0.85"/>
<circle cx="468.6" cy="590.3" r="0.9" fill="none" stroke="#8a8a8a" stroke-width="0.45"/>
<circle cx="463.2" cy="590.4" r="0.9" fill="none" stroke="#8a8a8a" stroke-width="0.45"/>
<circle cx="466.9" cy="589.9" r="0.9" fill="none" stroke="#8a8a8a" stroke-width="0.45"/>
<circle cx="463.0" cy="601.4" r="0.9" fill="none" stroke="#8a8a8a" stroke-width="0.45"/>
<circle cx="468.2" cy="590.8" r="0.9" fill="none" stroke="#8a8a8a" stroke-width="0.45"/>
<circle cx="466.2" cy="607.3" r="0.9" fill="none" stroke="#8a8a8a" stroke-width="0.45"/>
<circle cx="467.3" cy="590.9" r="0.9" fill="none" stroke="#8a8a8a" stroke-width="0.45"/>
<circle cx="463.5" cy="595.3" r="0.9" fill="none" stroke="#8a8a8a" stroke-width="0.45"/>
<circle cx="465.5" cy="570.8" r="0.9" fill="none" stroke="#8a8a8a" stroke-width="0.45"/>
<circle cx="467.5" cy="583.3" r="0.9" fill="none" stroke="#0f2f48" stroke-width="0.5" opacity="0.85"/>
<circle cx="465.7" cy="589.2" r="0.9" fill="none" stroke="#8a8a8a" stroke-width="0.45"/>
<circle cx="468.0" cy="585.8" r="0.9" fill="none" stroke="#0f2f48" stroke-width="0.5" opacity="0.85"/>
<circle cx="462.8" cy="580.7" r="0.9" fill="none" stroke="#0f2f48" stroke-width="0.5" opacity="0.85"/>
<circle cx="465.0" cy="594.1" r="0.9" fill="none" stroke="#8a8a8a" stroke-width="0.45"/>
<circle cx="463.0" cy="589.4" r="0.9" fill="none" stroke="#8a8a8a" stroke-width="0.45"/>
<circle cx="468.1" cy="590.5" r="0.9" fill="none" stroke="#8a8a8a" stroke-width="0.45"/>
<circle cx="465.3" cy="567.8" r="0.9" fill="none" stroke="#8a8a8a" stroke-width="0.45"/>
<circle cx="468.2" cy="586.6" r="0.9" fill="none" stroke="#0f2f48" stroke-width="0.5" opacity="0.85"/>
<circle cx="468.3" cy="605.0" r="0.9" fill="none" stroke="#8a8a8a" stroke-width="0.45"/>
<circle cx="462.4" cy="580.1" r="0.9" fill="none" stroke="#0f2f48" stroke-width="0.5" opacity="0.85"/>
<circle cx="467.2" cy="567.8" r="0.9" fill="none" stroke="#8a8a8a" stroke-width="0.45"/>
<circle cx="468.7" cy="595.9" r="0.9" fill="none" stroke="#8a8a8a" stroke-width="0.45"/>
<circle cx="469.6" cy="567.8" r="0.9" fill="none" stroke="#8a8a8a" stroke-width="0.45"/>
<circle cx="462.9" cy="587.9" r="0.9" fill="none" stroke="#0f2f48" stroke-width="0.5" opacity="0.85"/>
<circle cx="462.9" cy="578.3" r="0.9" fill="none" stroke="#0f2f48" stroke-width="0.5" opacity="0.85"/>
<circle cx="465.7" cy="592.4" r="0.9" fill="none" stroke="#8a8a8a" stroke-width="0.45"/>
<circle cx="468.2" cy="589.7" r="0.9" fill="none" stroke="#8a8a8a" stroke-width="0.45"/>
<circle cx="463.0" cy="598.4" r="0.9" fill="none" stroke="#8a8a8a" stroke-width="0.45"/>
<circle cx="470.2" cy="596.8" r="0.9" fill="none" stroke="#8a8a8a" stroke-width="0.45"/>
<circle cx="467.9" cy="606.7" r="0.9" fill="none" stroke="#8a8a8a" stroke-width="0.45"/>
<circle cx="462.3" cy="577.0" r="0.9" fill="none" stroke="#0f2f48" stroke-width="0.5" opacity="0.85"/>
<circle cx="468.2" cy="597.7" r="0.9" fill="none" stroke="#8a8a8a" stroke-width="0.45"/>
<circle cx="480.7" cy="573.7" r="0.9" fill="none" stroke="#0f2f48" stroke-width="0.5" opacity="0.85"/>
<circle cx="478.9" cy="573.8" r="0.9" fill="none" stroke="#0f2f48" stroke-width="0.5" opacity="0.85"/>
<circle cx="482.4" cy="577.6" r="0.9" fill="none" stroke="#8a8a8a" stroke-width="0.45"/>
<circle cx="482.8" cy="574.9" r="0.9" fill="none" stroke="#0f2f48" stroke-width="0.5" opacity="0.85"/>
<circle cx="482.1" cy="575.5" r="0.9" fill="none" stroke="#8a8a8a" stroke-width="0.45"/>
<circle cx="479.4" cy="577.0" r="0.9" fill="none" stroke="#8a8a8a" stroke-width="0.45"/>
<circle cx="478.9" cy="574.9" r="0.9" fill="none" stroke="#0f2f48" stroke-width="0.5" opacity="0.85"/>
<circle cx="478.0" cy="574.9" r="0.9" fill="none" stroke="#0f2f48" stroke-width="0.5" opacity="0.85"/>
<circle cx="478.8" cy="579.1" r="0.9" fill="none" stroke="#8a8a8a" stroke-width="0.45"/>
<circle cx="480.2" cy="580.1" r="0.9" fill="none" stroke="#8a8a8a" stroke-width="0.45"/>
<circle cx="494.8" cy="567.6" r="0.9" fill="none" stroke="#e8909c" stroke-width="0.5" opacity="0.85"/>
<circle cx="492.5" cy="560.1" r="0.9" fill="none" stroke="#8a8a8a" stroke-width="0.45"/>
<circle cx="499.0" cy="550.3" r="0.9" fill="none" stroke="#8a8a8a" stroke-width="0.45"/>
<circle cx="493.5" cy="549.7" r="0.9" fill="none" stroke="#8a8a8a" stroke-width="0.45"/>
<circle cx="492.6" cy="558.6" r="0.9" fill="none" stroke="#8a8a8a" stroke-width="0.45"/>
<circle cx="493.7" cy="553.7" r="0.9" fill="none" stroke="#8a8a8a" stroke-width="0.45"/>
<circle cx="495.6" cy="560.1" r="0.9" fill="none" stroke="#8a8a8a" stroke-width="0.45"/>
<circle cx="497.1" cy="552.5" r="0.9" fill="none" stroke="#8a8a8a" stroke-width="0.45"/>
<circle cx="492.6" cy="560.1" r="0.9" fill="none" stroke="#8a8a8a" stroke-width="0.45"/>
<circle cx="493.2" cy="558.0" r="0.9" fill="none" stroke="#8a8a8a" stroke-width="0.45"/>
<circle cx="492.2" cy="563.3" r="0.9" fill="none" stroke="#e8909c" stroke-width="0.5" opacity="0.85"/>
<circle cx="495.3" cy="561.1" r="0.9" fill="none" stroke="#8a8a8a" stroke-width="0.45"/>
<circle cx="500.2" cy="546.3" r="0.9" fill="none" stroke="#8a8a8a" stroke-width="0.45"/>
<circle cx="498.4" cy="570.4" r="0.9" fill="none" stroke="#e8909c" stroke-width="0.5" opacity="0.85"/>
<circle cx="499.0" cy="561.1" r="0.9" fill="none" stroke="#8a8a8a" stroke-width="0.45"/>
<circle cx="499.5" cy="565.7" r="0.9" fill="none" stroke="#e8909c" stroke-width="0.5" opacity="0.85"/>
<circle cx="493.8" cy="553.6" r="0.9" fill="none" stroke="#8a8a8a" stroke-width="0.45"/>
<circle cx="497.3" cy="547.0" r="0.9" fill="none" stroke="#8a8a8a" stroke-width="0.45"/>
<circle cx="495.4" cy="563.5" r="0.9" fill="none" stroke="#e8909c" stroke-width="0.5" opacity="0.85"/>
<circle cx="495.0" cy="579.7" r="0.9" fill="none" stroke="#8a8a8a" stroke-width="0.45"/>
<circle cx="498.2" cy="556.3" r="0.9" fill="none" stroke="#8a8a8a" stroke-width="0.45"/>
<circle cx="496.6" cy="556.3" r="0.9" fill="none" stroke="#8a8a8a" stroke-width="0.45"/>
<line x1="466.20" y1="578.48" x2="466.20" y2="597.30" stroke="#111" stroke-width="0.95"/>
<line x1="463.50" y1="578.48" x2="468.90" y2="578.48" stroke="#111" stroke-width="1.0"/>
<line x1="463.50" y1="597.30" x2="468.90" y2="597.30" stroke="#111" stroke-width="1.0"/>
<line x1="462.70" y1="587.89" x2="469.70" y2="587.89" stroke="#111" stroke-width="0.6"/>
<line x1="481.20" y1="569.06" x2="481.20" y2="581.61" stroke="#111" stroke-width="0.95"/>
<line x1="478.50" y1="569.06" x2="483.90" y2="569.06" stroke="#111" stroke-width="1.0"/>
<line x1="478.50" y1="581.61" x2="483.90" y2="581.61" stroke="#111" stroke-width="1.0"/>
<line x1="477.70" y1="575.34" x2="484.70" y2="575.34" stroke="#111" stroke-width="0.6"/>
<line x1="496.10" y1="550.87" x2="496.10" y2="572.20" stroke="#111" stroke-width="0.95"/>
<line x1="493.40" y1="550.87" x2="498.80" y2="550.87" stroke="#111" stroke-width="1.0"/>
<line x1="493.40" y1="572.20" x2="498.80" y2="572.20" stroke="#111" stroke-width="1.0"/>
<line x1="492.60" y1="561.53" x2="499.60" y2="561.53" stroke="#111" stroke-width="0.6"/>
<line x1="455.90" y1="533.50" x2="455.90" y2="610.35" stroke="#222" stroke-width="1.1"/>
<line x1="453.40" y1="609.85" x2="506.40" y2="609.85" stroke="#222" stroke-width="1.1"/>
<line x1="452.70" y1="609.85" x2="455.90" y2="609.85" stroke="#222" stroke-width="0.9"/>
<text x="450.20" y="611.95" font-size="5.9" text-anchor="end" fill="#2a2a2a" stroke="#2a2a2a" stroke-width="0.18">–3</text>
<line x1="452.70" y1="597.30" x2="455.90" y2="597.30" stroke="#222" stroke-width="0.9"/>
<text x="450.20" y="599.40" font-size="5.9" text-anchor="end" fill="#2a2a2a" stroke="#2a2a2a" stroke-width="0.18">–2</text>
<line x1="452.70" y1="584.75" x2="455.90" y2="584.75" stroke="#222" stroke-width="0.9"/>
<text x="450.20" y="586.85" font-size="5.9" text-anchor="end" fill="#2a2a2a" stroke="#2a2a2a" stroke-width="0.18">–1</text>
<line x1="452.70" y1="572.20" x2="455.90" y2="572.20" stroke="#222" stroke-width="0.9"/>
<text x="450.20" y="574.30" font-size="5.9" text-anchor="end" fill="#2a2a2a" stroke="#2a2a2a" stroke-width="0.18">0</text>
<line x1="452.70" y1="559.65" x2="455.90" y2="559.65" stroke="#222" stroke-width="0.9"/>
<text x="450.20" y="561.75" font-size="5.9" text-anchor="end" fill="#2a2a2a" stroke="#2a2a2a" stroke-width="0.18">1</text>
<line x1="452.70" y1="547.10" x2="455.90" y2="547.10" stroke="#222" stroke-width="0.9"/>
<text x="450.20" y="549.20" font-size="5.9" text-anchor="end" fill="#2a2a2a" stroke="#2a2a2a" stroke-width="0.18">2</text>
<line x1="452.70" y1="534.55" x2="455.90" y2="534.55" stroke="#222" stroke-width="0.9"/>
<text x="450.20" y="536.65" font-size="5.9" text-anchor="end" fill="#2a2a2a" stroke="#2a2a2a" stroke-width="0.18">3</text>
<text x="436.70" y="571.20" font-size="6.6" font-weight="bold" fill="#1a1a1a" text-anchor="middle" textLength="88.4" lengthAdjust="spacingAndGlyphs" transform="rotate(-90 436.70 571.20) translate(0 2.38)">Log10 (value of post/pre treatment)</text>
<text x="464.70" y="612.9" font-size="6.3" fill="#222" stroke="#222" stroke-width="0.18" text-anchor="end" textLength="18.5" lengthAdjust="spacingAndGlyphs" transform="rotate(-90 464.70 612.9) translate(0 2.2)">PR/CR</text>
<text x="480.80" y="612.9" font-size="6.3" fill="#222" stroke="#222" stroke-width="0.18" text-anchor="end" textLength="8.1" lengthAdjust="spacingAndGlyphs" transform="rotate(-90 480.80 612.9) translate(0 2.2)">SD</text>
<text x="495.50" y="612.9" font-size="6.3" fill="#222" stroke="#222" stroke-width="0.18" text-anchor="end" textLength="8.1" lengthAdjust="spacingAndGlyphs" transform="rotate(-90 495.50 612.9) translate(0 2.2)">PD</text>
<rect x="0.5" y="0.5" width="519" height="637" fill="none" stroke="#5a5a5a" stroke-width="1"/>
</svg></body></html>
